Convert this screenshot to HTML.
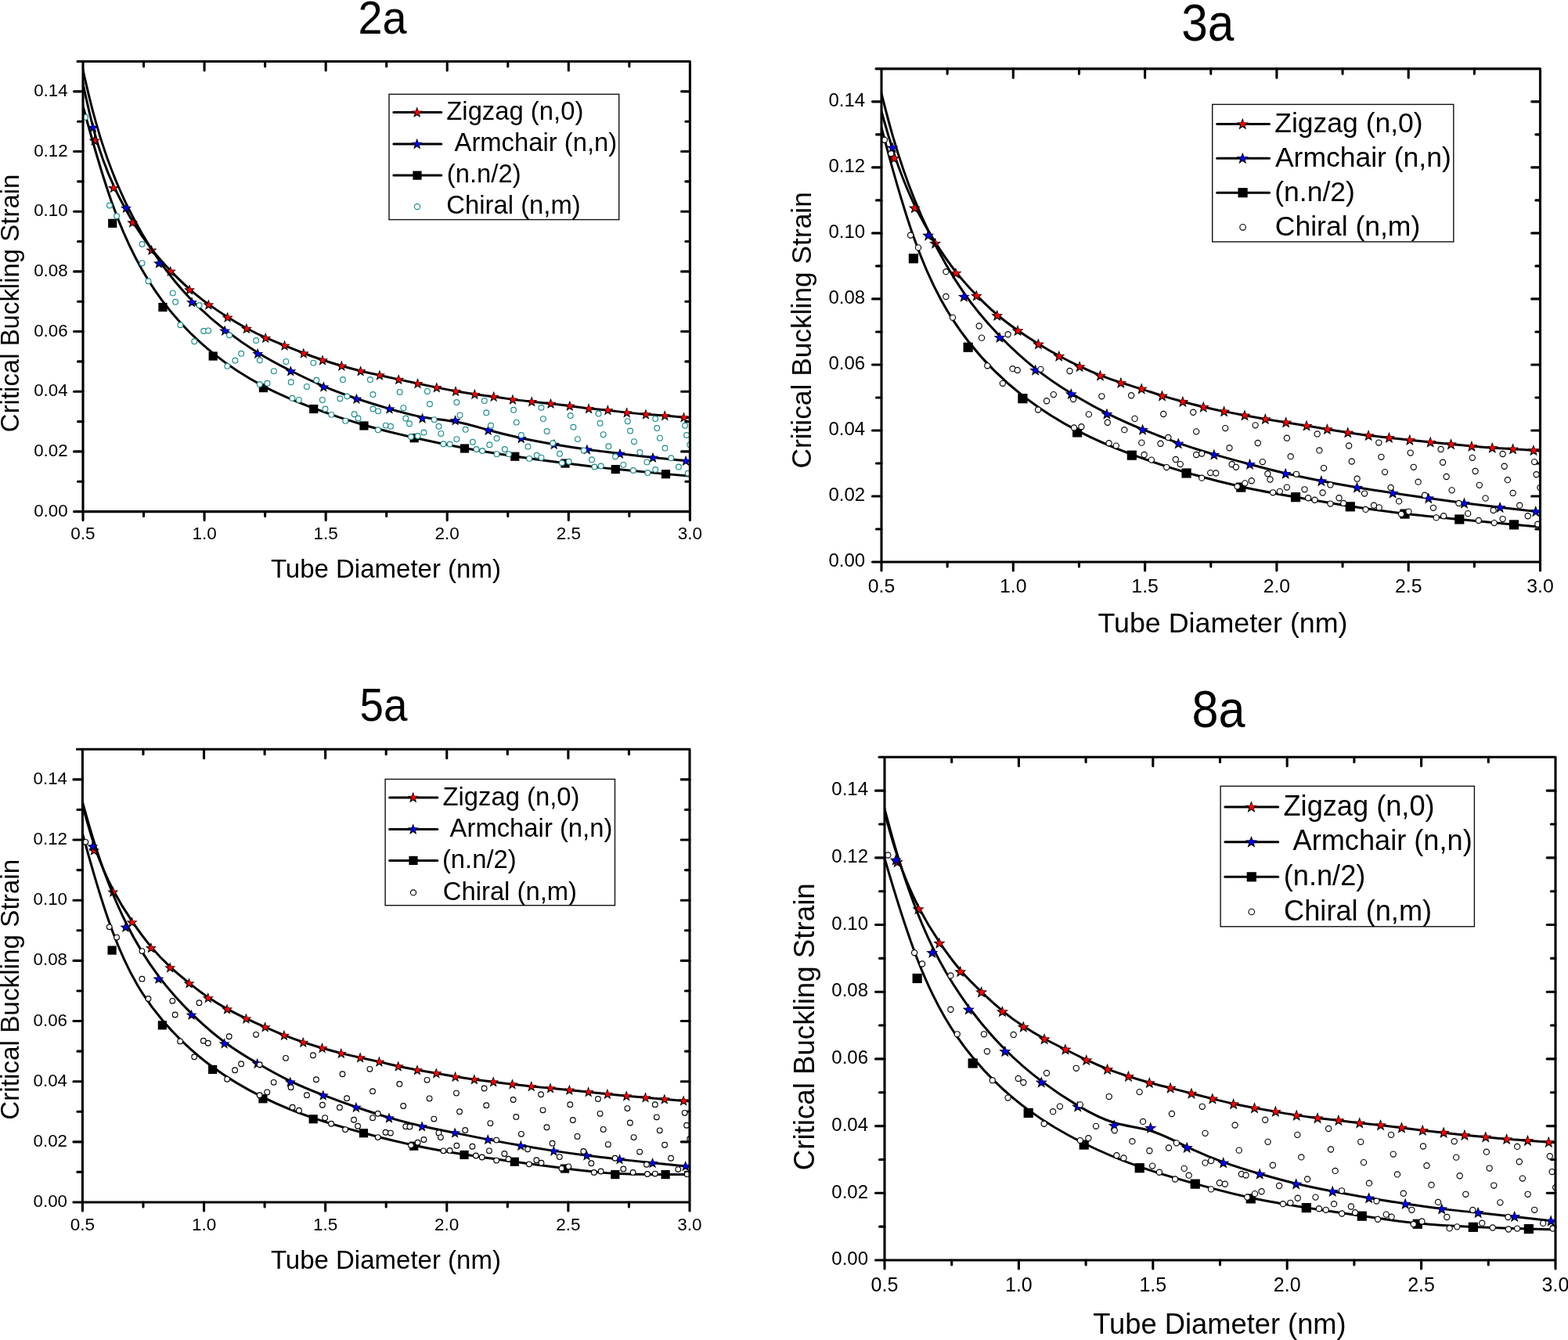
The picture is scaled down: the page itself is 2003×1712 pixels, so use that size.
<!DOCTYPE html>
<html><head><meta charset="utf-8"><title>Critical Buckling Strain</title>
<style>html,body{margin:0;padding:0;background:#fff;}svg{display:block;}</style>
</head><body>
<svg width="2003" height="1712" viewBox="0 0 2003 1712">
<rect width="2003" height="1712" fill="#fff"/>
<g id="p2a">
<clipPath id="clip2a"><rect x="106" y="78.5" width="775.4" height="575.1"/></clipPath>
<path d="M183.54,653.6V659.6 M183.54,78.5V85 M261.08,653.6V664.6 M261.08,78.5V90 M338.62,653.6V659.6 M338.62,78.5V85 M416.16,653.6V664.6 M416.16,78.5V90 M493.7,653.6V659.6 M493.7,78.5V85 M571.24,653.6V664.6 M571.24,78.5V90 M648.78,653.6V659.6 M648.78,78.5V85 M726.32,653.6V664.6 M726.32,78.5V90 M803.86,653.6V659.6 M803.86,78.5V85 M99.5,615.26H106 M875.8,615.26H881.4 M94.5,576.92H106 M870.6,576.92H881.4 M99.5,538.58H106 M875.8,538.58H881.4 M94.5,500.24H106 M870.6,500.24H881.4 M99.5,461.9H106 M875.8,461.9H881.4 M94.5,423.56H106 M870.6,423.56H881.4 M99.5,385.22H106 M875.8,385.22H881.4 M94.5,346.88H106 M870.6,346.88H881.4 M99.5,308.54H106 M875.8,308.54H881.4 M94.5,270.2H106 M870.6,270.2H881.4 M99.5,231.86H106 M875.8,231.86H881.4 M94.5,193.52H106 M870.6,193.52H881.4 M99.5,155.18H106 M875.8,155.18H881.4 M94.5,116.84H106 M870.6,116.84H881.4" fill="none" stroke="#000" stroke-width="3.1" stroke-linecap="round"/>
<g clip-path="url(#clip2a)">
<path d="M96.64,62.47 C96.64,62.47 96.64,62.47 100.69,81.99 C104.74,101.52 112.83,140.58 120.93,170.18 C129.02,199.78 137.12,219.93 145.21,237.39 C153.31,254.86 161.41,269.64 169.5,282.91 C177.6,296.18 185.69,307.95 193.79,318.32 C201.88,328.7 209.98,337.67 218.08,346.12 C226.17,354.56 234.27,362.46 242.36,369.58 C250.46,376.7 258.55,383.04 266.65,388.91 C274.74,394.78 282.84,400.18 290.94,405.26 C299.03,410.34 307.13,415.11 315.22,419.49 C323.32,423.87 331.41,427.87 339.51,431.48 C347.61,435.09 355.7,438.31 363.8,441.57 C371.89,444.83 379.99,448.12 388.08,451.24 C396.18,454.36 404.27,457.31 412.37,460.01 C420.47,462.71 428.56,465.16 436.66,467.47 C444.75,469.79 452.85,471.96 460.94,473.93 C469.04,475.89 477.13,477.65 485.23,479.45 C493.33,481.26 501.42,483.11 509.52,484.88 C517.61,486.66 525.71,488.37 533.8,490.07 C541.9,491.78 550,493.48 558.09,495.12 C566.19,496.76 574.28,498.33 582.38,499.76 C590.47,501.19 598.57,502.49 606.66,503.65 C614.76,504.81 622.86,505.83 630.95,506.96 C639.05,508.09 647.14,509.31 655.24,510.37 C663.33,511.43 671.43,512.32 679.53,513.17 C687.62,514.02 695.72,514.84 703.81,515.76 C711.91,516.68 720,517.71 728.1,518.76 C736.19,519.82 744.29,520.91 752.39,521.8 C760.48,522.69 768.58,523.37 776.67,524.26 C784.77,525.15 792.86,526.24 800.96,527.12 C809.06,528.01 817.15,528.69 825.25,529.31 C833.34,529.92 841.44,530.47 849.53,531.12 C857.63,531.76 865.72,532.51 873.82,533.23 C881.92,533.94 890.01,534.62 898.11,535.25 C906.2,535.89 914.3,536.49 918.35,536.79 C922.39,537.09 922.39,537.09 922.39,537.09" fill="none" stroke="#000" stroke-width="3" stroke-linejoin="round"/>
<path d="M120.63,172.63 L122.45,177.52 L127.67,177.74 L123.58,180.99 L124.98,186.02 L120.63,183.14 L116.28,186.02 L117.67,180.99 L113.59,177.74 L118.8,177.52Z" fill="#000"/><path d="M121.03,174.97 L122.29,177.89 L125.46,178.19 L123.07,180.29 L123.77,183.4 L121.03,181.77 L118.29,183.4 L118.99,180.29 L116.59,178.19 L119.77,177.89Z" fill="#ff0000"/>
<path d="M144.91,233.08 L146.74,237.97 L151.95,238.19 L147.87,241.44 L149.26,246.47 L144.91,243.59 L140.57,246.47 L141.96,241.44 L137.88,238.19 L143.09,237.97Z" fill="#000"/><path d="M145.31,235.42 L146.58,238.35 L149.75,238.64 L147.35,240.74 L148.05,243.85 L145.31,242.23 L142.57,243.85 L143.28,240.74 L140.88,238.64 L144.05,238.35Z" fill="#ff0000"/>
<path d="M169.2,277.41 L171.03,282.3 L176.24,282.53 L172.16,285.77 L173.55,290.8 L169.2,287.92 L164.85,290.8 L166.25,285.77 L162.16,282.53 L167.37,282.3Z" fill="#000"/><path d="M169.6,279.75 L170.86,282.68 L174.04,282.97 L171.64,285.08 L172.34,288.18 L169.6,286.56 L166.86,288.18 L167.56,285.08 L165.17,282.97 L168.34,282.68Z" fill="#ff0000"/>
<path d="M193.49,312.72 L195.32,317.6 L200.53,317.83 L196.44,321.08 L197.84,326.11 L193.49,323.23 L189.14,326.11 L190.53,321.08 L186.45,317.83 L191.66,317.6Z" fill="#000"/><path d="M193.89,315.06 L195.15,317.98 L198.32,318.28 L195.93,320.38 L196.63,323.49 L193.89,321.86 L191.15,323.49 L191.85,320.38 L189.45,318.28 L192.63,317.98Z" fill="#ff0000"/>
<path d="M217.78,339.65 L219.6,344.54 L224.81,344.77 L220.73,348.01 L222.12,353.04 L217.78,350.16 L213.43,353.04 L214.82,348.01 L210.74,344.77 L215.95,344.54Z" fill="#000"/><path d="M218.18,341.99 L219.44,344.92 L222.61,345.21 L220.21,347.32 L220.92,350.42 L218.18,348.8 L215.43,350.42 L216.14,347.32 L213.74,345.21 L216.91,344.92Z" fill="#ff0000"/>
<path d="M242.06,363.36 L243.89,368.25 L249.1,368.48 L245.02,371.72 L246.41,376.75 L242.06,373.87 L237.71,376.75 L239.11,371.72 L235.02,368.48 L240.24,368.25Z" fill="#000"/><path d="M242.46,365.7 L243.72,368.63 L246.9,368.92 L244.5,371.03 L245.2,374.13 L242.46,372.51 L239.72,374.13 L240.42,371.03 L238.03,368.92 L241.2,368.63Z" fill="#ff0000"/>
<path d="M266.35,382.38 L268.18,387.27 L273.39,387.49 L269.3,390.74 L270.7,395.77 L266.35,392.89 L262,395.77 L263.39,390.74 L259.31,387.49 L264.52,387.27Z" fill="#000"/><path d="M266.75,384.72 L268.01,387.64 L271.18,387.94 L268.79,390.04 L269.49,393.15 L266.75,391.52 L264.01,393.15 L264.71,390.04 L262.32,387.94 L265.49,387.64Z" fill="#ff0000"/>
<path d="M290.64,398.57 L292.46,403.46 L297.67,403.69 L293.59,406.93 L294.99,411.96 L290.64,409.08 L286.29,411.96 L287.68,406.93 L283.6,403.69 L288.81,403.46Z" fill="#000"/><path d="M291.04,400.91 L292.3,403.84 L295.47,404.13 L293.08,406.24 L293.78,409.34 L291.04,407.72 L288.3,409.34 L289,406.24 L286.6,404.13 L289.78,403.84Z" fill="#ff0000"/>
<path d="M314.92,412.87 L316.75,417.76 L321.96,417.99 L317.88,421.23 L319.27,426.26 L314.92,423.38 L310.57,426.26 L311.97,421.23 L307.88,417.99 L313.1,417.76Z" fill="#000"/><path d="M315.32,415.21 L316.58,418.14 L319.76,418.43 L317.36,420.54 L318.06,423.65 L315.32,422.02 L312.58,423.65 L313.28,420.54 L310.89,418.43 L314.06,418.14Z" fill="#ff0000"/>
<path d="M339.21,424.86 L341.04,429.75 L346.25,429.97 L342.17,433.22 L343.56,438.25 L339.21,435.37 L334.86,438.25 L336.25,433.22 L332.17,429.97 L337.38,429.75Z" fill="#000"/><path d="M339.61,427.2 L340.87,430.13 L344.04,430.42 L341.65,432.52 L342.35,435.63 L339.61,434.01 L336.87,435.63 L337.57,432.52 L335.18,430.42 L338.35,430.13Z" fill="#ff0000"/>
<path d="M363.5,434.54 L365.32,439.42 L370.53,439.65 L366.45,442.9 L367.85,447.92 L363.5,445.04 L359.15,447.92 L360.54,442.9 L356.46,439.65 L361.67,439.42Z" fill="#000"/><path d="M363.9,436.87 L365.16,439.8 L368.33,440.09 L365.94,442.2 L366.64,445.31 L363.9,443.68 L361.16,445.31 L361.86,442.2 L359.46,440.09 L362.64,439.8Z" fill="#ff0000"/>
<path d="M387.78,444.42 L389.61,449.31 L394.82,449.53 L390.74,452.78 L392.13,457.81 L387.78,454.93 L383.43,457.81 L384.83,452.78 L380.75,449.53 L385.96,449.31Z" fill="#000"/><path d="M388.18,446.76 L389.44,449.68 L392.62,449.98 L390.22,452.08 L390.92,455.19 L388.18,453.56 L385.44,455.19 L386.14,452.08 L383.75,449.98 L386.92,449.68Z" fill="#ff0000"/>
<path d="M412.07,453.25 L413.9,458.14 L419.11,458.37 L415.03,461.61 L416.42,466.64 L412.07,463.76 L407.72,466.64 L409.11,461.61 L405.03,458.37 L410.24,458.14Z" fill="#000"/><path d="M412.47,455.59 L413.73,458.52 L416.9,458.81 L414.51,460.92 L415.21,464.02 L412.47,462.4 L409.73,464.02 L410.43,460.92 L408.04,458.81 L411.21,458.52Z" fill="#ff0000"/>
<path d="M436.36,460.61 L438.18,465.5 L443.39,465.73 L439.31,468.97 L440.71,474 L436.36,471.12 L432.01,474 L433.4,468.97 L429.32,465.73 L434.53,465.5Z" fill="#000"/><path d="M436.76,462.95 L438.02,465.88 L441.19,466.17 L438.8,468.28 L439.5,471.38 L436.76,469.76 L434.02,471.38 L434.72,468.28 L432.32,466.17 L435.5,465.88Z" fill="#ff0000"/>
<path d="M460.64,467.13 L462.47,472.02 L467.68,472.25 L463.6,475.49 L464.99,480.52 L460.64,477.64 L456.29,480.52 L457.69,475.49 L453.61,472.25 L458.82,472.02Z" fill="#000"/><path d="M461.04,469.47 L462.3,472.4 L465.48,472.69 L463.08,474.8 L463.78,477.9 L461.04,476.28 L458.3,477.9 L459,474.8 L456.61,472.69 L459.78,472.4Z" fill="#ff0000"/>
<path d="M484.93,472.41 L486.76,477.29 L491.97,477.52 L487.89,480.77 L489.28,485.8 L484.93,482.92 L480.58,485.8 L481.97,480.77 L477.89,477.52 L483.1,477.29Z" fill="#000"/><path d="M485.33,474.75 L486.59,477.67 L489.76,477.97 L487.37,480.07 L488.07,483.18 L485.33,481.55 L482.59,483.18 L483.29,480.07 L480.9,477.97 L484.07,477.67Z" fill="#ff0000"/>
<path d="M509.22,477.95 L511.04,482.84 L516.26,483.07 L512.17,486.31 L513.57,491.34 L509.22,488.46 L504.87,491.34 L506.26,486.31 L502.18,483.07 L507.39,482.84Z" fill="#000"/><path d="M509.62,480.29 L510.88,483.22 L514.05,483.51 L511.66,485.62 L512.36,488.73 L509.62,487.1 L506.88,488.73 L507.58,485.62 L505.18,483.51 L508.36,483.22Z" fill="#ff0000"/>
<path d="M533.5,483.07 L535.33,487.96 L540.54,488.18 L536.46,491.43 L537.85,496.46 L533.5,493.58 L529.15,496.46 L530.55,491.43 L526.47,488.18 L531.68,487.96Z" fill="#000"/><path d="M533.9,485.41 L535.16,488.34 L538.34,488.63 L535.94,490.73 L536.64,493.84 L533.9,492.22 L531.16,493.84 L531.86,490.73 L529.47,488.63 L532.64,488.34Z" fill="#ff0000"/>
<path d="M557.79,488.19 L559.62,493.07 L564.83,493.3 L560.75,496.55 L562.14,501.58 L557.79,498.7 L553.44,501.58 L554.84,496.55 L550.75,493.3 L555.96,493.07Z" fill="#000"/><path d="M558.19,490.53 L559.45,493.45 L562.62,493.75 L560.23,495.85 L560.93,498.96 L558.19,497.33 L555.45,498.96 L556.15,495.85 L553.76,493.75 L556.93,493.45Z" fill="#ff0000"/>
<path d="M582.08,492.9 L583.9,497.78 L589.12,498.01 L585.03,501.26 L586.43,506.28 L582.08,503.41 L577.73,506.28 L579.12,501.26 L575.04,498.01 L580.25,497.78Z" fill="#000"/><path d="M582.48,495.24 L583.74,498.16 L586.91,498.46 L584.52,500.56 L585.22,503.67 L582.48,502.04 L579.74,503.67 L580.44,500.56 L578.04,498.46 L581.22,498.16Z" fill="#ff0000"/>
<path d="M606.36,496.79 L608.19,501.67 L613.4,501.9 L609.32,505.15 L610.71,510.17 L606.36,507.3 L602.02,510.17 L603.41,505.15 L599.33,501.9 L604.54,501.67Z" fill="#000"/><path d="M606.76,499.13 L608.03,502.05 L611.2,502.35 L608.8,504.45 L609.5,507.56 L606.76,505.93 L604.02,507.56 L604.73,504.45 L602.33,502.35 L605.5,502.05Z" fill="#ff0000"/>
<path d="M630.65,499.86 L632.48,504.74 L637.69,504.97 L633.61,508.22 L635,513.24 L630.65,510.37 L626.3,513.24 L627.7,508.22 L623.61,504.97 L628.82,504.74Z" fill="#000"/><path d="M631.05,502.2 L632.31,505.12 L635.49,505.42 L633.09,507.52 L633.79,510.63 L631.05,509 L628.31,510.63 L629.01,507.52 L626.62,505.42 L629.79,505.12Z" fill="#ff0000"/>
<path d="M654.94,503.54 L656.77,508.43 L661.98,508.66 L657.89,511.9 L659.29,516.93 L654.94,514.05 L650.59,516.93 L651.98,511.9 L647.9,508.66 L653.11,508.43Z" fill="#000"/><path d="M655.34,505.88 L656.6,508.81 L659.77,509.1 L657.38,511.21 L658.08,514.31 L655.34,512.69 L652.6,514.31 L653.3,511.21 L650.9,509.1 L654.08,508.81Z" fill="#ff0000"/>
<path d="M679.23,506.2 L681.05,511.09 L686.26,511.32 L682.18,514.56 L683.57,519.59 L679.23,516.71 L674.88,519.59 L676.27,514.56 L672.19,511.32 L677.4,511.09Z" fill="#000"/><path d="M679.63,508.54 L680.89,511.47 L684.06,511.76 L681.66,513.87 L682.37,516.98 L679.63,515.35 L676.88,516.98 L677.59,513.87 L675.19,511.76 L678.36,511.47Z" fill="#ff0000"/>
<path d="M703.51,508.66 L705.34,513.55 L710.55,513.77 L706.47,517.02 L707.86,522.05 L703.51,519.17 L699.16,522.05 L700.56,517.02 L696.47,513.77 L701.69,513.55Z" fill="#000"/><path d="M703.91,511 L705.17,513.93 L708.35,514.22 L705.95,516.32 L706.65,519.43 L703.91,517.8 L701.17,519.43 L701.87,516.32 L699.48,514.22 L702.65,513.93Z" fill="#ff0000"/>
<path d="M727.8,511.73 L729.63,516.62 L734.84,516.84 L730.75,520.09 L732.15,525.12 L727.8,522.24 L723.45,525.12 L724.84,520.09 L720.76,516.84 L725.97,516.62Z" fill="#000"/><path d="M728.2,514.07 L729.46,517 L732.63,517.29 L730.24,519.39 L730.94,522.5 L728.2,520.88 L725.46,522.5 L726.16,519.39 L723.77,517.29 L726.94,517Z" fill="#ff0000"/>
<path d="M752.09,515.01 L753.91,519.89 L759.12,520.12 L755.04,523.37 L756.44,528.39 L752.09,525.51 L747.74,528.39 L749.13,523.37 L745.05,520.12 L750.26,519.89Z" fill="#000"/><path d="M752.49,517.34 L753.75,520.27 L756.92,520.57 L754.53,522.67 L755.23,525.78 L752.49,524.15 L749.75,525.78 L750.45,522.67 L748.05,520.57 L751.23,520.27Z" fill="#ff0000"/>
<path d="M776.37,517.05 L778.2,521.94 L783.41,522.17 L779.33,525.41 L780.72,530.44 L776.37,527.56 L772.02,530.44 L773.42,525.41 L769.33,522.17 L774.55,521.94Z" fill="#000"/><path d="M776.77,519.39 L778.03,522.32 L781.21,522.61 L778.81,524.72 L779.51,527.82 L776.77,526.2 L774.03,527.82 L774.73,524.72 L772.34,522.61 L775.51,522.32Z" fill="#ff0000"/>
<path d="M800.66,520.33 L802.49,525.21 L807.7,525.44 L803.62,528.69 L805.01,533.72 L800.66,530.84 L796.31,533.72 L797.7,528.69 L793.62,525.44 L798.83,525.21Z" fill="#000"/><path d="M801.06,522.67 L802.32,525.59 L805.49,525.89 L803.1,527.99 L803.8,531.1 L801.06,529.47 L798.32,531.1 L799.02,527.99 L796.63,525.89 L799.8,525.59Z" fill="#ff0000"/>
<path d="M824.95,522.38 L826.77,527.26 L831.98,527.49 L827.9,530.74 L829.3,535.76 L824.95,532.88 L820.6,535.76 L821.99,530.74 L817.91,527.49 L823.12,527.26Z" fill="#000"/><path d="M825.35,524.71 L826.61,527.64 L829.78,527.94 L827.39,530.04 L828.09,533.15 L825.35,531.52 L822.61,533.15 L823.31,530.04 L820.91,527.94 L824.09,527.64Z" fill="#ff0000"/>
<path d="M849.23,524.01 L851.06,528.9 L856.27,529.13 L852.19,532.37 L853.58,537.4 L849.23,534.52 L844.88,537.4 L846.28,532.37 L842.2,529.13 L847.41,528.9Z" fill="#000"/><path d="M849.63,526.35 L850.89,529.28 L854.07,529.57 L851.67,531.68 L852.37,534.78 L849.63,533.16 L846.89,534.78 L847.59,531.68 L845.2,529.57 L848.37,529.28Z" fill="#ff0000"/>
<path d="M873.52,526.27 L875.35,531.15 L880.56,531.38 L876.48,534.63 L877.87,539.65 L873.52,536.77 L869.17,539.65 L870.56,534.63 L866.48,531.38 L871.69,531.15Z" fill="#000"/><path d="M873.92,528.6 L875.18,531.53 L878.35,531.82 L875.96,533.93 L876.66,537.04 L873.92,535.41 L871.18,537.04 L871.88,533.93 L869.49,531.82 L872.66,531.53Z" fill="#ff0000"/>
<path d="M77.12,-51.17 C77.12,-51.17 77.12,-51.17 84.13,-15.48 C91.14,20.22 105.16,91.6 119.18,144.43 C133.21,197.27 147.23,231.55 161.25,260.47 C175.27,289.38 189.29,312.92 203.32,332.98 C217.34,353.04 231.36,369.63 245.38,383.99 C259.4,398.35 273.43,410.48 287.45,421.42 C301.47,432.35 315.49,442.1 329.51,450.68 C343.54,459.27 357.56,466.7 371.58,473.78 C385.6,480.86 399.62,487.59 413.65,493.52 C427.67,499.44 441.69,504.56 455.71,509.25 C469.73,513.94 483.76,518.2 497.78,522.33 C511.8,526.47 525.82,530.48 539.84,532.93 C553.87,535.38 567.89,536.27 581.91,538.83 C595.93,541.39 609.95,545.62 623.98,549.44 C638,553.26 652.02,556.67 666.04,559.67 C680.06,562.67 694.09,565.27 708.11,567.66 C722.13,570.04 736.15,572.23 750.17,574.21 C764.2,576.19 778.22,577.96 792.24,579.67 C806.26,581.37 820.28,583.01 834.31,584.51 C848.33,586.01 862.35,587.38 876.37,588.67 C890.39,589.97 904.42,591.2 918.44,592.36 C932.46,593.52 946.48,594.61 953.49,595.16 C960.51,595.7 960.51,595.7 960.51,595.7" fill="none" stroke="#000" stroke-width="3" stroke-linejoin="round"/>
<path d="M118.88,155.98 L120.71,160.87 L125.92,161.1 L121.84,164.34 L123.23,169.37 L118.88,166.49 L114.53,169.37 L115.93,164.34 L111.85,161.1 L117.06,160.87Z" fill="#000"/><path d="M119.28,158.32 L120.54,161.25 L123.72,161.54 L121.32,163.65 L122.02,166.75 L119.28,165.13 L116.54,166.75 L117.24,163.65 L114.85,161.54 L118.02,161.25Z" fill="#0000ff"/>
<path d="M160.95,258.84 L162.78,263.73 L167.99,263.95 L163.91,267.2 L165.3,272.23 L160.95,269.35 L156.6,272.23 L157.99,267.2 L153.91,263.95 L159.12,263.73Z" fill="#000"/><path d="M161.35,261.18 L162.61,264.1 L165.78,264.4 L163.39,266.5 L164.09,269.61 L161.35,267.98 L158.61,269.61 L159.31,266.5 L156.92,264.4 L160.09,264.1Z" fill="#0000ff"/>
<path d="M203.02,329.45 L204.84,334.34 L210.05,334.57 L205.97,337.81 L207.37,342.84 L203.02,339.96 L198.67,342.84 L200.06,337.81 L195.98,334.57 L201.19,334.34Z" fill="#000"/><path d="M203.42,331.79 L204.68,334.72 L207.85,335.01 L205.46,337.12 L206.16,340.23 L203.42,338.6 L200.68,340.23 L201.38,337.12 L198.98,335.01 L202.16,334.72Z" fill="#0000ff"/>
<path d="M245.08,379.23 L246.91,384.11 L252.12,384.34 L248.04,387.59 L249.43,392.61 L245.08,389.73 L240.73,392.61 L242.13,387.59 L238.04,384.34 L243.26,384.11Z" fill="#000"/><path d="M245.48,381.56 L246.74,384.49 L249.92,384.78 L247.52,386.89 L248.22,390 L245.48,388.37 L242.74,390 L243.44,386.89 L241.05,384.78 L244.22,384.49Z" fill="#0000ff"/>
<path d="M287.15,415.61 L288.98,420.49 L294.19,420.72 L290.1,423.97 L291.5,428.99 L287.15,426.12 L282.8,428.99 L284.19,423.97 L280.11,420.72 L285.32,420.49Z" fill="#000"/><path d="M287.55,417.95 L288.81,420.87 L291.98,421.17 L289.59,423.27 L290.29,426.38 L287.55,424.75 L284.81,426.38 L285.51,423.27 L283.11,421.17 L286.29,420.87Z" fill="#0000ff"/>
<path d="M329.21,444.84 L331.04,449.73 L336.25,449.95 L332.17,453.2 L333.56,458.23 L329.21,455.35 L324.86,458.23 L326.26,453.2 L322.18,449.95 L327.39,449.73Z" fill="#000"/><path d="M329.61,447.18 L330.87,450.11 L334.05,450.4 L331.65,452.5 L332.35,455.61 L329.61,453.98 L326.87,455.61 L327.57,452.5 L325.18,450.4 L328.35,450.11Z" fill="#0000ff"/>
<path d="M371.28,467.13 L373.11,472.02 L378.32,472.25 L374.24,475.49 L375.63,480.52 L371.28,477.64 L366.93,480.52 L368.32,475.49 L364.24,472.25 L369.45,472.02Z" fill="#000"/><path d="M371.68,469.47 L372.94,472.4 L376.11,472.69 L373.72,474.8 L374.42,477.9 L371.68,476.28 L368.94,477.9 L369.64,474.8 L367.25,472.69 L370.42,472.4Z" fill="#0000ff"/>
<path d="M413.35,487.32 L415.17,492.21 L420.38,492.44 L416.3,495.68 L417.7,500.71 L413.35,497.83 L409,500.71 L410.39,495.68 L406.31,492.44 L411.52,492.21Z" fill="#000"/><path d="M413.75,489.66 L415.01,492.59 L418.18,492.88 L415.79,494.98 L416.49,498.09 L413.75,496.47 L411.01,498.09 L411.71,494.98 L409.31,492.88 L412.49,492.59Z" fill="#0000ff"/>
<path d="M455.41,502.67 L457.24,507.56 L462.45,507.79 L458.37,511.03 L459.76,516.06 L455.41,513.18 L451.06,516.06 L452.46,511.03 L448.37,507.79 L453.59,507.56Z" fill="#000"/><path d="M455.81,505.01 L457.07,507.94 L460.25,508.23 L457.85,510.34 L458.55,513.45 L455.81,511.82 L453.07,513.45 L453.77,510.34 L451.38,508.23 L454.55,507.94Z" fill="#0000ff"/>
<path d="M497.48,515.46 L499.31,520.34 L504.52,520.57 L500.43,523.82 L501.83,528.85 L497.48,525.97 L493.13,528.85 L494.52,523.82 L490.44,520.57 L495.65,520.34Z" fill="#000"/><path d="M497.88,517.8 L499.14,520.72 L502.31,521.02 L499.92,523.12 L500.62,526.23 L497.88,524.6 L495.14,526.23 L495.84,523.12 L493.44,521.02 L496.62,520.72Z" fill="#0000ff"/>
<path d="M539.54,527.49 L541.37,532.38 L546.58,532.61 L542.5,535.85 L543.89,540.88 L539.54,538 L535.19,540.88 L536.59,535.85 L532.51,532.61 L537.72,532.38Z" fill="#000"/><path d="M539.94,529.83 L541.21,532.76 L544.38,533.05 L541.98,535.16 L542.68,538.26 L539.94,536.64 L537.2,538.26 L537.91,535.16 L535.51,533.05 L538.68,532.76Z" fill="#0000ff"/>
<path d="M581.61,530.15 L583.44,535.04 L588.65,535.27 L584.57,538.51 L585.96,543.54 L581.61,540.66 L577.26,543.54 L578.65,538.51 L574.57,535.27 L579.78,535.04Z" fill="#000"/><path d="M582.01,532.49 L583.27,535.42 L586.44,535.71 L584.05,537.82 L584.75,540.93 L582.01,539.3 L579.27,540.93 L579.97,537.82 L577.58,535.71 L580.75,535.42Z" fill="#0000ff"/>
<path d="M623.68,542.85 L625.5,547.73 L630.71,547.96 L626.63,551.21 L628.03,556.23 L623.68,553.35 L619.33,556.23 L620.72,551.21 L616.64,547.96 L621.85,547.73Z" fill="#000"/><path d="M624.08,545.18 L625.34,548.11 L628.51,548.41 L626.12,550.51 L626.82,553.62 L624.08,551.99 L621.34,553.62 L622.04,550.51 L619.64,548.41 L622.82,548.11Z" fill="#0000ff"/>
<path d="M665.74,553.08 L667.57,557.97 L672.78,558.2 L668.7,561.44 L670.09,566.47 L665.74,563.59 L661.39,566.47 L662.79,561.44 L658.7,558.2 L663.92,557.97Z" fill="#000"/><path d="M666.14,555.42 L667.4,558.35 L670.58,558.64 L668.18,560.74 L668.88,563.85 L666.14,562.23 L663.4,563.85 L664.1,560.74 L661.71,558.64 L664.88,558.35Z" fill="#0000ff"/>
<path d="M707.81,560.86 L709.64,565.75 L714.85,565.97 L710.76,569.22 L712.16,574.25 L707.81,571.37 L703.46,574.25 L704.85,569.22 L700.77,565.97 L705.98,565.75Z" fill="#000"/><path d="M708.21,563.2 L709.47,566.13 L712.64,566.42 L710.25,568.52 L710.95,571.63 L708.21,570.01 L705.47,571.63 L706.17,568.52 L703.77,566.42 L706.95,566.13Z" fill="#0000ff"/>
<path d="M749.87,567.41 L751.7,572.3 L756.91,572.52 L752.83,575.77 L754.22,580.8 L749.87,577.92 L745.53,580.8 L746.92,575.77 L742.84,572.52 L748.05,572.3Z" fill="#000"/><path d="M750.27,569.75 L751.54,572.68 L754.71,572.97 L752.31,575.07 L753.02,578.18 L750.27,576.56 L747.53,578.18 L748.24,575.07 L745.84,572.97 L749.01,572.68Z" fill="#0000ff"/>
<path d="M791.94,572.73 L793.77,577.62 L798.98,577.85 L794.9,581.09 L796.29,586.12 L791.94,583.24 L787.59,586.12 L788.98,581.09 L784.9,577.85 L790.11,577.62Z" fill="#000"/><path d="M792.34,575.07 L793.6,578 L796.77,578.29 L794.38,580.4 L795.08,583.51 L792.34,581.88 L789.6,583.51 L790.3,580.4 L787.91,578.29 L791.08,578Z" fill="#0000ff"/>
<path d="M834.01,577.65 L835.83,582.53 L841.04,582.76 L836.96,586.01 L838.36,591.03 L834.01,588.15 L829.66,591.03 L831.05,586.01 L826.97,582.76 L832.18,582.53Z" fill="#000"/><path d="M834.41,579.98 L835.67,582.91 L838.84,583.21 L836.45,585.31 L837.15,588.42 L834.41,586.79 L831.67,588.42 L832.37,585.31 L829.97,583.21 L833.15,582.91Z" fill="#0000ff"/>
<path d="M876.07,581.74 L877.9,586.63 L883.11,586.85 L879.03,590.1 L880.42,595.13 L876.07,592.25 L871.72,595.13 L873.12,590.1 L869.04,586.85 L874.25,586.63Z" fill="#000"/><path d="M876.47,584.08 L877.73,587.01 L880.91,587.3 L878.51,589.4 L879.21,592.51 L876.47,590.89 L873.73,592.51 L874.43,589.4 L872.04,587.3 L875.21,587.01Z" fill="#0000ff"/>
<path d="M79.43,32.92 C79.43,32.92 79.43,32.92 90.14,74.98 C100.85,117.04 122.27,201.17 143.69,261.1 C165.11,321.04 186.53,356.79 207.95,385.07 C229.37,413.35 250.79,434.17 272.2,451.35 C293.62,468.52 315.04,482.05 336.46,493.31 C357.88,504.56 379.3,513.53 400.72,521.59 C422.14,529.65 443.56,536.8 464.98,543 C486.39,549.19 507.81,554.43 529.23,559.27 C550.65,564.11 572.07,568.54 593.49,572.47 C614.91,576.39 636.33,579.8 657.75,582.98 C679.17,586.15 700.58,589.08 722,591.81 C743.42,594.54 764.84,597.07 786.26,599.35 C807.68,601.64 829.1,603.68 850.52,605.63 C871.94,607.57 893.36,609.42 914.77,611.16 C936.19,612.9 957.61,614.53 968.32,615.35 C979.03,616.17 979.03,616.17 979.03,616.17" fill="none" stroke="#000" stroke-width="3" stroke-linejoin="round"/>
<rect x="138.09" y="279.69" width="11.2" height="11.2" fill="#000"/>
<rect x="202.35" y="386.93" width="11.2" height="11.2" fill="#000"/>
<rect x="266.6" y="449.39" width="11.2" height="11.2" fill="#000"/>
<rect x="330.86" y="489.98" width="11.2" height="11.2" fill="#000"/>
<rect x="395.12" y="516.9" width="11.2" height="11.2" fill="#000"/>
<rect x="459.38" y="538.35" width="11.2" height="11.2" fill="#000"/>
<rect x="523.63" y="554.07" width="11.2" height="11.2" fill="#000"/>
<rect x="587.89" y="567.38" width="11.2" height="11.2" fill="#000"/>
<rect x="652.15" y="577.61" width="11.2" height="11.2" fill="#000"/>
<rect x="716.4" y="586.42" width="11.2" height="11.2" fill="#000"/>
<rect x="780.66" y="593.99" width="11.2" height="11.2" fill="#000"/>
<rect x="844.92" y="600.13" width="11.2" height="11.2" fill="#000"/>
<circle cx="109.11" cy="149.84" r="3.4" fill="#fff" stroke="#1a8c8c" stroke-width="1.15"/>
<circle cx="139.95" cy="262.51" r="3.4" fill="#fff" stroke="#1a8c8c" stroke-width="1.15"/>
<circle cx="149.06" cy="276" r="3.4" fill="#fff" stroke="#1a8c8c" stroke-width="1.15"/>
<circle cx="181.54" cy="311.96" r="3.4" fill="#fff" stroke="#1a8c8c" stroke-width="1.15"/>
<circle cx="181.54" cy="336.14" r="3.4" fill="#fff" stroke="#1a8c8c" stroke-width="1.15"/>
<circle cx="189.55" cy="359.27" r="3.4" fill="#fff" stroke="#1a8c8c" stroke-width="1.15"/>
<circle cx="220.7" cy="374.39" r="3.4" fill="#fff" stroke="#1a8c8c" stroke-width="1.15"/>
<circle cx="224.08" cy="385.8" r="3.4" fill="#fff" stroke="#1a8c8c" stroke-width="1.15"/>
<circle cx="230.39" cy="415.25" r="3.4" fill="#fff" stroke="#1a8c8c" stroke-width="1.15"/>
<circle cx="248.26" cy="436.28" r="3.4" fill="#fff" stroke="#1a8c8c" stroke-width="1.15"/>
<circle cx="254.57" cy="390.01" r="3.4" fill="#fff" stroke="#1a8c8c" stroke-width="1.15"/>
<circle cx="260.25" cy="423.03" r="3.4" fill="#fff" stroke="#1a8c8c" stroke-width="1.15"/>
<circle cx="266.14" cy="422.4" r="3.4" fill="#fff" stroke="#1a8c8c" stroke-width="1.15"/>
<circle cx="290.33" cy="467.82" r="3.4" fill="#fff" stroke="#1a8c8c" stroke-width="1.15"/>
<circle cx="293.06" cy="428.29" r="3.4" fill="#fff" stroke="#1a8c8c" stroke-width="1.15"/>
<circle cx="300.42" cy="460.46" r="3.4" fill="#fff" stroke="#1a8c8c" stroke-width="1.15"/>
<circle cx="308.2" cy="451.84" r="3.4" fill="#fff" stroke="#1a8c8c" stroke-width="1.15"/>
<circle cx="327.13" cy="435.02" r="3.4" fill="#fff" stroke="#1a8c8c" stroke-width="1.15"/>
<circle cx="331.76" cy="460.25" r="3.4" fill="#fff" stroke="#1a8c8c" stroke-width="1.15"/>
<circle cx="331.76" cy="490.96" r="3.4" fill="#fff" stroke="#1a8c8c" stroke-width="1.15"/>
<circle cx="341.43" cy="489.7" r="3.4" fill="#fff" stroke="#1a8c8c" stroke-width="1.15"/>
<circle cx="349.84" cy="474.13" r="3.4" fill="#fff" stroke="#1a8c8c" stroke-width="1.15"/>
<circle cx="365.4" cy="461.93" r="3.4" fill="#fff" stroke="#1a8c8c" stroke-width="1.15"/>
<circle cx="371.71" cy="488.22" r="3.4" fill="#fff" stroke="#1a8c8c" stroke-width="1.15"/>
<circle cx="373.4" cy="508.83" r="3.4" fill="#fff" stroke="#1a8c8c" stroke-width="1.15"/>
<circle cx="381.81" cy="510.94" r="3.4" fill="#fff" stroke="#1a8c8c" stroke-width="1.15"/>
<circle cx="391.9" cy="493.9" r="3.4" fill="#fff" stroke="#1a8c8c" stroke-width="1.15"/>
<circle cx="400.32" cy="463.62" r="3.4" fill="#fff" stroke="#1a8c8c" stroke-width="1.15"/>
<circle cx="404.31" cy="485.7" r="3.4" fill="#fff" stroke="#1a8c8c" stroke-width="1.15"/>
<circle cx="411.88" cy="510.94" r="3.4" fill="#fff" stroke="#1a8c8c" stroke-width="1.15"/>
<circle cx="415.46" cy="522.5" r="3.4" fill="#fff" stroke="#1a8c8c" stroke-width="1.15"/>
<circle cx="423.24" cy="529.86" r="3.4" fill="#fff" stroke="#1a8c8c" stroke-width="1.15"/>
<circle cx="434.38" cy="509.25" r="3.4" fill="#fff" stroke="#1a8c8c" stroke-width="1.15"/>
<circle cx="437.96" cy="485.07" r="3.4" fill="#fff" stroke="#1a8c8c" stroke-width="1.15"/>
<circle cx="441.32" cy="537.64" r="3.4" fill="#fff" stroke="#1a8c8c" stroke-width="1.15"/>
<circle cx="443.43" cy="506.52" r="3.4" fill="#fff" stroke="#1a8c8c" stroke-width="1.15"/>
<circle cx="452.68" cy="529.23" r="3.4" fill="#fff" stroke="#1a8c8c" stroke-width="1.15"/>
<circle cx="457.52" cy="534.49" r="3.4" fill="#fff" stroke="#1a8c8c" stroke-width="1.15"/>
<circle cx="472.87" cy="485.07" r="3.4" fill="#fff" stroke="#1a8c8c" stroke-width="1.15"/>
<circle cx="476.45" cy="504" r="3.4" fill="#fff" stroke="#1a8c8c" stroke-width="1.15"/>
<circle cx="476.45" cy="522.5" r="3.4" fill="#fff" stroke="#1a8c8c" stroke-width="1.15"/>
<circle cx="483.12" cy="525.36" r="3.4" fill="#fff" stroke="#1a8c8c" stroke-width="1.15"/>
<circle cx="482.91" cy="549.32" r="3.4" fill="#fff" stroke="#1a8c8c" stroke-width="1.15"/>
<circle cx="492.77" cy="543.62" r="3.4" fill="#fff" stroke="#1a8c8c" stroke-width="1.15"/>
<circle cx="498.99" cy="544.76" r="3.4" fill="#fff" stroke="#1a8c8c" stroke-width="1.15"/>
<circle cx="510.71" cy="500.92" r="3.4" fill="#fff" stroke="#1a8c8c" stroke-width="1.15"/>
<circle cx="515.41" cy="521.19" r="3.4" fill="#fff" stroke="#1a8c8c" stroke-width="1.15"/>
<circle cx="518.28" cy="534.49" r="3.4" fill="#fff" stroke="#1a8c8c" stroke-width="1.15"/>
<circle cx="522.99" cy="541.25" r="3.4" fill="#fff" stroke="#1a8c8c" stroke-width="1.15"/>
<circle cx="533.63" cy="557.01" r="3.4" fill="#fff" stroke="#1a8c8c" stroke-width="1.15"/>
<circle cx="525.04" cy="558.03" r="3.4" fill="#fff" stroke="#1a8c8c" stroke-width="1.15"/>
<circle cx="541.41" cy="552.51" r="3.4" fill="#fff" stroke="#1a8c8c" stroke-width="1.15"/>
<circle cx="545.92" cy="499.9" r="3.4" fill="#fff" stroke="#1a8c8c" stroke-width="1.15"/>
<circle cx="548.99" cy="516.27" r="3.4" fill="#fff" stroke="#1a8c8c" stroke-width="1.15"/>
<circle cx="554.72" cy="536.13" r="3.4" fill="#fff" stroke="#1a8c8c" stroke-width="1.15"/>
<circle cx="560.45" cy="544.73" r="3.4" fill="#fff" stroke="#1a8c8c" stroke-width="1.15"/>
<circle cx="563.32" cy="553.94" r="3.4" fill="#fff" stroke="#1a8c8c" stroke-width="1.15"/>
<circle cx="566.39" cy="567.25" r="3.4" fill="#fff" stroke="#1a8c8c" stroke-width="1.15"/>
<circle cx="574.58" cy="567.45" r="3.4" fill="#fff" stroke="#1a8c8c" stroke-width="1.15"/>
<circle cx="583.38" cy="514.02" r="3.4" fill="#fff" stroke="#1a8c8c" stroke-width="1.15"/>
<circle cx="583.38" cy="561.11" r="3.4" fill="#fff" stroke="#1a8c8c" stroke-width="1.15"/>
<circle cx="587.47" cy="530.4" r="3.4" fill="#fff" stroke="#1a8c8c" stroke-width="1.15"/>
<circle cx="594.64" cy="548.82" r="3.4" fill="#fff" stroke="#1a8c8c" stroke-width="1.15"/>
<circle cx="603.85" cy="564.79" r="3.4" fill="#fff" stroke="#1a8c8c" stroke-width="1.15"/>
<circle cx="608.56" cy="574" r="3.4" fill="#fff" stroke="#1a8c8c" stroke-width="1.15"/>
<circle cx="616.13" cy="576.05" r="3.4" fill="#fff" stroke="#1a8c8c" stroke-width="1.15"/>
<circle cx="618.79" cy="511.98" r="3.4" fill="#fff" stroke="#1a8c8c" stroke-width="1.15"/>
<circle cx="621.25" cy="527.33" r="3.4" fill="#fff" stroke="#1a8c8c" stroke-width="1.15"/>
<circle cx="625.34" cy="568.27" r="3.4" fill="#fff" stroke="#1a8c8c" stroke-width="1.15"/>
<circle cx="626.98" cy="543.71" r="3.4" fill="#fff" stroke="#1a8c8c" stroke-width="1.15"/>
<circle cx="634.55" cy="560.08" r="3.4" fill="#fff" stroke="#1a8c8c" stroke-width="1.15"/>
<circle cx="634.55" cy="580.14" r="3.4" fill="#fff" stroke="#1a8c8c" stroke-width="1.15"/>
<circle cx="644.79" cy="574" r="3.4" fill="#fff" stroke="#1a8c8c" stroke-width="1.15"/>
<circle cx="649.91" cy="580.14" r="3.4" fill="#fff" stroke="#1a8c8c" stroke-width="1.15"/>
<circle cx="656.05" cy="523.85" r="3.4" fill="#fff" stroke="#1a8c8c" stroke-width="1.15"/>
<circle cx="659.73" cy="539.61" r="3.4" fill="#fff" stroke="#1a8c8c" stroke-width="1.15"/>
<circle cx="665.88" cy="555.99" r="3.4" fill="#fff" stroke="#1a8c8c" stroke-width="1.15"/>
<circle cx="674.47" cy="570.52" r="3.4" fill="#fff" stroke="#1a8c8c" stroke-width="1.15"/>
<circle cx="676.11" cy="585.88" r="3.4" fill="#fff" stroke="#1a8c8c" stroke-width="1.15"/>
<circle cx="685.73" cy="581.78" r="3.4" fill="#fff" stroke="#1a8c8c" stroke-width="1.15"/>
<circle cx="691.46" cy="584.65" r="3.4" fill="#fff" stroke="#1a8c8c" stroke-width="1.15"/>
<circle cx="691.46" cy="520.78" r="3.4" fill="#fff" stroke="#1a8c8c" stroke-width="1.15"/>
<circle cx="693.92" cy="535.11" r="3.4" fill="#fff" stroke="#1a8c8c" stroke-width="1.15"/>
<circle cx="698.63" cy="551.07" r="3.4" fill="#fff" stroke="#1a8c8c" stroke-width="1.15"/>
<circle cx="706.2" cy="566.22" r="3.4" fill="#fff" stroke="#1a8c8c" stroke-width="1.15"/>
<circle cx="715.01" cy="579.73" r="3.4" fill="#fff" stroke="#1a8c8c" stroke-width="1.15"/>
<circle cx="717.87" cy="591.4" r="3.4" fill="#fff" stroke="#1a8c8c" stroke-width="1.15"/>
<circle cx="726.67" cy="589.76" r="3.4" fill="#fff" stroke="#1a8c8c" stroke-width="1.15"/>
<circle cx="728.72" cy="531.01" r="3.4" fill="#fff" stroke="#1a8c8c" stroke-width="1.15"/>
<circle cx="732.41" cy="545.75" r="3.4" fill="#fff" stroke="#1a8c8c" stroke-width="1.15"/>
<circle cx="737.93" cy="561.11" r="3.4" fill="#fff" stroke="#1a8c8c" stroke-width="1.15"/>
<circle cx="745.71" cy="575.44" r="3.4" fill="#fff" stroke="#1a8c8c" stroke-width="1.15"/>
<circle cx="755.95" cy="587.31" r="3.4" fill="#fff" stroke="#1a8c8c" stroke-width="1.15"/>
<circle cx="759.43" cy="596.52" r="3.4" fill="#fff" stroke="#1a8c8c" stroke-width="1.15"/>
<circle cx="767.62" cy="595.5" r="3.4" fill="#fff" stroke="#1a8c8c" stroke-width="1.15"/>
<circle cx="764.54" cy="528.56" r="3.4" fill="#fff" stroke="#1a8c8c" stroke-width="1.15"/>
<circle cx="766.59" cy="540.84" r="3.4" fill="#fff" stroke="#1a8c8c" stroke-width="1.15"/>
<circle cx="770.69" cy="555.17" r="3.4" fill="#fff" stroke="#1a8c8c" stroke-width="1.15"/>
<circle cx="777.44" cy="570.32" r="3.4" fill="#fff" stroke="#1a8c8c" stroke-width="1.15"/>
<circle cx="786.04" cy="583.21" r="3.4" fill="#fff" stroke="#1a8c8c" stroke-width="1.15"/>
<circle cx="796.27" cy="593.86" r="3.4" fill="#fff" stroke="#1a8c8c" stroke-width="1.15"/>
<circle cx="801.8" cy="538.18" r="3.4" fill="#fff" stroke="#1a8c8c" stroke-width="1.15"/>
<circle cx="805.08" cy="550.46" r="3.4" fill="#fff" stroke="#1a8c8c" stroke-width="1.15"/>
<circle cx="809.99" cy="564.18" r="3.4" fill="#fff" stroke="#1a8c8c" stroke-width="1.15"/>
<circle cx="817.36" cy="578.1" r="3.4" fill="#fff" stroke="#1a8c8c" stroke-width="1.15"/>
<circle cx="808.97" cy="601.02" r="3.4" fill="#fff" stroke="#1a8c8c" stroke-width="1.15"/>
<circle cx="826.37" cy="590.38" r="3.4" fill="#fff" stroke="#1a8c8c" stroke-width="1.15"/>
<circle cx="827.39" cy="604.09" r="3.4" fill="#fff" stroke="#1a8c8c" stroke-width="1.15"/>
<circle cx="837.22" cy="600" r="3.4" fill="#fff" stroke="#1a8c8c" stroke-width="1.15"/>
<circle cx="837.22" cy="535.11" r="3.4" fill="#fff" stroke="#1a8c8c" stroke-width="1.15"/>
<circle cx="839.26" cy="546.98" r="3.4" fill="#fff" stroke="#1a8c8c" stroke-width="1.15"/>
<circle cx="842.95" cy="559.67" r="3.4" fill="#fff" stroke="#1a8c8c" stroke-width="1.15"/>
<circle cx="849.5" cy="572.57" r="3.4" fill="#fff" stroke="#1a8c8c" stroke-width="1.15"/>
<circle cx="857.28" cy="585.26" r="3.4" fill="#fff" stroke="#1a8c8c" stroke-width="1.15"/>
<circle cx="866.9" cy="596.52" r="3.4" fill="#fff" stroke="#1a8c8c" stroke-width="1.15"/>
<circle cx="875.09" cy="543.71" r="3.4" fill="#fff" stroke="#1a8c8c" stroke-width="1.15"/>
<circle cx="877.13" cy="555.99" r="3.4" fill="#fff" stroke="#1a8c8c" stroke-width="1.15"/>
<circle cx="881.23" cy="568.27" r="3.4" fill="#fff" stroke="#1a8c8c" stroke-width="1.15"/>
<circle cx="878.77" cy="604.71" r="3.4" fill="#fff" stroke="#1a8c8c" stroke-width="1.15"/>
</g>
<path d="M99,78.5H881.4 M94.5,653.6H881.4 M106,78.5V664.6 M881.4,78.5V664.6" fill="none" stroke="#000" stroke-width="3.1" stroke-linecap="round"/>
<g font-family="'Liberation Sans', Arial, Helvetica, sans-serif" fill="#000"><text x="86.6" y="659.6" text-anchor="end" font-size="22.3">0.00</text><text x="86.6" y="582.92" text-anchor="end" font-size="22.3">0.02</text><text x="86.6" y="506.24" text-anchor="end" font-size="22.3">0.04</text><text x="86.6" y="429.56" text-anchor="end" font-size="22.3">0.06</text><text x="86.6" y="352.88" text-anchor="end" font-size="22.3">0.08</text><text x="86.6" y="276.2" text-anchor="end" font-size="22.3">0.10</text><text x="86.6" y="199.52" text-anchor="end" font-size="22.3">0.12</text><text x="86.6" y="122.84" text-anchor="end" font-size="22.3">0.14</text><text x="106" y="689" text-anchor="middle" font-size="22.5">0.5</text><text x="261.08" y="689" text-anchor="middle" font-size="22.5">1.0</text><text x="416.16" y="689" text-anchor="middle" font-size="22.5">1.5</text><text x="571.24" y="689" text-anchor="middle" font-size="22.5">2.0</text><text x="726.32" y="689" text-anchor="middle" font-size="22.5">2.5</text><text x="881.4" y="689" text-anchor="middle" font-size="22.5">3.0</text></g>
<text font-family="'Liberation Sans', Arial, Helvetica, sans-serif" x="492.9" y="737.8" text-anchor="middle" font-size="33">Tube Diameter (nm)</text>
<text font-family="'Liberation Sans', Arial, Helvetica, sans-serif" transform="translate(24.3,387.4) rotate(-90)" text-anchor="middle" font-size="32.95">Critical Buckling Strain</text>
<text font-family="'Liberation Sans', Arial, Helvetica, sans-serif" x="457.48" y="42.8" font-size="59.5" textLength="62.18" lengthAdjust="spacingAndGlyphs">2a</text>
<rect x="497" y="120.4" width="293.7" height="160.2" fill="#fff" stroke="#111" stroke-width="1.4"/>
<path d="M502.9,143.6H563.8" stroke="#000" stroke-width="3" stroke-linecap="round"/>
<path d="M502.9,184H563.8" stroke="#000" stroke-width="3" stroke-linecap="round"/>
<path d="M502.9,224.1H563.8" stroke="#000" stroke-width="3" stroke-linecap="round"/>
<path d="M532.7,136.45 L534.56,141.44 L539.88,141.67 L535.72,144.98 L537.14,150.11 L532.7,147.17 L528.26,150.11 L529.68,144.98 L525.52,141.67 L530.84,141.44Z" fill="#000"/><path d="M533.1,138.84 L534.39,141.83 L537.62,142.13 L535.18,144.28 L535.9,147.45 L533.1,145.79 L530.3,147.45 L531.02,144.28 L528.58,142.13 L531.81,141.83Z" fill="#ff0000"/>
<path d="M532.7,176.85 L534.56,181.84 L539.88,182.07 L535.72,185.38 L537.14,190.51 L532.7,187.57 L528.26,190.51 L529.68,185.38 L525.52,182.07 L530.84,181.84Z" fill="#000"/><path d="M533.1,179.24 L534.39,182.23 L537.62,182.53 L535.18,184.68 L535.9,187.85 L533.1,186.19 L530.3,187.85 L531.02,184.68 L528.58,182.53 L531.81,182.23Z" fill="#0000ff"/>
<rect x="527.4" y="218.5" width="11.2" height="11.2" fill="#000"/>
<circle cx="533" cy="264" r="3.6" fill="#fff" stroke="#1a8c8c" stroke-width="1.15"/>
<text font-family="'Liberation Sans', Arial, Helvetica, sans-serif" x="570.32" y="153" font-size="32.8">Zigzag (n,0)</text>
<text font-family="'Liberation Sans', Arial, Helvetica, sans-serif" x="580.5" y="193.3" font-size="32.8">Armchair (n,n)</text>
<text font-family="'Liberation Sans', Arial, Helvetica, sans-serif" x="570.83" y="233" font-size="32.8">(n.n/2)</text>
<text font-family="'Liberation Sans', Arial, Helvetica, sans-serif" x="570.36" y="272.8" font-size="32.8">Chiral (n,m)</text>
</g>
<g id="p3a">
<clipPath id="clip3a"><rect x="1126" y="87.85" width="841.5" height="630.15"/></clipPath>
<path d="M1210.15,718V724 M1210.15,87.85V94.35 M1294.3,718V729 M1294.3,87.85V99.35 M1378.45,718V724 M1378.45,87.85V94.35 M1462.6,718V729 M1462.6,87.85V99.35 M1546.75,718V724 M1546.75,87.85V94.35 M1630.9,718V729 M1630.9,87.85V99.35 M1715.05,718V724 M1715.05,87.85V94.35 M1799.2,718V729 M1799.2,87.85V99.35 M1883.35,718V724 M1883.35,87.85V94.35 M1119.5,675.99H1126 M1961.9,675.99H1967.5 M1114.5,633.98H1126 M1956.7,633.98H1967.5 M1119.5,591.97H1126 M1961.9,591.97H1967.5 M1114.5,549.96H1126 M1956.7,549.96H1967.5 M1119.5,507.95H1126 M1961.9,507.95H1967.5 M1114.5,465.94H1126 M1956.7,465.94H1967.5 M1119.5,423.93H1126 M1961.9,423.93H1967.5 M1114.5,381.92H1126 M1956.7,381.92H1967.5 M1119.5,339.91H1126 M1961.9,339.91H1967.5 M1114.5,297.9H1126 M1956.7,297.9H1967.5 M1119.5,255.89H1126 M1961.9,255.89H1967.5 M1114.5,213.88H1126 M1956.7,213.88H1967.5 M1119.5,171.87H1126 M1961.9,171.87H1967.5 M1114.5,129.86H1126 M1956.7,129.86H1967.5" fill="none" stroke="#000" stroke-width="3.1" stroke-linecap="round"/>
<g clip-path="url(#clip3a)">
<path d="M1115.84,105.37 C1115.84,105.37 1115.84,105.37 1120.24,121.5 C1124.63,137.64 1133.41,169.91 1142.2,196.64 C1150.99,223.36 1159.77,244.55 1168.56,262.69 C1177.34,280.83 1186.13,295.92 1194.91,309.83 C1203.7,323.73 1212.49,336.44 1221.27,347.6 C1230.06,358.75 1238.84,368.35 1247.63,377.36 C1256.41,386.37 1265.2,394.8 1273.99,402.23 C1282.77,409.67 1291.56,416.12 1300.34,422.21 C1309.13,428.3 1317.92,434.03 1326.7,439.45 C1335.49,444.88 1344.27,450.01 1353.06,454.8 C1361.84,459.6 1370.63,464.07 1379.42,468.2 C1388.2,472.34 1396.99,476.15 1405.77,479.59 C1414.56,483.03 1423.34,486.11 1432.13,488.93 C1440.92,491.75 1449.7,494.31 1458.49,497.09 C1467.27,499.87 1476.06,502.88 1484.84,505.62 C1493.63,508.37 1502.42,510.86 1511.2,513.24 C1519.99,515.62 1528.77,517.89 1537.56,519.95 C1546.34,522.01 1555.13,523.86 1563.92,525.63 C1572.7,527.39 1581.49,529.07 1590.27,530.71 C1599.06,532.35 1607.84,533.96 1616.63,535.46 C1625.42,536.97 1634.2,538.36 1642.99,539.76 C1651.77,541.16 1660.56,542.56 1669.34,544.02 C1678.13,545.49 1686.92,547.03 1695.7,548.5 C1704.49,549.97 1713.27,551.36 1722.06,552.69 C1730.84,554.02 1739.63,555.28 1748.42,556.36 C1757.2,557.44 1765.99,558.35 1774.77,559.3 C1783.56,560.24 1792.34,561.22 1801.13,562.16 C1809.92,563.11 1818.7,564.01 1827.49,564.92 C1836.27,565.83 1845.06,566.74 1853.84,567.61 C1862.63,568.49 1871.42,569.33 1880.2,570.1 C1888.99,570.86 1897.77,571.56 1906.56,572.16 C1915.35,572.75 1924.13,573.24 1932.92,573.77 C1941.7,574.29 1950.49,574.85 1959.27,575.38 C1968.06,575.91 1976.85,576.41 1985.63,576.89 C1994.42,577.36 2003.2,577.81 2007.6,578.04 C2011.99,578.26 2011.99,578.26 2011.99,578.26" fill="none" stroke="#000" stroke-width="3" stroke-linejoin="round"/>
<path d="M1141.9,194.68 L1143.85,199.9 L1149.41,200.14 L1145.06,203.61 L1146.54,208.97 L1141.9,205.9 L1137.26,208.97 L1138.74,203.61 L1134.39,200.14 L1139.95,199.9Z" fill="#000"/><path d="M1142.3,197.2 L1143.65,200.33 L1147.03,200.64 L1144.48,202.89 L1145.23,206.21 L1142.3,204.47 L1139.38,206.21 L1140.12,202.89 L1137.57,200.64 L1140.95,200.33Z" fill="#ff0000"/>
<path d="M1168.26,258.23 L1170.21,263.45 L1175.77,263.69 L1171.41,267.16 L1172.9,272.53 L1168.26,269.45 L1163.61,272.53 L1165.1,267.16 L1160.74,263.69 L1166.31,263.45Z" fill="#000"/><path d="M1168.66,260.76 L1170,263.88 L1173.39,264.2 L1170.84,266.44 L1171.58,269.76 L1168.66,268.02 L1165.73,269.76 L1166.48,266.44 L1163.92,264.2 L1167.31,263.88Z" fill="#ff0000"/>
<path d="M1194.61,303.52 L1196.57,308.73 L1202.13,308.98 L1197.77,312.44 L1199.26,317.81 L1194.61,314.74 L1189.97,317.81 L1191.46,312.44 L1187.1,308.98 L1192.66,308.73Z" fill="#000"/><path d="M1195.01,306.04 L1196.36,309.17 L1199.75,309.48 L1197.19,311.73 L1197.94,315.04 L1195.01,313.31 L1192.09,315.04 L1192.84,311.73 L1190.28,309.48 L1193.67,309.17Z" fill="#ff0000"/>
<path d="M1220.97,341.65 L1222.92,346.87 L1228.49,347.11 L1224.13,350.58 L1225.62,355.94 L1220.97,352.87 L1216.33,355.94 L1217.82,350.58 L1213.46,347.11 L1219.02,346.87Z" fill="#000"/><path d="M1221.37,344.17 L1222.72,347.3 L1226.11,347.61 L1223.55,349.86 L1224.3,353.18 L1221.37,351.44 L1218.45,353.18 L1219.19,349.86 L1216.64,347.61 L1220.03,347.3Z" fill="#ff0000"/>
<path d="M1247.33,370.45 L1249.28,375.67 L1254.84,375.91 L1250.48,379.37 L1251.97,384.74 L1247.33,381.67 L1242.69,384.74 L1244.17,379.37 L1239.82,375.91 L1245.38,375.67Z" fill="#000"/><path d="M1247.73,372.97 L1249.07,376.1 L1252.46,376.41 L1249.91,378.66 L1250.65,381.98 L1247.73,380.24 L1244.8,381.98 L1245.55,378.66 L1243,376.41 L1246.38,376.1Z" fill="#ff0000"/>
<path d="M1273.69,395.72 L1275.64,400.93 L1281.2,401.18 L1276.84,404.64 L1278.33,410.01 L1273.69,406.94 L1269.04,410.01 L1270.53,404.64 L1266.17,401.18 L1271.74,400.93Z" fill="#000"/><path d="M1274.09,398.24 L1275.43,401.37 L1278.82,401.68 L1276.26,403.93 L1277.01,407.25 L1274.09,405.51 L1271.16,407.25 L1271.91,403.93 L1269.35,401.68 L1272.74,401.37Z" fill="#ff0000"/>
<path d="M1300.04,415.07 L1301.99,420.29 L1307.56,420.53 L1303.2,424 L1304.69,429.36 L1300.04,426.29 L1295.4,429.36 L1296.89,424 L1292.53,420.53 L1298.09,420.29Z" fill="#000"/><path d="M1300.44,417.59 L1301.79,420.72 L1305.18,421.03 L1302.62,423.28 L1303.37,426.6 L1300.44,424.86 L1297.52,426.6 L1298.27,423.28 L1295.71,421.03 L1299.1,420.72Z" fill="#ff0000"/>
<path d="M1326.4,432.25 L1328.35,437.47 L1333.91,437.71 L1329.56,441.18 L1331.04,446.55 L1326.4,443.47 L1321.76,446.55 L1323.25,441.18 L1318.89,437.71 L1324.45,437.47Z" fill="#000"/><path d="M1326.8,434.78 L1328.15,437.9 L1331.53,438.22 L1328.98,440.46 L1329.73,443.78 L1326.8,442.04 L1323.88,443.78 L1324.62,440.46 L1322.07,438.22 L1325.46,437.9Z" fill="#ff0000"/>
<path d="M1352.76,447.63 L1354.71,452.85 L1360.27,453.09 L1355.91,456.56 L1357.4,461.92 L1352.76,458.85 L1348.11,461.92 L1349.6,456.56 L1345.24,453.09 L1350.81,452.85Z" fill="#000"/><path d="M1353.16,450.15 L1354.5,453.28 L1357.89,453.59 L1355.34,455.84 L1356.08,459.16 L1353.16,457.42 L1350.23,459.16 L1350.98,455.84 L1348.42,453.59 L1351.81,453.28Z" fill="#ff0000"/>
<path d="M1379.12,461.03 L1381.07,466.25 L1386.63,466.49 L1382.27,469.96 L1383.76,475.32 L1379.12,472.25 L1374.47,475.32 L1375.96,469.96 L1371.6,466.49 L1377.17,466.25Z" fill="#000"/><path d="M1379.52,463.56 L1380.86,466.68 L1384.25,466.99 L1381.69,469.24 L1382.44,472.56 L1379.52,470.82 L1376.59,472.56 L1377.34,469.24 L1374.78,466.99 L1378.17,466.68Z" fill="#ff0000"/>
<path d="M1405.47,472.46 L1407.42,477.67 L1412.99,477.91 L1408.63,481.38 L1410.12,486.75 L1405.47,483.67 L1400.83,486.75 L1402.32,481.38 L1397.96,477.91 L1403.52,477.67Z" fill="#000"/><path d="M1405.87,474.98 L1407.22,478.1 L1410.61,478.42 L1408.05,480.66 L1408.8,483.98 L1405.87,482.25 L1402.95,483.98 L1403.7,480.66 L1401.14,478.42 L1404.53,478.1Z" fill="#ff0000"/>
<path d="M1431.83,481.68 L1433.78,486.9 L1439.34,487.14 L1434.99,490.61 L1436.47,495.97 L1431.83,492.9 L1427.19,495.97 L1428.67,490.61 L1424.32,487.14 L1429.88,486.9Z" fill="#000"/><path d="M1432.23,484.21 L1433.58,487.33 L1436.96,487.64 L1434.41,489.89 L1435.16,493.21 L1432.23,491.47 L1429.3,493.21 L1430.05,489.89 L1427.5,487.64 L1430.88,487.33Z" fill="#ff0000"/>
<path d="M1458.19,489.37 L1460.14,494.59 L1465.7,494.83 L1461.34,498.3 L1462.83,503.66 L1458.19,500.59 L1453.54,503.66 L1455.03,498.3 L1450.67,494.83 L1456.24,494.59Z" fill="#000"/><path d="M1458.59,491.89 L1459.93,495.02 L1463.32,495.33 L1460.76,497.58 L1461.51,500.9 L1458.59,499.16 L1455.66,500.9 L1456.41,497.58 L1453.85,495.33 L1457.24,495.02Z" fill="#ff0000"/>
<path d="M1484.54,498.38 L1486.49,503.59 L1492.06,503.84 L1487.7,507.3 L1489.19,512.67 L1484.54,509.6 L1479.9,512.67 L1481.39,507.3 L1477.03,503.84 L1482.59,503.59Z" fill="#000"/><path d="M1484.94,500.9 L1486.29,504.03 L1489.68,504.34 L1487.12,506.59 L1487.87,509.91 L1484.94,508.17 L1482.02,509.91 L1482.77,506.59 L1480.21,504.34 L1483.6,504.03Z" fill="#ff0000"/>
<path d="M1510.9,505.85 L1512.85,511.06 L1518.41,511.31 L1514.06,514.77 L1515.54,520.14 L1510.9,517.07 L1506.26,520.14 L1507.75,514.77 L1503.39,511.31 L1508.95,511.06Z" fill="#000"/><path d="M1511.3,508.37 L1512.65,511.5 L1516.03,511.81 L1513.48,514.06 L1514.23,517.37 L1511.3,515.64 L1508.38,517.37 L1509.12,514.06 L1506.57,511.81 L1509.96,511.5Z" fill="#ff0000"/>
<path d="M1537.26,512.66 L1539.21,517.87 L1544.77,518.12 L1540.41,521.58 L1541.9,526.95 L1537.26,523.88 L1532.61,526.95 L1534.1,521.58 L1529.75,518.12 L1535.31,517.87Z" fill="#000"/><path d="M1537.66,515.18 L1539,518.31 L1542.39,518.62 L1539.84,520.87 L1540.58,524.18 L1537.66,522.45 L1534.73,524.18 L1535.48,520.87 L1532.93,518.62 L1536.31,518.31Z" fill="#ff0000"/>
<path d="M1563.62,518.21 L1565.57,523.43 L1571.13,523.67 L1566.77,527.14 L1568.26,532.5 L1563.62,529.43 L1558.97,532.5 L1560.46,527.14 L1556.1,523.67 L1561.67,523.43Z" fill="#000"/><path d="M1564.02,520.73 L1565.36,523.86 L1568.75,524.17 L1566.19,526.42 L1566.94,529.74 L1564.02,528 L1561.09,529.74 L1561.84,526.42 L1559.28,524.17 L1562.67,523.86Z" fill="#ff0000"/>
<path d="M1589.97,523.24 L1591.92,528.46 L1597.49,528.7 L1593.13,532.17 L1594.62,537.54 L1589.97,534.46 L1585.33,537.54 L1586.82,532.17 L1582.46,528.7 L1588.02,528.46Z" fill="#000"/><path d="M1590.37,525.77 L1591.72,528.89 L1595.11,529.21 L1592.55,531.45 L1593.3,534.77 L1590.37,533.03 L1587.45,534.77 L1588.2,531.45 L1585.64,529.21 L1589.03,528.89Z" fill="#ff0000"/>
<path d="M1616.33,528.07 L1618.28,533.28 L1623.84,533.53 L1619.49,536.99 L1620.97,542.36 L1616.33,539.29 L1611.69,542.36 L1613.17,536.99 L1608.82,533.53 L1614.38,533.28Z" fill="#000"/><path d="M1616.73,530.59 L1618.08,533.72 L1621.46,534.03 L1618.91,536.27 L1619.66,539.59 L1616.73,537.86 L1613.8,539.59 L1614.55,536.27 L1612,534.03 L1615.38,533.72Z" fill="#ff0000"/>
<path d="M1642.69,532.26 L1644.64,537.48 L1650.2,537.72 L1645.84,541.19 L1647.33,546.55 L1642.69,543.48 L1638.04,546.55 L1639.53,541.19 L1635.17,537.72 L1640.74,537.48Z" fill="#000"/><path d="M1643.09,534.78 L1644.43,537.91 L1647.82,538.22 L1645.26,540.47 L1646.01,543.79 L1643.09,542.05 L1640.16,543.79 L1640.91,540.47 L1638.35,538.22 L1641.74,537.91Z" fill="#ff0000"/>
<path d="M1669.04,536.45 L1670.99,541.67 L1676.56,541.91 L1672.2,545.38 L1673.69,550.75 L1669.04,547.67 L1664.4,550.75 L1665.89,545.38 L1661.53,541.91 L1667.09,541.67Z" fill="#000"/><path d="M1669.44,538.98 L1670.79,542.1 L1674.18,542.42 L1671.62,544.66 L1672.37,547.98 L1669.44,546.24 L1666.52,547.98 L1667.27,544.66 L1664.71,542.42 L1668.1,542.1Z" fill="#ff0000"/>
<path d="M1695.4,541.07 L1697.35,546.28 L1702.92,546.53 L1698.56,549.99 L1700.05,555.36 L1695.4,552.29 L1690.76,555.36 L1692.25,549.99 L1687.89,546.53 L1693.45,546.28Z" fill="#000"/><path d="M1695.8,543.59 L1697.15,546.72 L1700.54,547.03 L1697.98,549.28 L1698.73,552.59 L1695.8,550.86 L1692.88,552.59 L1693.62,549.28 L1691.07,547.03 L1694.46,546.72Z" fill="#ff0000"/>
<path d="M1721.76,545.26 L1723.71,550.48 L1729.27,550.72 L1724.91,554.19 L1726.4,559.55 L1721.76,556.48 L1717.12,559.55 L1718.6,554.19 L1714.25,550.72 L1719.81,550.48Z" fill="#000"/><path d="M1722.16,547.78 L1723.5,550.91 L1726.89,551.22 L1724.34,553.47 L1725.08,556.79 L1722.16,555.05 L1719.23,556.79 L1719.98,553.47 L1717.43,551.22 L1720.81,550.91Z" fill="#ff0000"/>
<path d="M1748.12,549.04 L1750.07,554.25 L1755.63,554.49 L1751.27,557.96 L1752.76,563.33 L1748.12,560.25 L1743.47,563.33 L1744.96,557.96 L1740.6,554.49 L1746.17,554.25Z" fill="#000"/><path d="M1748.52,551.56 L1749.86,554.68 L1753.25,555 L1750.69,557.24 L1751.44,560.56 L1748.52,558.83 L1745.59,560.56 L1746.34,557.24 L1743.78,555 L1747.17,554.68Z" fill="#ff0000"/>
<path d="M1774.47,551.76 L1776.42,556.98 L1781.99,557.22 L1777.63,560.69 L1779.12,566.05 L1774.47,562.98 L1769.83,566.05 L1771.32,560.69 L1766.96,557.22 L1772.52,556.98Z" fill="#000"/><path d="M1774.87,554.28 L1776.22,557.41 L1779.61,557.72 L1777.05,559.97 L1777.8,563.29 L1774.87,561.55 L1771.95,563.29 L1772.7,559.97 L1770.14,557.72 L1773.53,557.41Z" fill="#ff0000"/>
<path d="M1800.83,554.7 L1802.78,559.91 L1808.34,560.16 L1803.99,563.62 L1805.47,568.99 L1800.83,565.92 L1796.19,568.99 L1797.67,563.62 L1793.32,560.16 L1798.88,559.91Z" fill="#000"/><path d="M1801.23,557.22 L1802.58,560.35 L1805.96,560.66 L1803.41,562.9 L1804.16,566.22 L1801.23,564.49 L1798.31,566.22 L1799.05,562.9 L1796.5,560.66 L1799.88,560.35Z" fill="#ff0000"/>
<path d="M1827.19,557.42 L1829.14,562.64 L1834.7,562.88 L1830.34,566.35 L1831.83,571.71 L1827.19,568.64 L1822.54,571.71 L1824.03,566.35 L1819.67,562.88 L1825.24,562.64Z" fill="#000"/><path d="M1827.59,559.95 L1828.93,563.07 L1832.32,563.39 L1829.77,565.63 L1830.51,568.95 L1827.59,567.21 L1824.66,568.95 L1825.41,565.63 L1822.85,563.39 L1826.24,563.07Z" fill="#ff0000"/>
<path d="M1853.54,560.15 L1855.5,565.37 L1861.06,565.61 L1856.7,569.07 L1858.19,574.44 L1853.54,571.37 L1848.9,574.44 L1850.39,569.07 L1846.03,565.61 L1851.59,565.37Z" fill="#000"/><path d="M1853.94,562.67 L1855.29,565.8 L1858.68,566.11 L1856.12,568.36 L1856.87,571.68 L1853.94,569.94 L1851.02,571.68 L1851.77,568.36 L1849.21,566.11 L1852.6,565.8Z" fill="#ff0000"/>
<path d="M1879.9,562.67 L1881.85,567.88 L1887.42,568.12 L1883.06,571.59 L1884.55,576.96 L1879.9,573.88 L1875.26,576.96 L1876.75,571.59 L1872.39,568.12 L1877.95,567.88Z" fill="#000"/><path d="M1880.3,565.19 L1881.65,568.31 L1885.04,568.63 L1882.48,570.87 L1883.23,574.19 L1880.3,572.46 L1877.38,574.19 L1878.12,570.87 L1875.57,568.63 L1878.96,568.31Z" fill="#ff0000"/>
<path d="M1906.26,564.76 L1908.21,569.98 L1913.77,570.22 L1909.41,573.69 L1910.9,579.05 L1906.26,575.98 L1901.62,579.05 L1903.1,573.69 L1898.75,570.22 L1904.31,569.98Z" fill="#000"/><path d="M1906.66,567.29 L1908.01,570.41 L1911.39,570.72 L1908.84,572.97 L1909.58,576.29 L1906.66,574.55 L1903.73,576.29 L1904.48,572.97 L1901.93,570.72 L1905.31,570.41Z" fill="#ff0000"/>
<path d="M1932.62,566.23 L1934.57,571.45 L1940.13,571.69 L1935.77,575.16 L1937.26,580.52 L1932.62,577.45 L1927.97,580.52 L1929.46,575.16 L1925.1,571.69 L1930.67,571.45Z" fill="#000"/><path d="M1933.02,568.75 L1934.36,571.88 L1937.75,572.19 L1935.19,574.44 L1935.94,577.76 L1933.02,576.02 L1930.09,577.76 L1930.84,574.44 L1928.28,572.19 L1931.67,571.88Z" fill="#ff0000"/>
<path d="M1958.97,567.91 L1960.92,573.12 L1966.49,573.37 L1962.13,576.83 L1963.62,582.2 L1958.97,579.13 L1954.33,582.2 L1955.82,576.83 L1951.46,573.37 L1957.02,573.12Z" fill="#000"/><path d="M1959.37,570.43 L1960.72,573.56 L1964.11,573.87 L1961.55,576.12 L1962.3,579.43 L1959.37,577.7 L1956.45,579.43 L1957.2,576.12 L1954.64,573.87 L1958.03,573.56Z" fill="#ff0000"/>
<path d="M1094.66,-15.67 C1094.66,-15.67 1094.66,-15.67 1102.26,18.39 C1109.87,52.45 1125.09,120.56 1140.31,173.32 C1155.53,226.08 1170.74,263.48 1185.96,295.2 C1201.18,326.91 1216.39,352.92 1231.61,374.64 C1246.83,396.36 1262.05,413.77 1277.26,429.44 C1292.48,445.1 1307.7,459.01 1322.92,471.06 C1338.13,483.1 1353.35,493.28 1368.57,502.62 C1383.79,511.96 1399,520.45 1414.22,528.07 C1429.44,535.68 1444.65,542.42 1459.87,548.72 C1475.09,555.01 1490.31,560.87 1505.52,566.18 C1520.74,571.49 1535.96,576.25 1551.18,580.67 C1566.39,585.08 1581.61,589.16 1596.83,593.19 C1612.05,597.22 1627.26,601.2 1642.48,604.76 C1657.7,608.33 1672.91,611.47 1688.13,614.44 C1703.35,617.42 1718.57,620.21 1733.78,622.76 C1749,625.31 1764.22,627.62 1779.44,629.89 C1794.65,632.16 1809.87,634.4 1825.09,636.57 C1840.31,638.73 1855.52,640.83 1870.74,642.79 C1885.96,644.74 1901.18,646.56 1916.39,648.34 C1931.61,650.13 1946.83,651.87 1962.04,653.53 C1977.26,655.19 1992.48,656.77 2007.7,658.25 C2022.91,659.74 2038.13,661.14 2045.74,661.83 C2053.35,662.53 2053.35,662.53 2053.35,662.53" fill="none" stroke="#000" stroke-width="3" stroke-linejoin="round"/>
<path d="M1140.01,181.17 L1141.96,186.39 L1147.52,186.63 L1143.16,190.1 L1144.65,195.47 L1140.01,192.39 L1135.36,195.47 L1136.85,190.1 L1132.49,186.63 L1138.06,186.39Z" fill="#000"/><path d="M1140.41,183.7 L1141.75,186.82 L1145.14,187.14 L1142.59,189.38 L1143.33,192.7 L1140.41,190.96 L1137.48,192.7 L1138.23,189.38 L1135.67,187.14 L1139.06,186.82Z" fill="#0000ff"/>
<path d="M1185.66,293.39 L1187.61,298.6 L1193.17,298.85 L1188.82,302.31 L1190.3,307.68 L1185.66,304.61 L1181.02,307.68 L1182.5,302.31 L1178.15,298.85 L1183.71,298.6Z" fill="#000"/><path d="M1186.06,295.91 L1187.41,299.04 L1190.79,299.35 L1188.24,301.6 L1188.99,304.92 L1186.06,303.18 L1183.13,304.92 L1183.88,301.6 L1181.33,299.35 L1184.71,299.04Z" fill="#0000ff"/>
<path d="M1231.31,371.44 L1233.26,376.66 L1238.83,376.9 L1234.47,380.37 L1235.96,385.73 L1231.31,382.66 L1226.67,385.73 L1228.16,380.37 L1223.8,376.9 L1229.36,376.66Z" fill="#000"/><path d="M1231.71,373.97 L1233.06,377.09 L1236.45,377.4 L1233.89,379.65 L1234.64,382.97 L1231.71,381.23 L1228.79,382.97 L1229.53,379.65 L1226.98,377.4 L1230.37,377.09Z" fill="#0000ff"/>
<path d="M1276.96,423.69 L1278.91,428.9 L1284.48,429.15 L1280.12,432.61 L1281.61,437.98 L1276.96,434.9 L1272.32,437.98 L1273.81,432.61 L1269.45,429.15 L1275.01,428.9Z" fill="#000"/><path d="M1277.36,426.21 L1278.71,429.33 L1282.1,429.65 L1279.54,431.89 L1280.29,435.21 L1277.36,433.48 L1274.44,435.21 L1275.19,431.89 L1272.63,429.65 L1276.02,429.33Z" fill="#0000ff"/>
<path d="M1322.62,465.43 L1324.57,470.64 L1330.13,470.88 L1325.77,474.35 L1327.26,479.72 L1322.62,476.64 L1317.97,479.72 L1319.46,474.35 L1315.1,470.88 L1320.67,470.64Z" fill="#000"/><path d="M1323.02,467.95 L1324.36,471.07 L1327.75,471.39 L1325.19,473.63 L1325.94,476.95 L1323.02,475.22 L1320.09,476.95 L1320.84,473.63 L1318.28,471.39 L1321.67,471.07Z" fill="#0000ff"/>
<path d="M1368.27,495.96 L1370.22,501.18 L1375.78,501.42 L1371.42,504.89 L1372.91,510.25 L1368.27,507.18 L1363.62,510.25 L1365.11,504.89 L1360.75,501.42 L1366.32,501.18Z" fill="#000"/><path d="M1368.67,498.49 L1370.01,501.61 L1373.4,501.92 L1370.85,504.17 L1371.59,507.49 L1368.67,505.75 L1365.74,507.49 L1366.49,504.17 L1363.93,501.92 L1367.32,501.61Z" fill="#0000ff"/>
<path d="M1413.92,521.45 L1415.87,526.66 L1421.43,526.9 L1417.08,530.37 L1418.56,535.74 L1413.92,532.66 L1409.28,535.74 L1410.76,530.37 L1406.41,526.9 L1411.97,526.66Z" fill="#000"/><path d="M1414.32,523.97 L1415.67,527.09 L1419.05,527.41 L1416.5,529.65 L1417.25,532.97 L1414.32,531.23 L1411.39,532.97 L1412.14,529.65 L1409.59,527.41 L1412.97,527.09Z" fill="#0000ff"/>
<path d="M1459.57,541.66 L1461.52,546.87 L1467.09,547.12 L1462.73,550.58 L1464.22,555.95 L1459.57,552.87 L1454.93,555.95 L1456.42,550.58 L1452.06,547.12 L1457.62,546.87Z" fill="#000"/><path d="M1459.97,544.18 L1461.32,547.3 L1464.71,547.62 L1462.15,549.86 L1462.9,553.18 L1459.97,551.45 L1457.05,553.18 L1457.79,549.86 L1455.24,547.62 L1458.63,547.3Z" fill="#0000ff"/>
<path d="M1505.22,559.23 L1507.17,564.45 L1512.74,564.69 L1508.38,568.16 L1509.87,573.52 L1505.22,570.45 L1500.58,573.52 L1502.07,568.16 L1497.71,564.69 L1503.27,564.45Z" fill="#000"/><path d="M1505.62,561.75 L1506.97,564.88 L1510.36,565.19 L1507.8,567.44 L1508.55,570.76 L1505.62,569.02 L1502.7,570.76 L1503.45,567.44 L1500.89,565.19 L1504.28,564.88Z" fill="#0000ff"/>
<path d="M1550.88,573.51 L1552.83,578.73 L1558.39,578.97 L1554.03,582.44 L1555.52,587.8 L1550.88,584.73 L1546.23,587.8 L1547.72,582.44 L1543.36,578.97 L1548.93,578.73Z" fill="#000"/><path d="M1551.28,576.03 L1552.62,579.16 L1556.01,579.47 L1553.45,581.72 L1554.2,585.04 L1551.28,583.3 L1548.35,585.04 L1549.1,581.72 L1546.54,579.47 L1549.93,579.16Z" fill="#0000ff"/>
<path d="M1596.53,585.73 L1598.48,590.95 L1604.04,591.19 L1599.68,594.66 L1601.17,600.02 L1596.53,596.95 L1591.88,600.02 L1593.37,594.66 L1589.01,591.19 L1594.58,590.95Z" fill="#000"/><path d="M1596.93,588.25 L1598.27,591.38 L1601.66,591.69 L1599.11,593.94 L1599.85,597.26 L1596.93,595.52 L1594,597.26 L1594.75,593.94 L1592.19,591.69 L1595.58,591.38Z" fill="#0000ff"/>
<path d="M1642.18,597.68 L1644.13,602.9 L1649.69,603.14 L1645.34,606.61 L1646.82,611.97 L1642.18,608.9 L1637.54,611.97 L1639.02,606.61 L1634.67,603.14 L1640.23,602.9Z" fill="#000"/><path d="M1642.58,600.21 L1643.93,603.33 L1647.31,603.65 L1644.76,605.89 L1645.51,609.21 L1642.58,607.47 L1639.65,609.21 L1640.4,605.89 L1637.85,603.65 L1641.23,603.33Z" fill="#0000ff"/>
<path d="M1687.83,607.12 L1689.78,612.34 L1695.35,612.58 L1690.99,616.04 L1692.48,621.41 L1687.83,618.34 L1683.19,621.41 L1684.68,616.04 L1680.32,612.58 L1685.88,612.34Z" fill="#000"/><path d="M1688.23,609.64 L1689.58,612.77 L1692.97,613.08 L1690.41,615.33 L1691.16,618.65 L1688.23,616.91 L1685.31,618.65 L1686.05,615.33 L1683.5,613.08 L1686.89,612.77Z" fill="#0000ff"/>
<path d="M1733.48,615.51 L1735.43,620.72 L1741,620.97 L1736.64,624.43 L1738.13,629.8 L1733.48,626.72 L1728.84,629.8 L1730.33,624.43 L1725.97,620.97 L1731.53,620.72Z" fill="#000"/><path d="M1733.88,618.03 L1735.23,621.15 L1738.62,621.47 L1736.06,623.71 L1736.81,627.03 L1733.88,625.3 L1730.96,627.03 L1731.71,623.71 L1729.15,621.47 L1732.54,621.15Z" fill="#0000ff"/>
<path d="M1779.14,622.43 L1781.09,627.64 L1786.65,627.89 L1782.29,631.35 L1783.78,636.72 L1779.14,633.64 L1774.49,636.72 L1775.98,631.35 L1771.62,627.89 L1777.19,627.64Z" fill="#000"/><path d="M1779.54,624.95 L1780.88,628.07 L1784.27,628.39 L1781.71,630.63 L1782.46,633.95 L1779.54,632.22 L1776.61,633.95 L1777.36,630.63 L1774.8,628.39 L1778.19,628.07Z" fill="#0000ff"/>
<path d="M1824.79,629.14 L1826.74,634.35 L1832.3,634.6 L1827.94,638.06 L1829.43,643.43 L1824.79,640.35 L1820.14,643.43 L1821.63,638.06 L1817.27,634.6 L1822.84,634.35Z" fill="#000"/><path d="M1825.19,631.66 L1826.53,634.78 L1829.92,635.1 L1827.37,637.34 L1828.11,640.66 L1825.19,638.93 L1822.26,640.66 L1823.01,637.34 L1820.45,635.1 L1823.84,634.78Z" fill="#0000ff"/>
<path d="M1870.44,635.43 L1872.39,640.64 L1877.95,640.89 L1873.6,644.35 L1875.08,649.72 L1870.44,646.65 L1865.8,649.72 L1867.28,644.35 L1862.93,640.89 L1868.49,640.64Z" fill="#000"/><path d="M1870.84,637.95 L1872.19,641.08 L1875.57,641.39 L1873.02,643.63 L1873.77,646.95 L1870.84,645.22 L1867.91,646.95 L1868.66,643.63 L1866.11,641.39 L1869.49,641.08Z" fill="#0000ff"/>
<path d="M1916.09,640.88 L1918.04,646.09 L1923.61,646.34 L1919.25,649.8 L1920.74,655.17 L1916.09,652.1 L1911.45,655.17 L1912.94,649.8 L1908.58,646.34 L1914.14,646.09Z" fill="#000"/><path d="M1916.49,643.4 L1917.84,646.53 L1921.23,646.84 L1918.67,649.09 L1919.42,652.41 L1916.49,650.67 L1913.57,652.41 L1914.31,649.09 L1911.76,646.84 L1915.15,646.53Z" fill="#0000ff"/>
<path d="M1961.74,646.12 L1963.69,651.34 L1969.26,651.58 L1964.9,655.05 L1966.39,660.41 L1961.74,657.34 L1957.1,660.41 L1958.59,655.05 L1954.23,651.58 L1959.79,651.34Z" fill="#000"/><path d="M1962.14,648.64 L1963.49,651.77 L1966.88,652.08 L1964.32,654.33 L1965.07,657.65 L1962.14,655.91 L1959.22,657.65 L1959.97,654.33 L1957.41,652.08 L1960.8,651.77Z" fill="#0000ff"/>
<path d="M1097.17,48.36 C1097.17,48.36 1097.17,48.36 1108.79,95.35 C1120.41,142.33 1143.66,236.31 1166.9,302.2 C1190.15,368.09 1213.39,405.9 1236.64,435.72 C1259.88,465.53 1283.13,487.35 1306.37,505.48 C1329.62,523.6 1352.86,538.03 1376.11,550.11 C1399.35,562.19 1422.6,571.93 1445.84,580.61 C1469.09,589.29 1492.33,596.9 1515.58,603.72 C1538.82,610.54 1562.07,616.56 1585.31,621.67 C1608.56,626.78 1631.8,630.98 1655.05,635.1 C1678.29,639.22 1701.54,643.28 1724.78,646.84 C1748.03,650.41 1771.27,653.48 1794.52,656.17 C1817.76,658.86 1841.01,661.17 1864.25,663.48 C1887.49,665.78 1910.74,668.09 1933.98,670.28 C1957.23,672.47 1980.47,674.55 2003.72,676.51 C2026.96,678.47 2050.21,680.31 2061.83,681.24 C2073.45,682.16 2073.45,682.16 2073.45,682.16" fill="none" stroke="#000" stroke-width="3" stroke-linejoin="round"/>
<rect x="1160.8" y="324.18" width="12.2" height="12.2" fill="#000"/>
<rect x="1230.54" y="437.61" width="12.2" height="12.2" fill="#000"/>
<rect x="1300.27" y="503.07" width="12.2" height="12.2" fill="#000"/>
<rect x="1370.01" y="546.35" width="12.2" height="12.2" fill="#000"/>
<rect x="1439.74" y="575.57" width="12.2" height="12.2" fill="#000"/>
<rect x="1509.48" y="598.42" width="12.2" height="12.2" fill="#000"/>
<rect x="1579.21" y="616.49" width="12.2" height="12.2" fill="#000"/>
<rect x="1648.95" y="629.07" width="12.2" height="12.2" fill="#000"/>
<rect x="1718.68" y="641.23" width="12.2" height="12.2" fill="#000"/>
<rect x="1788.42" y="650.46" width="12.2" height="12.2" fill="#000"/>
<rect x="1858.15" y="657.38" width="12.2" height="12.2" fill="#000"/>
<rect x="1927.88" y="664.3" width="12.2" height="12.2" fill="#000"/>
<circle cx="1129.93" cy="178.74" r="3.6" fill="#fff" stroke="#000000" stroke-width="1.15"/>
<circle cx="1138.27" cy="196.22" r="3.6" fill="#fff" stroke="#000000" stroke-width="1.15"/>
<circle cx="1163.1" cy="300.49" r="3.6" fill="#fff" stroke="#000000" stroke-width="1.15"/>
<circle cx="1173.03" cy="316.38" r="3.6" fill="#fff" stroke="#000000" stroke-width="1.15"/>
<circle cx="1208.38" cy="347.16" r="3.6" fill="#fff" stroke="#000000" stroke-width="1.15"/>
<circle cx="1208.38" cy="378.94" r="3.6" fill="#fff" stroke="#000000" stroke-width="1.15"/>
<circle cx="1217.01" cy="405.84" r="3.6" fill="#fff" stroke="#000000" stroke-width="1.15"/>
<circle cx="1250.7" cy="416.46" r="3.6" fill="#fff" stroke="#000000" stroke-width="1.15"/>
<circle cx="1254.01" cy="431.63" r="3.6" fill="#fff" stroke="#000000" stroke-width="1.15"/>
<circle cx="1261.26" cy="467.21" r="3.6" fill="#fff" stroke="#000000" stroke-width="1.15"/>
<circle cx="1280.81" cy="489.84" r="3.6" fill="#fff" stroke="#000000" stroke-width="1.15"/>
<circle cx="1287.62" cy="427.23" r="3.6" fill="#fff" stroke="#000000" stroke-width="1.15"/>
<circle cx="1293.55" cy="471.17" r="3.6" fill="#fff" stroke="#000000" stroke-width="1.15"/>
<circle cx="1299.7" cy="472.93" r="3.6" fill="#fff" stroke="#000000" stroke-width="1.15"/>
<circle cx="1326.06" cy="523.45" r="3.6" fill="#fff" stroke="#000000" stroke-width="1.15"/>
<circle cx="1329.36" cy="471.83" r="3.6" fill="#fff" stroke="#000000" stroke-width="1.15"/>
<circle cx="1337.05" cy="512.25" r="3.6" fill="#fff" stroke="#000000" stroke-width="1.15"/>
<circle cx="1345.83" cy="504.12" r="3.6" fill="#fff" stroke="#000000" stroke-width="1.15"/>
<circle cx="1366.49" cy="474.02" r="3.6" fill="#fff" stroke="#000000" stroke-width="1.15"/>
<circle cx="1371.1" cy="510.05" r="3.6" fill="#fff" stroke="#000000" stroke-width="1.15"/>
<circle cx="1371.98" cy="546.52" r="3.6" fill="#fff" stroke="#000000" stroke-width="1.15"/>
<circle cx="1381.42" cy="545.2" r="3.6" fill="#fff" stroke="#000000" stroke-width="1.15"/>
<circle cx="1390.87" cy="529.38" r="3.6" fill="#fff" stroke="#000000" stroke-width="1.15"/>
<circle cx="1407.35" cy="506.32" r="3.6" fill="#fff" stroke="#000000" stroke-width="1.15"/>
<circle cx="1414.82" cy="539.71" r="3.6" fill="#fff" stroke="#000000" stroke-width="1.15"/>
<circle cx="1416.57" cy="566.29" r="3.6" fill="#fff" stroke="#000000" stroke-width="1.15"/>
<circle cx="1425.8" cy="569.59" r="3.6" fill="#fff" stroke="#000000" stroke-width="1.15"/>
<circle cx="1436.34" cy="549.16" r="3.6" fill="#fff" stroke="#000000" stroke-width="1.15"/>
<circle cx="1445.13" cy="505.22" r="3.6" fill="#fff" stroke="#000000" stroke-width="1.15"/>
<circle cx="1449.53" cy="534.88" r="3.6" fill="#fff" stroke="#000000" stroke-width="1.15"/>
<circle cx="1458.31" cy="565.63" r="3.6" fill="#fff" stroke="#000000" stroke-width="1.15"/>
<circle cx="1461.61" cy="581.01" r="3.6" fill="#fff" stroke="#000000" stroke-width="1.15"/>
<circle cx="1470.83" cy="587.6" r="3.6" fill="#fff" stroke="#000000" stroke-width="1.15"/>
<circle cx="1482.48" cy="566.73" r="3.6" fill="#fff" stroke="#000000" stroke-width="1.15"/>
<circle cx="1486.21" cy="528.95" r="3.6" fill="#fff" stroke="#000000" stroke-width="1.15"/>
<circle cx="1490.17" cy="597.05" r="3.6" fill="#fff" stroke="#000000" stroke-width="1.15"/>
<circle cx="1492.36" cy="559.04" r="3.6" fill="#fff" stroke="#000000" stroke-width="1.15"/>
<circle cx="1501.81" cy="586.94" r="3.6" fill="#fff" stroke="#000000" stroke-width="1.15"/>
<circle cx="1507.74" cy="593.09" r="3.6" fill="#fff" stroke="#000000" stroke-width="1.15"/>
<circle cx="1524.22" cy="526.75" r="3.6" fill="#fff" stroke="#000000" stroke-width="1.15"/>
<circle cx="1528.17" cy="551.35" r="3.6" fill="#fff" stroke="#000000" stroke-width="1.15"/>
<circle cx="1528.17" cy="581.01" r="3.6" fill="#fff" stroke="#000000" stroke-width="1.15"/>
<circle cx="1535.2" cy="579.47" r="3.6" fill="#fff" stroke="#000000" stroke-width="1.15"/>
<circle cx="1535.2" cy="610.67" r="3.6" fill="#fff" stroke="#000000" stroke-width="1.15"/>
<circle cx="1546.19" cy="604.08" r="3.6" fill="#fff" stroke="#000000" stroke-width="1.15"/>
<circle cx="1553.22" cy="604.52" r="3.6" fill="#fff" stroke="#000000" stroke-width="1.15"/>
<circle cx="1565.24" cy="547.1" r="3.6" fill="#fff" stroke="#000000" stroke-width="1.15"/>
<circle cx="1570.48" cy="572.26" r="3.6" fill="#fff" stroke="#000000" stroke-width="1.15"/>
<circle cx="1573.63" cy="593.23" r="3.6" fill="#fff" stroke="#000000" stroke-width="1.15"/>
<circle cx="1578.87" cy="596.8" r="3.6" fill="#fff" stroke="#000000" stroke-width="1.15"/>
<circle cx="1590.4" cy="617.35" r="3.6" fill="#fff" stroke="#000000" stroke-width="1.15"/>
<circle cx="1598.79" cy="614.2" r="3.6" fill="#fff" stroke="#000000" stroke-width="1.15"/>
<circle cx="1580.55" cy="621.54" r="3.6" fill="#fff" stroke="#000000" stroke-width="1.15"/>
<circle cx="1603.62" cy="543.33" r="3.6" fill="#fff" stroke="#000000" stroke-width="1.15"/>
<circle cx="1606.76" cy="565.97" r="3.6" fill="#fff" stroke="#000000" stroke-width="1.15"/>
<circle cx="1612.84" cy="590.09" r="3.6" fill="#fff" stroke="#000000" stroke-width="1.15"/>
<circle cx="1619.34" cy="605.18" r="3.6" fill="#fff" stroke="#000000" stroke-width="1.15"/>
<circle cx="1622.49" cy="612.52" r="3.6" fill="#fff" stroke="#000000" stroke-width="1.15"/>
<circle cx="1626.05" cy="629.3" r="3.6" fill="#fff" stroke="#000000" stroke-width="1.15"/>
<circle cx="1634.86" cy="627.83" r="3.6" fill="#fff" stroke="#000000" stroke-width="1.15"/>
<circle cx="1643.88" cy="559.68" r="3.6" fill="#fff" stroke="#000000" stroke-width="1.15"/>
<circle cx="1643.88" cy="622.59" r="3.6" fill="#fff" stroke="#000000" stroke-width="1.15"/>
<circle cx="1648.7" cy="583.17" r="3.6" fill="#fff" stroke="#000000" stroke-width="1.15"/>
<circle cx="1656.04" cy="605.81" r="3.6" fill="#fff" stroke="#000000" stroke-width="1.15"/>
<circle cx="1666.52" cy="625.31" r="3.6" fill="#fff" stroke="#000000" stroke-width="1.15"/>
<circle cx="1671.13" cy="636.22" r="3.6" fill="#fff" stroke="#000000" stroke-width="1.15"/>
<circle cx="1679.52" cy="638.73" r="3.6" fill="#fff" stroke="#000000" stroke-width="1.15"/>
<circle cx="1682.67" cy="554.44" r="3.6" fill="#fff" stroke="#000000" stroke-width="1.15"/>
<circle cx="1685.39" cy="575.41" r="3.6" fill="#fff" stroke="#000000" stroke-width="1.15"/>
<circle cx="1689.59" cy="629.51" r="3.6" fill="#fff" stroke="#000000" stroke-width="1.15"/>
<circle cx="1691.05" cy="598.05" r="3.6" fill="#fff" stroke="#000000" stroke-width="1.15"/>
<circle cx="1699.44" cy="619.44" r="3.6" fill="#fff" stroke="#000000" stroke-width="1.15"/>
<circle cx="1699.44" cy="643.56" r="3.6" fill="#fff" stroke="#000000" stroke-width="1.15"/>
<circle cx="1710.56" cy="636.22" r="3.6" fill="#fff" stroke="#000000" stroke-width="1.15"/>
<circle cx="1716.22" cy="642.93" r="3.6" fill="#fff" stroke="#000000" stroke-width="1.15"/>
<circle cx="1723.14" cy="569.54" r="3.6" fill="#fff" stroke="#000000" stroke-width="1.15"/>
<circle cx="1726.7" cy="589.46" r="3.6" fill="#fff" stroke="#000000" stroke-width="1.15"/>
<circle cx="1733.62" cy="611.68" r="3.6" fill="#fff" stroke="#000000" stroke-width="1.15"/>
<circle cx="1743.06" cy="630.56" r="3.6" fill="#fff" stroke="#000000" stroke-width="1.15"/>
<circle cx="1744.53" cy="650.9" r="3.6" fill="#fff" stroke="#000000" stroke-width="1.15"/>
<circle cx="1755.01" cy="645.65" r="3.6" fill="#fff" stroke="#000000" stroke-width="1.15"/>
<circle cx="1761.72" cy="648.38" r="3.6" fill="#fff" stroke="#000000" stroke-width="1.15"/>
<circle cx="1761.3" cy="565.55" r="3.6" fill="#fff" stroke="#000000" stroke-width="1.15"/>
<circle cx="1764.45" cy="583.8" r="3.6" fill="#fff" stroke="#000000" stroke-width="1.15"/>
<circle cx="1769.06" cy="603.09" r="3.6" fill="#fff" stroke="#000000" stroke-width="1.15"/>
<circle cx="1776.61" cy="623.01" r="3.6" fill="#fff" stroke="#000000" stroke-width="1.15"/>
<circle cx="1787.09" cy="640.41" r="3.6" fill="#fff" stroke="#000000" stroke-width="1.15"/>
<circle cx="1790.03" cy="656.77" r="3.6" fill="#fff" stroke="#000000" stroke-width="1.15"/>
<circle cx="1799.46" cy="653.62" r="3.6" fill="#fff" stroke="#000000" stroke-width="1.15"/>
<circle cx="1801.77" cy="578.55" r="3.6" fill="#fff" stroke="#000000" stroke-width="1.15"/>
<circle cx="1805.75" cy="596.8" r="3.6" fill="#fff" stroke="#000000" stroke-width="1.15"/>
<circle cx="1811.63" cy="615.67" r="3.6" fill="#fff" stroke="#000000" stroke-width="1.15"/>
<circle cx="1820.01" cy="632.65" r="3.6" fill="#fff" stroke="#000000" stroke-width="1.15"/>
<circle cx="1830.92" cy="648.8" r="3.6" fill="#fff" stroke="#000000" stroke-width="1.15"/>
<circle cx="1834.69" cy="661.38" r="3.6" fill="#fff" stroke="#000000" stroke-width="1.15"/>
<circle cx="1844.13" cy="659.28" r="3.6" fill="#fff" stroke="#000000" stroke-width="1.15"/>
<circle cx="1840.56" cy="573.94" r="3.6" fill="#fff" stroke="#000000" stroke-width="1.15"/>
<circle cx="1843.08" cy="590.72" r="3.6" fill="#fff" stroke="#000000" stroke-width="1.15"/>
<circle cx="1847.69" cy="608.96" r="3.6" fill="#fff" stroke="#000000" stroke-width="1.15"/>
<circle cx="1854.61" cy="626.36" r="3.6" fill="#fff" stroke="#000000" stroke-width="1.15"/>
<circle cx="1863.42" cy="642.93" r="3.6" fill="#fff" stroke="#000000" stroke-width="1.15"/>
<circle cx="1875.16" cy="656.14" r="3.6" fill="#fff" stroke="#000000" stroke-width="1.15"/>
<circle cx="1888.79" cy="664.94" r="3.6" fill="#fff" stroke="#000000" stroke-width="1.15"/>
<circle cx="1880.82" cy="584.84" r="3.6" fill="#fff" stroke="#000000" stroke-width="1.15"/>
<circle cx="1884.6" cy="602.04" r="3.6" fill="#fff" stroke="#000000" stroke-width="1.15"/>
<circle cx="1889.84" cy="619.86" r="3.6" fill="#fff" stroke="#000000" stroke-width="1.15"/>
<circle cx="1897.6" cy="636.64" r="3.6" fill="#fff" stroke="#000000" stroke-width="1.15"/>
<circle cx="1907.66" cy="651.94" r="3.6" fill="#fff" stroke="#000000" stroke-width="1.15"/>
<circle cx="1908.71" cy="668.09" r="3.6" fill="#fff" stroke="#000000" stroke-width="1.15"/>
<circle cx="1919.61" cy="663.06" r="3.6" fill="#fff" stroke="#000000" stroke-width="1.15"/>
<circle cx="1919.61" cy="580.02" r="3.6" fill="#fff" stroke="#000000" stroke-width="1.15"/>
<circle cx="1921.71" cy="595.75" r="3.6" fill="#fff" stroke="#000000" stroke-width="1.15"/>
<circle cx="1925.9" cy="613.15" r="3.6" fill="#fff" stroke="#000000" stroke-width="1.15"/>
<circle cx="1932.61" cy="629.93" r="3.6" fill="#fff" stroke="#000000" stroke-width="1.15"/>
<circle cx="1941.21" cy="645.65" r="3.6" fill="#fff" stroke="#000000" stroke-width="1.15"/>
<circle cx="1951.7" cy="659.28" r="3.6" fill="#fff" stroke="#000000" stroke-width="1.15"/>
<circle cx="1964.28" cy="669.77" r="3.6" fill="#fff" stroke="#000000" stroke-width="1.15"/>
<circle cx="1960.08" cy="590.09" r="3.6" fill="#fff" stroke="#000000" stroke-width="1.15"/>
<circle cx="1962.6" cy="606.23" r="3.6" fill="#fff" stroke="#000000" stroke-width="1.15"/>
<circle cx="1967.42" cy="623.01" r="3.6" fill="#fff" stroke="#000000" stroke-width="1.15"/>
</g>
<path d="M1119,87.85H1967.5 M1114.5,718H1967.5 M1126,87.85V729 M1967.5,87.85V729" fill="none" stroke="#000" stroke-width="3.1" stroke-linecap="round"/>
<g font-family="'Liberation Sans', Arial, Helvetica, sans-serif" fill="#000"><text x="1105.1" y="724.2" text-anchor="end" font-size="24">0.00</text><text x="1105.1" y="640.18" text-anchor="end" font-size="24">0.02</text><text x="1105.1" y="556.16" text-anchor="end" font-size="24">0.04</text><text x="1105.1" y="472.14" text-anchor="end" font-size="24">0.06</text><text x="1105.1" y="388.12" text-anchor="end" font-size="24">0.08</text><text x="1105.1" y="304.1" text-anchor="end" font-size="24">0.10</text><text x="1105.1" y="220.08" text-anchor="end" font-size="24">0.12</text><text x="1105.1" y="136.06" text-anchor="end" font-size="24">0.14</text><text x="1126" y="757" text-anchor="middle" font-size="24.8">0.5</text><text x="1294.3" y="757" text-anchor="middle" font-size="24.8">1.0</text><text x="1462.6" y="757" text-anchor="middle" font-size="24.8">1.5</text><text x="1630.9" y="757" text-anchor="middle" font-size="24.8">2.0</text><text x="1799.2" y="757" text-anchor="middle" font-size="24.8">2.5</text><text x="1967.5" y="757" text-anchor="middle" font-size="24.8">3.0</text></g>
<text font-family="'Liberation Sans', Arial, Helvetica, sans-serif" x="1562" y="808.3" text-anchor="middle" font-size="35.8">Tube Diameter (nm)</text>
<text font-family="'Liberation Sans', Arial, Helvetica, sans-serif" transform="translate(1036.4,421.9) rotate(-90)" text-anchor="middle" font-size="35.35">Critical Buckling Strain</text>
<text font-family="'Liberation Sans', Arial, Helvetica, sans-serif" x="1509.28" y="51.9" font-size="66.5" textLength="67.15" lengthAdjust="spacingAndGlyphs">3a</text>
<rect x="1548.7" y="133.4" width="308.1" height="175.5" fill="#fff" stroke="#111" stroke-width="1.4"/>
<path d="M1554.7,158.5H1621.5" stroke="#000" stroke-width="3" stroke-linecap="round"/>
<path d="M1554.7,202.3H1621.5" stroke="#000" stroke-width="3" stroke-linecap="round"/>
<path d="M1554.7,246.2H1621.5" stroke="#000" stroke-width="3" stroke-linecap="round"/>
<path d="M1587.3,150.84 L1589.29,156.16 L1594.96,156.41 L1590.52,159.95 L1592.04,165.42 L1587.3,162.28 L1582.56,165.42 L1584.08,159.95 L1579.64,156.41 L1585.31,156.16Z" fill="#000"/><path d="M1587.7,153.42 L1589.07,156.61 L1592.53,156.93 L1589.92,159.22 L1590.68,162.61 L1587.7,160.84 L1584.72,162.61 L1585.48,159.22 L1582.87,156.93 L1586.33,156.61Z" fill="#ff0000"/>
<path d="M1587.3,194.64 L1589.29,199.96 L1594.96,200.21 L1590.52,203.75 L1592.04,209.22 L1587.3,206.08 L1582.56,209.22 L1584.08,203.75 L1579.64,200.21 L1585.31,199.96Z" fill="#000"/><path d="M1587.7,197.22 L1589.07,200.41 L1592.53,200.73 L1589.92,203.02 L1590.68,206.41 L1587.7,204.64 L1584.72,206.41 L1585.48,203.02 L1582.87,200.73 L1586.33,200.41Z" fill="#0000ff"/>
<rect x="1581.5" y="240.1" width="12.2" height="12.2" fill="#000"/>
<circle cx="1587.6" cy="290.3" r="3.8" fill="#fff" stroke="#000000" stroke-width="1.15"/>
<text font-family="'Liberation Sans', Arial, Helvetica, sans-serif" x="1628.23" y="168.9" font-size="35.5">Zigzag (n,0)</text>
<text font-family="'Liberation Sans', Arial, Helvetica, sans-serif" x="1628.9" y="212.7" font-size="35.5">Armchair (n,n)</text>
<text font-family="'Liberation Sans', Arial, Helvetica, sans-serif" x="1628.27" y="256.6" font-size="35.5">(n.n/2)</text>
<text font-family="'Liberation Sans', Arial, Helvetica, sans-serif" x="1628.82" y="300.7" font-size="35.5">Chiral (n,m)</text>
</g>
<g id="p5a">
<clipPath id="clip5a"><rect x="105.4" y="957.3" width="775.6" height="578.7"/></clipPath>
<path d="M182.96,1536V1542 M182.96,957.3V963.8 M260.52,1536V1547 M260.52,957.3V968.8 M338.08,1536V1542 M338.08,957.3V963.8 M415.64,1536V1547 M415.64,957.3V968.8 M493.2,1536V1542 M493.2,957.3V963.8 M570.76,1536V1547 M570.76,957.3V968.8 M648.32,1536V1542 M648.32,957.3V963.8 M725.88,1536V1547 M725.88,957.3V968.8 M803.44,1536V1542 M803.44,957.3V963.8 M98.9,1497.42H105.4 M875.4,1497.42H881 M93.9,1458.84H105.4 M870.2,1458.84H881 M98.9,1420.26H105.4 M875.4,1420.26H881 M93.9,1381.68H105.4 M870.2,1381.68H881 M98.9,1343.1H105.4 M875.4,1343.1H881 M93.9,1304.52H105.4 M870.2,1304.52H881 M98.9,1265.94H105.4 M875.4,1265.94H881 M93.9,1227.36H105.4 M870.2,1227.36H881 M98.9,1188.78H105.4 M875.4,1188.78H881 M93.9,1150.2H105.4 M870.2,1150.2H881 M98.9,1111.62H105.4 M875.4,1111.62H881 M93.9,1073.04H105.4 M870.2,1073.04H881 M98.9,1034.46H105.4 M875.4,1034.46H881 M93.9,995.88H105.4 M870.2,995.88H881" fill="none" stroke="#000" stroke-width="3.1" stroke-linecap="round"/>
<g clip-path="url(#clip5a)">
<path d="M96.04,992.9 C96.04,992.9 96.04,992.9 100.09,1008.48 C104.14,1024.07 112.23,1055.23 120.33,1079.68 C128.43,1104.14 136.53,1121.88 144.62,1137.21 C152.72,1152.53 160.82,1165.44 168.92,1177.36 C177.02,1189.28 185.11,1200.2 193.21,1209.86 C201.31,1219.53 209.41,1227.94 217.5,1235.47 C225.6,1243 233.7,1249.65 241.8,1256.09 C249.89,1262.54 257.99,1268.78 266.09,1274.31 C274.19,1279.83 282.29,1284.64 290.38,1289.06 C298.48,1293.47 306.58,1297.49 314.68,1301.31 C322.77,1305.12 330.87,1308.74 338.97,1312.29 C347.07,1315.85 355.17,1319.33 363.26,1322.57 C371.36,1325.8 379.46,1328.79 387.56,1331.5 C395.65,1334.2 403.75,1336.62 411.85,1338.97 C419.95,1341.32 428.04,1343.59 436.14,1345.62 C444.24,1347.65 452.34,1349.45 460.44,1351.24 C468.53,1353.02 476.63,1354.79 484.73,1356.66 C492.83,1358.52 500.92,1360.48 509.02,1362.24 C517.12,1364.01 525.22,1365.57 533.31,1367.04 C541.41,1368.51 549.51,1369.87 557.61,1371.31 C565.71,1372.74 573.8,1374.24 581.9,1375.57 C590,1376.9 598.1,1378.06 606.19,1379.15 C614.29,1380.25 622.39,1381.27 630.49,1382.29 C638.58,1383.32 646.68,1384.34 654.78,1385.3 C662.88,1386.25 670.98,1387.14 679.07,1387.96 C687.17,1388.78 695.27,1389.53 703.37,1390.31 C711.46,1391.1 719.56,1391.91 727.66,1392.73 C735.76,1393.55 743.85,1394.37 751.95,1395.22 C760.05,1396.08 768.15,1396.96 776.25,1397.82 C784.34,1398.67 792.44,1399.49 800.54,1400.24 C808.64,1400.99 816.73,1401.67 824.83,1402.35 C832.93,1403.04 841.03,1403.72 849.12,1404.4 C857.22,1405.08 865.32,1405.77 873.42,1406.41 C881.52,1407.06 889.61,1407.68 897.71,1408.26 C905.81,1408.84 913.91,1409.38 917.96,1409.66 C922,1409.93 922,1409.93 922,1409.93" fill="none" stroke="#000" stroke-width="3" stroke-linejoin="round"/>
<path d="M120.03,1079.4 L121.86,1084.28 L127.07,1084.51 L122.99,1087.76 L124.38,1092.78 L120.03,1089.9 L115.68,1092.78 L117.08,1087.76 L112.99,1084.51 L118.2,1084.28Z" fill="#000"/><path d="M120.43,1081.73 L121.69,1084.66 L124.87,1084.95 L122.47,1087.06 L123.17,1090.17 L120.43,1088.54 L117.69,1090.17 L118.39,1087.06 L116,1084.95 L119.17,1084.66Z" fill="#ff0000"/>
<path d="M144.32,1132.62 L146.15,1137.51 L151.36,1137.74 L147.28,1140.98 L148.67,1146.01 L144.32,1143.13 L139.98,1146.01 L141.37,1140.98 L137.29,1137.74 L142.5,1137.51Z" fill="#000"/><path d="M144.72,1134.96 L145.99,1137.89 L149.16,1138.18 L146.76,1140.29 L147.47,1143.39 L144.72,1141.77 L141.98,1143.39 L142.69,1140.29 L140.29,1138.18 L143.46,1137.89Z" fill="#ff0000"/>
<path d="M168.62,1171.35 L170.44,1176.24 L175.66,1176.46 L171.57,1179.71 L172.97,1184.74 L168.62,1181.86 L164.27,1184.74 L165.66,1179.71 L161.58,1176.46 L166.79,1176.24Z" fill="#000"/><path d="M169.02,1173.69 L170.28,1176.62 L173.45,1176.91 L171.06,1179.01 L171.76,1182.12 L169.02,1180.5 L166.28,1182.12 L166.98,1179.01 L164.58,1176.91 L167.76,1176.62Z" fill="#ff0000"/>
<path d="M192.91,1204.12 L194.74,1209.01 L199.95,1209.24 L195.87,1212.48 L197.26,1217.51 L192.91,1214.63 L188.56,1217.51 L189.96,1212.48 L185.87,1209.24 L191.08,1209.01Z" fill="#000"/><path d="M193.31,1206.46 L194.57,1209.39 L197.74,1209.68 L195.35,1211.78 L196.05,1214.89 L193.31,1213.27 L190.57,1214.89 L191.27,1211.78 L188.88,1209.68 L192.05,1209.39Z" fill="#ff0000"/>
<path d="M217.2,1229.35 L219.03,1234.23 L224.24,1234.46 L220.16,1237.71 L221.55,1242.73 L217.2,1239.85 L212.85,1242.73 L214.25,1237.71 L210.17,1234.46 L215.38,1234.23Z" fill="#000"/><path d="M217.6,1231.68 L218.86,1234.61 L222.04,1234.9 L219.64,1237.01 L220.34,1240.12 L217.6,1238.49 L214.86,1240.12 L215.56,1237.01 L213.17,1234.9 L216.34,1234.61Z" fill="#ff0000"/>
<path d="M241.5,1249.3 L243.32,1254.18 L248.54,1254.41 L244.45,1257.66 L245.85,1262.69 L241.5,1259.81 L237.15,1262.69 L238.54,1257.66 L234.46,1254.41 L239.67,1254.18Z" fill="#000"/><path d="M241.9,1251.64 L243.16,1254.56 L246.33,1254.86 L243.94,1256.96 L244.64,1260.07 L241.9,1258.44 L239.16,1260.07 L239.86,1256.96 L237.46,1254.86 L240.64,1254.56Z" fill="#ff0000"/>
<path d="M265.79,1268.02 L267.62,1272.9 L272.83,1273.13 L268.75,1276.38 L270.14,1281.41 L265.79,1278.53 L261.44,1281.41 L262.83,1276.38 L258.75,1273.13 L263.96,1272.9Z" fill="#000"/><path d="M266.19,1270.36 L267.45,1273.28 L270.62,1273.58 L268.23,1275.68 L268.93,1278.79 L266.19,1277.16 L263.45,1278.79 L264.15,1275.68 L261.76,1273.58 L264.93,1273.28Z" fill="#ff0000"/>
<path d="M290.08,1282.46 L291.91,1287.34 L297.12,1287.57 L293.04,1290.82 L294.43,1295.84 L290.08,1292.97 L285.73,1295.84 L287.13,1290.82 L283.05,1287.57 L288.26,1287.34Z" fill="#000"/><path d="M290.48,1284.8 L291.74,1287.72 L294.92,1288.02 L292.52,1290.12 L293.22,1293.23 L290.48,1291.6 L287.74,1293.23 L288.44,1290.12 L286.05,1288.02 L289.22,1287.72Z" fill="#ff0000"/>
<path d="M314.38,1294.51 L316.2,1299.39 L321.41,1299.62 L317.33,1302.87 L318.73,1307.89 L314.38,1305.01 L310.03,1307.89 L311.42,1302.87 L307.34,1299.62 L312.55,1299.39Z" fill="#000"/><path d="M314.78,1296.84 L316.04,1299.77 L319.21,1300.07 L316.82,1302.17 L317.52,1305.28 L314.78,1303.65 L312.04,1305.28 L312.74,1302.17 L310.34,1300.07 L313.52,1299.77Z" fill="#ff0000"/>
<path d="M338.67,1305.36 L340.5,1310.25 L345.71,1310.47 L341.63,1313.72 L343.02,1318.75 L338.67,1315.87 L334.32,1318.75 L335.71,1313.72 L331.63,1310.47 L336.84,1310.25Z" fill="#000"/><path d="M339.07,1307.7 L340.33,1310.63 L343.5,1310.92 L341.11,1313.02 L341.81,1316.13 L339.07,1314.5 L336.33,1316.13 L337.03,1313.02 L334.64,1310.92 L337.81,1310.63Z" fill="#ff0000"/>
<path d="M362.96,1315.82 L364.79,1320.7 L370,1320.93 L365.92,1324.18 L367.31,1329.2 L362.96,1326.32 L358.61,1329.2 L360.01,1324.18 L355.92,1320.93 L361.14,1320.7Z" fill="#000"/><path d="M363.36,1318.15 L364.62,1321.08 L367.8,1321.38 L365.4,1323.48 L366.1,1326.59 L363.36,1324.96 L360.62,1326.59 L361.32,1323.48 L358.93,1321.38 L362.1,1321.08Z" fill="#ff0000"/>
<path d="M387.26,1324.78 L389.08,1329.66 L394.29,1329.89 L390.21,1333.14 L391.61,1338.16 L387.26,1335.29 L382.91,1338.16 L384.3,1333.14 L380.22,1329.89 L385.43,1329.66Z" fill="#000"/><path d="M387.66,1327.12 L388.92,1330.04 L392.09,1330.34 L389.7,1332.44 L390.4,1335.55 L387.66,1333.92 L384.92,1335.55 L385.62,1332.44 L383.22,1330.34 L386.4,1330.04Z" fill="#ff0000"/>
<path d="M411.55,1332.05 L413.38,1336.93 L418.59,1337.16 L414.5,1340.41 L415.9,1345.43 L411.55,1342.56 L407.2,1345.43 L408.59,1340.41 L404.51,1337.16 L409.72,1336.93Z" fill="#000"/><path d="M411.95,1334.39 L413.21,1337.31 L416.38,1337.61 L413.99,1339.71 L414.69,1342.82 L411.95,1341.19 L409.21,1342.82 L409.91,1339.71 L407.52,1337.61 L410.69,1337.31Z" fill="#ff0000"/>
<path d="M435.84,1338.86 L437.67,1343.74 L442.88,1343.97 L438.8,1347.22 L440.19,1352.24 L435.84,1349.36 L431.49,1352.24 L432.89,1347.22 L428.8,1343.97 L434.02,1343.74Z" fill="#000"/><path d="M436.24,1341.19 L437.5,1344.12 L440.68,1344.42 L438.28,1346.52 L438.98,1349.63 L436.24,1348 L433.5,1349.63 L434.2,1346.52 L431.81,1344.42 L434.98,1344.12Z" fill="#ff0000"/>
<path d="M460.14,1344.25 L461.96,1349.13 L467.17,1349.36 L463.09,1352.61 L464.48,1357.63 L460.14,1354.76 L455.79,1357.63 L457.18,1352.61 L453.1,1349.36 L458.31,1349.13Z" fill="#000"/><path d="M460.54,1346.59 L461.8,1349.51 L464.97,1349.81 L462.57,1351.91 L463.28,1355.02 L460.54,1353.39 L457.79,1355.02 L458.5,1351.91 L456.1,1349.81 L459.27,1349.51Z" fill="#ff0000"/>
<path d="M484.43,1349.57 L486.26,1354.45 L491.47,1354.68 L487.38,1357.93 L488.78,1362.95 L484.43,1360.08 L480.08,1362.95 L481.47,1357.93 L477.39,1354.68 L482.6,1354.45Z" fill="#000"/><path d="M484.83,1351.91 L486.09,1354.83 L489.26,1355.13 L486.87,1357.23 L487.57,1360.34 L484.83,1358.71 L482.09,1360.34 L482.79,1357.23 L480.39,1355.13 L483.57,1354.83Z" fill="#ff0000"/>
<path d="M508.72,1355.44 L510.55,1360.32 L515.76,1360.55 L511.68,1363.8 L513.07,1368.82 L508.72,1365.94 L504.37,1368.82 L505.77,1363.8 L501.68,1360.55 L506.89,1360.32Z" fill="#000"/><path d="M509.12,1357.77 L510.38,1360.7 L513.56,1361 L511.16,1363.1 L511.86,1366.21 L509.12,1364.58 L506.38,1366.21 L507.08,1363.1 L504.69,1361 L507.86,1360.7Z" fill="#ff0000"/>
<path d="M533.01,1360.14 L534.84,1365.03 L540.05,1365.26 L535.97,1368.5 L537.36,1373.53 L533.01,1370.65 L528.66,1373.53 L530.06,1368.5 L525.98,1365.26 L531.19,1365.03Z" fill="#000"/><path d="M533.41,1362.48 L534.68,1365.41 L537.85,1365.7 L535.45,1367.81 L536.15,1370.92 L533.41,1369.29 L530.67,1370.92 L531.37,1367.81 L528.98,1365.7 L532.15,1365.41Z" fill="#ff0000"/>
<path d="M557.31,1364.24 L559.13,1369.12 L564.35,1369.35 L560.26,1372.6 L561.66,1377.63 L557.31,1374.75 L552.96,1377.63 L554.35,1372.6 L550.27,1369.35 L555.48,1369.12Z" fill="#000"/><path d="M557.71,1366.58 L558.97,1369.5 L562.14,1369.8 L559.75,1371.9 L560.45,1375.01 L557.71,1373.38 L554.97,1375.01 L555.67,1371.9 L553.27,1369.8 L556.45,1369.5Z" fill="#ff0000"/>
<path d="M581.6,1368.74 L583.43,1373.63 L588.64,1373.86 L584.56,1377.1 L585.95,1382.13 L581.6,1379.25 L577.25,1382.13 L578.64,1377.1 L574.56,1373.86 L579.77,1373.63Z" fill="#000"/><path d="M582,1371.08 L583.26,1374.01 L586.43,1374.3 L584.04,1376.4 L584.74,1379.51 L582,1377.89 L579.26,1379.51 L579.96,1376.4 L577.57,1374.3 L580.74,1374.01Z" fill="#ff0000"/>
<path d="M605.89,1372.22 L607.72,1377.11 L612.93,1377.34 L608.85,1380.58 L610.24,1385.61 L605.89,1382.73 L601.54,1385.61 L602.94,1380.58 L598.86,1377.34 L604.07,1377.11Z" fill="#000"/><path d="M606.29,1374.56 L607.55,1377.49 L610.73,1377.78 L608.33,1379.88 L609.03,1382.99 L606.29,1381.37 L603.55,1382.99 L604.25,1379.88 L601.86,1377.78 L605.03,1377.49Z" fill="#ff0000"/>
<path d="M630.19,1375.29 L632.01,1380.18 L637.22,1380.41 L633.14,1383.65 L634.54,1388.68 L630.19,1385.8 L625.84,1388.68 L627.23,1383.65 L623.15,1380.41 L628.36,1380.18Z" fill="#000"/><path d="M630.59,1377.63 L631.85,1380.56 L635.02,1380.85 L632.63,1382.96 L633.33,1386.06 L630.59,1384.44 L627.85,1386.06 L628.55,1382.96 L626.15,1380.85 L629.33,1380.56Z" fill="#ff0000"/>
<path d="M654.48,1378.36 L656.31,1383.25 L661.52,1383.48 L657.44,1386.72 L658.83,1391.75 L654.48,1388.87 L650.13,1391.75 L651.52,1386.72 L647.44,1383.48 L652.65,1383.25Z" fill="#000"/><path d="M654.88,1380.7 L656.14,1383.63 L659.31,1383.92 L656.92,1386.03 L657.62,1389.13 L654.88,1387.51 L652.14,1389.13 L652.84,1386.03 L650.45,1383.92 L653.62,1383.63Z" fill="#ff0000"/>
<path d="M678.77,1381.02 L680.6,1385.91 L685.81,1386.14 L681.73,1389.38 L683.12,1394.41 L678.77,1391.53 L674.42,1394.41 L675.82,1389.38 L671.74,1386.14 L676.95,1385.91Z" fill="#000"/><path d="M679.17,1383.36 L680.43,1386.29 L683.61,1386.58 L681.21,1388.69 L681.91,1391.8 L679.17,1390.17 L676.43,1391.8 L677.13,1388.69 L674.74,1386.58 L677.91,1386.29Z" fill="#ff0000"/>
<path d="M703.07,1383.28 L704.89,1388.16 L710.1,1388.39 L706.02,1391.64 L707.42,1396.66 L703.07,1393.78 L698.72,1396.66 L700.11,1391.64 L696.03,1388.39 L701.24,1388.16Z" fill="#000"/><path d="M703.47,1385.61 L704.73,1388.54 L707.9,1388.84 L705.51,1390.94 L706.21,1394.05 L703.47,1392.42 L700.73,1394.05 L701.43,1390.94 L699.03,1388.84 L702.21,1388.54Z" fill="#ff0000"/>
<path d="M727.36,1385.73 L729.19,1390.62 L734.4,1390.85 L730.32,1394.09 L731.71,1399.12 L727.36,1396.24 L723.01,1399.12 L724.4,1394.09 L720.32,1390.85 L725.53,1390.62Z" fill="#000"/><path d="M727.76,1388.07 L729.02,1391 L732.19,1391.29 L729.8,1393.4 L730.5,1396.5 L727.76,1394.88 L725.02,1396.5 L725.72,1393.4 L723.33,1391.29 L726.5,1391Z" fill="#ff0000"/>
<path d="M751.65,1388.19 L753.48,1393.07 L758.69,1393.3 L754.61,1396.55 L756,1401.58 L751.65,1398.7 L747.3,1401.58 L748.7,1396.55 L744.61,1393.3 L749.83,1393.07Z" fill="#000"/><path d="M752.05,1390.53 L753.31,1393.45 L756.49,1393.75 L754.09,1395.85 L754.79,1398.96 L752.05,1397.33 L749.31,1398.96 L750.01,1395.85 L747.62,1393.75 L750.79,1393.45Z" fill="#ff0000"/>
<path d="M775.95,1390.85 L777.77,1395.74 L782.98,1395.96 L778.9,1399.21 L780.3,1404.24 L775.95,1401.36 L771.6,1404.24 L772.99,1399.21 L768.91,1395.96 L774.12,1395.74Z" fill="#000"/><path d="M776.35,1393.19 L777.61,1396.12 L780.78,1396.41 L778.39,1398.51 L779.09,1401.62 L776.35,1400 L773.61,1401.62 L774.31,1398.51 L771.91,1396.41 L775.09,1396.12Z" fill="#ff0000"/>
<path d="M800.24,1393.31 L802.07,1398.19 L807.28,1398.42 L803.19,1401.67 L804.59,1406.69 L800.24,1403.82 L795.89,1406.69 L797.28,1401.67 L793.2,1398.42 L798.41,1398.19Z" fill="#000"/><path d="M800.64,1395.65 L801.9,1398.57 L805.07,1398.87 L802.68,1400.97 L803.38,1404.08 L800.64,1402.45 L797.9,1404.08 L798.6,1400.97 L796.2,1398.87 L799.38,1398.57Z" fill="#ff0000"/>
<path d="M824.53,1395.35 L826.36,1400.24 L831.57,1400.47 L827.49,1403.71 L828.88,1408.74 L824.53,1405.86 L820.18,1408.74 L821.58,1403.71 L817.49,1400.47 L822.7,1400.24Z" fill="#000"/><path d="M824.93,1397.69 L826.19,1400.62 L829.37,1400.91 L826.97,1403.02 L827.67,1406.13 L824.93,1404.5 L822.19,1406.13 L822.89,1403.02 L820.5,1400.91 L823.67,1400.62Z" fill="#ff0000"/>
<path d="M848.82,1397.4 L850.65,1402.29 L855.86,1402.51 L851.78,1405.76 L853.17,1410.79 L848.82,1407.91 L844.48,1410.79 L845.87,1405.76 L841.79,1402.51 L847,1402.29Z" fill="#000"/><path d="M849.22,1399.74 L850.49,1402.67 L853.66,1402.96 L851.26,1405.06 L851.97,1408.17 L849.22,1406.55 L846.48,1408.17 L847.19,1405.06 L844.79,1402.96 L847.96,1402.67Z" fill="#ff0000"/>
<path d="M873.12,1399.45 L874.94,1404.33 L880.16,1404.56 L876.07,1407.81 L877.47,1412.84 L873.12,1409.96 L868.77,1412.84 L870.16,1407.81 L866.08,1404.56 L871.29,1404.33Z" fill="#000"/><path d="M873.52,1401.79 L874.78,1404.71 L877.95,1405.01 L875.56,1407.11 L876.26,1410.22 L873.52,1408.59 L870.78,1410.22 L871.48,1407.11 L869.08,1405.01 L872.26,1404.71Z" fill="#ff0000"/>
<path d="M76.51,911.92 C76.51,911.92 76.51,911.92 83.52,940.17 C90.54,968.43 104.56,1024.93 118.59,1070.39 C132.61,1115.86 146.64,1150.28 160.66,1178.48 C174.69,1206.69 188.72,1228.67 202.74,1247.34 C216.77,1266.01 230.79,1281.37 244.82,1295.14 C258.84,1308.91 272.87,1321.09 286.9,1331.44 C300.92,1341.79 314.95,1350.32 328.97,1358.5 C343,1366.69 357.02,1374.55 371.05,1381.3 C385.07,1388.06 399.1,1393.72 413.13,1399.11 C427.15,1404.5 441.18,1409.63 455.2,1414.47 C469.23,1419.32 483.25,1423.88 497.28,1427.96 C511.31,1432.03 525.33,1435.62 539.36,1438.77 C553.38,1441.93 567.41,1444.66 581.43,1447.46 C595.46,1450.26 609.48,1453.12 623.51,1455.85 C637.54,1458.58 651.56,1461.17 665.59,1463.6 C679.61,1466.02 693.64,1468.27 707.66,1470.39 C721.69,1472.5 735.72,1474.48 749.74,1476.25 C763.77,1478.03 777.79,1479.6 791.82,1481.17 C805.84,1482.74 819.87,1484.31 833.89,1485.77 C847.92,1487.24 861.95,1488.6 875.97,1489.9 C890,1491.2 904.02,1492.43 918.05,1493.59 C932.07,1494.75 946.1,1495.84 953.11,1496.38 C960.13,1496.93 960.13,1496.93 960.13,1496.93" fill="none" stroke="#000" stroke-width="3" stroke-linejoin="round"/>
<path d="M118.29,1074.43 L120.11,1079.32 L125.33,1079.54 L121.24,1082.79 L122.64,1087.82 L118.29,1084.94 L113.94,1087.82 L115.33,1082.79 L111.25,1079.54 L116.46,1079.32Z" fill="#000"/><path d="M118.69,1076.77 L119.95,1079.7 L123.12,1079.99 L120.73,1082.09 L121.43,1085.2 L118.69,1083.57 L115.95,1085.2 L116.65,1082.09 L114.25,1079.99 L117.43,1079.7Z" fill="#0000ff"/>
<path d="M160.36,1177.71 L162.19,1182.59 L167.4,1182.82 L163.32,1186.07 L164.71,1191.09 L160.36,1188.22 L156.01,1191.09 L157.41,1186.07 L153.33,1182.82 L158.54,1182.59Z" fill="#000"/><path d="M160.76,1180.05 L162.02,1182.97 L165.2,1183.27 L162.8,1185.37 L163.5,1188.48 L160.76,1186.85 L158.02,1188.48 L158.72,1185.37 L156.33,1183.27 L159.5,1182.97Z" fill="#0000ff"/>
<path d="M202.44,1243.65 L204.27,1248.53 L209.48,1248.76 L205.4,1252.01 L206.79,1257.03 L202.44,1254.15 L198.09,1257.03 L199.49,1252.01 L195.4,1248.76 L200.61,1248.53Z" fill="#000"/><path d="M202.84,1245.98 L204.1,1248.91 L207.28,1249.2 L204.88,1251.31 L205.58,1254.42 L202.84,1252.79 L200.1,1254.42 L200.8,1251.31 L198.41,1249.2 L201.58,1248.91Z" fill="#0000ff"/>
<path d="M244.52,1289.73 L246.35,1294.61 L251.56,1294.84 L247.47,1298.09 L248.87,1303.11 L244.52,1300.23 L240.17,1303.11 L241.56,1298.09 L237.48,1294.84 L242.69,1294.61Z" fill="#000"/><path d="M244.92,1292.06 L246.18,1294.99 L249.35,1295.29 L246.96,1297.39 L247.66,1300.5 L244.92,1298.87 L242.18,1300.5 L242.88,1297.39 L240.48,1295.29 L243.66,1294.99Z" fill="#0000ff"/>
<path d="M286.6,1326.27 L288.42,1331.16 L293.63,1331.38 L289.55,1334.63 L290.94,1339.66 L286.6,1336.78 L282.25,1339.66 L283.64,1334.63 L279.56,1331.38 L284.77,1331.16Z" fill="#000"/><path d="M287,1328.61 L288.26,1331.54 L291.43,1331.83 L289.03,1333.93 L289.74,1337.04 L287,1335.42 L284.25,1337.04 L284.96,1333.93 L282.56,1331.83 L285.73,1331.54Z" fill="#0000ff"/>
<path d="M328.67,1351.84 L330.5,1356.72 L335.71,1356.95 L331.63,1360.2 L333.02,1365.22 L328.67,1362.34 L324.32,1365.22 L325.72,1360.2 L321.63,1356.95 L326.85,1356.72Z" fill="#000"/><path d="M329.07,1354.17 L330.33,1357.1 L333.51,1357.4 L331.11,1359.5 L331.81,1362.61 L329.07,1360.98 L326.33,1362.61 L327.03,1359.5 L324.64,1357.4 L327.81,1357.1Z" fill="#0000ff"/>
<path d="M370.75,1375.4 L372.58,1380.29 L377.79,1380.51 L373.7,1383.76 L375.1,1388.79 L370.75,1385.91 L366.4,1388.79 L367.79,1383.76 L363.71,1380.51 L368.92,1380.29Z" fill="#000"/><path d="M371.15,1377.74 L372.41,1380.67 L375.58,1380.96 L373.19,1383.06 L373.89,1386.17 L371.15,1384.55 L368.41,1386.17 L369.11,1383.06 L366.72,1380.96 L369.89,1380.67Z" fill="#0000ff"/>
<path d="M412.83,1392.38 L414.65,1397.26 L419.86,1397.49 L415.78,1400.74 L417.18,1405.76 L412.83,1402.88 L408.48,1405.76 L409.87,1400.74 L405.79,1397.49 L411,1397.26Z" fill="#000"/><path d="M413.23,1394.71 L414.49,1397.64 L417.66,1397.94 L415.27,1400.04 L415.97,1403.15 L413.23,1401.52 L410.49,1403.15 L411.19,1400.04 L408.79,1397.94 L411.97,1397.64Z" fill="#0000ff"/>
<path d="M454.9,1407.75 L456.73,1412.64 L461.94,1412.87 L457.86,1416.11 L459.25,1421.14 L454.9,1418.26 L450.55,1421.14 L451.95,1416.11 L447.86,1412.87 L453.08,1412.64Z" fill="#000"/><path d="M455.3,1410.09 L456.56,1413.02 L459.74,1413.31 L457.34,1415.42 L458.04,1418.52 L455.3,1416.9 L452.56,1418.52 L453.26,1415.42 L450.87,1413.31 L454.04,1413.02Z" fill="#0000ff"/>
<path d="M496.98,1421.44 L498.81,1426.33 L504.02,1426.56 L499.94,1429.81 L501.33,1434.83 L496.98,1431.95 L492.63,1434.83 L494.02,1429.81 L489.94,1426.56 L495.15,1426.33Z" fill="#000"/><path d="M497.38,1423.78 L498.64,1426.71 L501.81,1427 L499.42,1429.11 L500.12,1432.22 L497.38,1430.59 L494.64,1432.22 L495.34,1429.11 L492.95,1427 L496.12,1426.71Z" fill="#0000ff"/>
<path d="M539.06,1432.2 L540.88,1437.09 L546.09,1437.31 L542.01,1440.56 L543.41,1445.59 L539.06,1442.71 L534.71,1445.59 L536.1,1440.56 L532.02,1437.31 L537.23,1437.09Z" fill="#000"/><path d="M539.46,1434.54 L540.72,1437.47 L543.89,1437.76 L541.5,1439.86 L542.2,1442.97 L539.46,1441.35 L536.72,1442.97 L537.42,1439.86 L535.02,1437.76 L538.2,1437.47Z" fill="#0000ff"/>
<path d="M581.13,1440.39 L582.96,1445.28 L588.17,1445.5 L584.09,1448.75 L585.48,1453.78 L581.13,1450.9 L576.78,1453.78 L578.18,1448.75 L574.1,1445.5 L579.31,1445.28Z" fill="#000"/><path d="M581.53,1442.73 L582.79,1445.66 L585.97,1445.95 L583.57,1448.05 L584.27,1451.16 L581.53,1449.53 L578.79,1451.16 L579.49,1448.05 L577.1,1445.95 L580.27,1445.66Z" fill="#0000ff"/>
<path d="M623.21,1448.99 L625.04,1453.87 L630.25,1454.1 L626.17,1457.35 L627.56,1462.37 L623.21,1459.5 L618.86,1462.37 L620.25,1457.35 L616.17,1454.1 L621.38,1453.87Z" fill="#000"/><path d="M623.61,1451.33 L624.87,1454.25 L628.04,1454.55 L625.65,1456.65 L626.35,1459.76 L623.61,1458.13 L620.87,1459.76 L621.57,1456.65 L619.18,1454.55 L622.35,1454.25Z" fill="#0000ff"/>
<path d="M665.29,1456.77 L667.11,1461.65 L672.32,1461.88 L668.24,1465.13 L669.64,1470.15 L665.29,1467.27 L660.94,1470.15 L662.33,1465.13 L658.25,1461.88 L663.46,1461.65Z" fill="#000"/><path d="M665.69,1459.1 L666.95,1462.03 L670.12,1462.33 L667.73,1464.43 L668.43,1467.54 L665.69,1465.91 L662.95,1467.54 L663.65,1464.43 L661.25,1462.33 L664.43,1462.03Z" fill="#0000ff"/>
<path d="M707.36,1463.52 L709.19,1468.41 L714.4,1468.64 L710.32,1471.88 L711.71,1476.91 L707.36,1474.03 L703.01,1476.91 L704.41,1471.88 L700.33,1468.64 L705.54,1468.41Z" fill="#000"/><path d="M707.76,1465.86 L709.02,1468.79 L712.2,1469.08 L709.8,1471.18 L710.5,1474.29 L707.76,1472.67 L705.02,1474.29 L705.72,1471.18 L703.33,1469.08 L706.5,1468.79Z" fill="#0000ff"/>
<path d="M749.44,1469.46 L751.27,1474.34 L756.48,1474.57 L752.4,1477.82 L753.79,1482.85 L749.44,1479.97 L745.09,1482.85 L746.49,1477.82 L742.4,1474.57 L747.61,1474.34Z" fill="#000"/><path d="M749.84,1471.8 L751.1,1474.72 L754.27,1475.02 L751.88,1477.12 L752.58,1480.23 L749.84,1478.6 L747.1,1480.23 L747.8,1477.12 L745.41,1475.02 L748.58,1474.72Z" fill="#0000ff"/>
<path d="M791.52,1474.17 L793.34,1479.05 L798.56,1479.28 L794.47,1482.53 L795.87,1487.55 L791.52,1484.67 L787.17,1487.55 L788.56,1482.53 L784.48,1479.28 L789.69,1479.05Z" fill="#000"/><path d="M791.92,1476.5 L793.18,1479.43 L796.35,1479.73 L793.96,1481.83 L794.66,1484.94 L791.92,1483.31 L789.18,1484.94 L789.88,1481.83 L787.48,1479.73 L790.66,1479.43Z" fill="#0000ff"/>
<path d="M833.59,1478.88 L835.42,1483.76 L840.63,1483.99 L836.55,1487.24 L837.94,1492.26 L833.59,1489.38 L829.25,1492.26 L830.64,1487.24 L826.56,1483.99 L831.77,1483.76Z" fill="#000"/><path d="M833.99,1481.21 L835.26,1484.14 L838.43,1484.43 L836.03,1486.54 L836.73,1489.65 L833.99,1488.02 L831.25,1489.65 L831.96,1486.54 L829.56,1484.43 L832.73,1484.14Z" fill="#0000ff"/>
<path d="M875.67,1482.97 L877.5,1487.85 L882.71,1488.08 L878.63,1491.33 L880.02,1496.36 L875.67,1493.48 L871.32,1496.36 L872.72,1491.33 L868.63,1488.08 L873.84,1487.85Z" fill="#000"/><path d="M876.07,1485.31 L877.33,1488.23 L880.51,1488.53 L878.11,1490.63 L878.81,1493.74 L876.07,1492.11 L873.33,1493.74 L874.03,1490.63 L871.64,1488.53 L874.81,1488.23Z" fill="#0000ff"/>
<path d="M78.83,962.74 C78.83,962.74 78.83,962.74 89.54,1004.63 C100.25,1046.53 121.68,1130.31 143.1,1188.17 C164.53,1246.02 185.95,1277.95 207.37,1303.33 C228.8,1328.72 250.22,1347.57 271.65,1363.22 C293.07,1378.87 314.5,1391.32 335.92,1401.87 C357.35,1412.42 378.77,1421.08 400.19,1428.4 C421.62,1435.72 443.04,1441.71 464.47,1447.45 C485.89,1453.19 507.32,1458.69 528.74,1463.31 C550.17,1467.93 571.59,1471.68 593.02,1475.03 C614.44,1478.37 635.86,1481.3 657.29,1484.24 C678.71,1487.17 700.14,1490.11 721.56,1492.84 C742.99,1495.56 764.41,1498.09 785.84,1499.35 C807.26,1500.61 828.68,1500.61 850.11,1500.61 C871.53,1500.61 892.96,1500.61 914.38,1500.61 C935.81,1500.61 957.23,1500.61 967.94,1500.61 C978.66,1500.61 978.66,1500.61 978.66,1500.61" fill="none" stroke="#000" stroke-width="3" stroke-linejoin="round"/>
<rect x="137.5" y="1208.5" width="11.2" height="11.2" fill="#000"/>
<rect x="201.77" y="1304.27" width="11.2" height="11.2" fill="#000"/>
<rect x="266.05" y="1360.83" width="11.2" height="11.2" fill="#000"/>
<rect x="330.32" y="1398.17" width="11.2" height="11.2" fill="#000"/>
<rect x="394.59" y="1424.13" width="11.2" height="11.2" fill="#000"/>
<rect x="458.87" y="1442.1" width="11.2" height="11.2" fill="#000"/>
<rect x="523.14" y="1458.58" width="11.2" height="11.2" fill="#000"/>
<rect x="587.42" y="1469.84" width="11.2" height="11.2" fill="#000"/>
<rect x="651.69" y="1478.64" width="11.2" height="11.2" fill="#000"/>
<rect x="715.96" y="1487.44" width="11.2" height="11.2" fill="#000"/>
<rect x="780.24" y="1495.01" width="11.2" height="11.2" fill="#000"/>
<rect x="844.51" y="1495.01" width="11.2" height="11.2" fill="#000"/>
<circle cx="109.33" cy="1075.87" r="3.35" fill="#fff" stroke="#000000" stroke-width="1.15"/>
<circle cx="139.72" cy="1184.31" r="3.35" fill="#fff" stroke="#000000" stroke-width="1.15"/>
<circle cx="149.06" cy="1197.62" r="3.35" fill="#fff" stroke="#000000" stroke-width="1.15"/>
<circle cx="181.43" cy="1215.09" r="3.35" fill="#fff" stroke="#000000" stroke-width="1.15"/>
<circle cx="181.43" cy="1250.65" r="3.35" fill="#fff" stroke="#000000" stroke-width="1.15"/>
<circle cx="189.42" cy="1276.01" r="3.35" fill="#fff" stroke="#000000" stroke-width="1.15"/>
<circle cx="220.29" cy="1278.8" r="3.35" fill="#fff" stroke="#000000" stroke-width="1.15"/>
<circle cx="223.67" cy="1296.53" r="3.35" fill="#fff" stroke="#000000" stroke-width="1.15"/>
<circle cx="230.15" cy="1330.38" r="3.35" fill="#fff" stroke="#000000" stroke-width="1.15"/>
<circle cx="254.44" cy="1281.29" r="3.35" fill="#fff" stroke="#000000" stroke-width="1.15"/>
<circle cx="259.82" cy="1329.79" r="3.35" fill="#fff" stroke="#000000" stroke-width="1.15"/>
<circle cx="265.8" cy="1332.77" r="3.35" fill="#fff" stroke="#000000" stroke-width="1.15"/>
<circle cx="292.68" cy="1324.21" r="3.35" fill="#fff" stroke="#000000" stroke-width="1.15"/>
<circle cx="327.04" cy="1321.82" r="3.35" fill="#fff" stroke="#000000" stroke-width="1.15"/>
<circle cx="248.18" cy="1350.25" r="3.35" fill="#fff" stroke="#000000" stroke-width="1.15"/>
<circle cx="290.11" cy="1378.81" r="3.35" fill="#fff" stroke="#000000" stroke-width="1.15"/>
<circle cx="300.1" cy="1367.22" r="3.35" fill="#fff" stroke="#000000" stroke-width="1.15"/>
<circle cx="308.09" cy="1359.24" r="3.35" fill="#fff" stroke="#000000" stroke-width="1.15"/>
<circle cx="331.65" cy="1360.23" r="3.35" fill="#fff" stroke="#000000" stroke-width="1.15"/>
<circle cx="331.65" cy="1399.18" r="3.35" fill="#fff" stroke="#000000" stroke-width="1.15"/>
<circle cx="341.24" cy="1395.38" r="3.35" fill="#fff" stroke="#000000" stroke-width="1.15"/>
<circle cx="349.63" cy="1382.8" r="3.35" fill="#fff" stroke="#000000" stroke-width="1.15"/>
<circle cx="365" cy="1351.85" r="3.35" fill="#fff" stroke="#000000" stroke-width="1.15"/>
<circle cx="371.59" cy="1389.19" r="3.35" fill="#fff" stroke="#000000" stroke-width="1.15"/>
<circle cx="373.59" cy="1414.75" r="3.35" fill="#fff" stroke="#000000" stroke-width="1.15"/>
<circle cx="381.98" cy="1418.75" r="3.35" fill="#fff" stroke="#000000" stroke-width="1.15"/>
<circle cx="391.96" cy="1399.18" r="3.35" fill="#fff" stroke="#000000" stroke-width="1.15"/>
<circle cx="399.95" cy="1348.25" r="3.35" fill="#fff" stroke="#000000" stroke-width="1.15"/>
<circle cx="403.94" cy="1379.21" r="3.35" fill="#fff" stroke="#000000" stroke-width="1.15"/>
<circle cx="411.93" cy="1411.76" r="3.35" fill="#fff" stroke="#000000" stroke-width="1.15"/>
<circle cx="415.13" cy="1428.13" r="3.35" fill="#fff" stroke="#000000" stroke-width="1.15"/>
<circle cx="423.12" cy="1435.72" r="3.35" fill="#fff" stroke="#000000" stroke-width="1.15"/>
<circle cx="433.9" cy="1414.95" r="3.35" fill="#fff" stroke="#000000" stroke-width="1.15"/>
<circle cx="437.49" cy="1372.22" r="3.35" fill="#fff" stroke="#000000" stroke-width="1.15"/>
<circle cx="441.09" cy="1443.11" r="3.35" fill="#fff" stroke="#000000" stroke-width="1.15"/>
<circle cx="443.09" cy="1403.17" r="3.35" fill="#fff" stroke="#000000" stroke-width="1.15"/>
<circle cx="452.07" cy="1430.73" r="3.35" fill="#fff" stroke="#000000" stroke-width="1.15"/>
<circle cx="457.06" cy="1438.72" r="3.35" fill="#fff" stroke="#000000" stroke-width="1.15"/>
<circle cx="472.44" cy="1365.83" r="3.35" fill="#fff" stroke="#000000" stroke-width="1.15"/>
<circle cx="476.04" cy="1394.18" r="3.35" fill="#fff" stroke="#000000" stroke-width="1.15"/>
<circle cx="476.04" cy="1428.13" r="3.35" fill="#fff" stroke="#000000" stroke-width="1.15"/>
<circle cx="482.75" cy="1422.78" r="3.35" fill="#fff" stroke="#000000" stroke-width="1.15"/>
<circle cx="482.75" cy="1453.11" r="3.35" fill="#fff" stroke="#000000" stroke-width="1.15"/>
<circle cx="492.55" cy="1446.74" r="3.35" fill="#fff" stroke="#000000" stroke-width="1.15"/>
<circle cx="498.92" cy="1447.55" r="3.35" fill="#fff" stroke="#000000" stroke-width="1.15"/>
<circle cx="510.3" cy="1384.95" r="3.35" fill="#fff" stroke="#000000" stroke-width="1.15"/>
<circle cx="515.21" cy="1413" r="3.35" fill="#fff" stroke="#000000" stroke-width="1.15"/>
<circle cx="518.28" cy="1439.2" r="3.35" fill="#fff" stroke="#000000" stroke-width="1.15"/>
<circle cx="523.4" cy="1439.61" r="3.35" fill="#fff" stroke="#000000" stroke-width="1.15"/>
<circle cx="525.04" cy="1463.15" r="3.35" fill="#fff" stroke="#000000" stroke-width="1.15"/>
<circle cx="533.63" cy="1459.67" r="3.35" fill="#fff" stroke="#000000" stroke-width="1.15"/>
<circle cx="541.41" cy="1455.99" r="3.35" fill="#fff" stroke="#000000" stroke-width="1.15"/>
<circle cx="545.51" cy="1379.84" r="3.35" fill="#fff" stroke="#000000" stroke-width="1.15"/>
<circle cx="548.58" cy="1403.38" r="3.35" fill="#fff" stroke="#000000" stroke-width="1.15"/>
<circle cx="554.31" cy="1429.58" r="3.35" fill="#fff" stroke="#000000" stroke-width="1.15"/>
<circle cx="560.45" cy="1447.39" r="3.35" fill="#fff" stroke="#000000" stroke-width="1.15"/>
<circle cx="562.91" cy="1453.12" r="3.35" fill="#fff" stroke="#000000" stroke-width="1.15"/>
<circle cx="566.39" cy="1470.32" r="3.35" fill="#fff" stroke="#000000" stroke-width="1.15"/>
<circle cx="574.58" cy="1469.91" r="3.35" fill="#fff" stroke="#000000" stroke-width="1.15"/>
<circle cx="582.97" cy="1396.62" r="3.35" fill="#fff" stroke="#000000" stroke-width="1.15"/>
<circle cx="583.38" cy="1463.77" r="3.35" fill="#fff" stroke="#000000" stroke-width="1.15"/>
<circle cx="587.06" cy="1420.16" r="3.35" fill="#fff" stroke="#000000" stroke-width="1.15"/>
<circle cx="594.23" cy="1443.91" r="3.35" fill="#fff" stroke="#000000" stroke-width="1.15"/>
<circle cx="603.44" cy="1464.79" r="3.35" fill="#fff" stroke="#000000" stroke-width="1.15"/>
<circle cx="607.94" cy="1476.46" r="3.35" fill="#fff" stroke="#000000" stroke-width="1.15"/>
<circle cx="615.72" cy="1478.51" r="3.35" fill="#fff" stroke="#000000" stroke-width="1.15"/>
<circle cx="618.59" cy="1390.48" r="3.35" fill="#fff" stroke="#000000" stroke-width="1.15"/>
<circle cx="621.25" cy="1412.18" r="3.35" fill="#fff" stroke="#000000" stroke-width="1.15"/>
<circle cx="624.93" cy="1470.32" r="3.35" fill="#fff" stroke="#000000" stroke-width="1.15"/>
<circle cx="626.37" cy="1435.11" r="3.35" fill="#fff" stroke="#000000" stroke-width="1.15"/>
<circle cx="634.15" cy="1456.6" r="3.35" fill="#fff" stroke="#000000" stroke-width="1.15"/>
<circle cx="634.15" cy="1482.6" r="3.35" fill="#fff" stroke="#000000" stroke-width="1.15"/>
<circle cx="644.38" cy="1474" r="3.35" fill="#fff" stroke="#000000" stroke-width="1.15"/>
<circle cx="649.5" cy="1480.76" r="3.35" fill="#fff" stroke="#000000" stroke-width="1.15"/>
<circle cx="655.64" cy="1405.02" r="3.35" fill="#fff" stroke="#000000" stroke-width="1.15"/>
<circle cx="659.32" cy="1426.92" r="3.35" fill="#fff" stroke="#000000" stroke-width="1.15"/>
<circle cx="665.88" cy="1448.82" r="3.35" fill="#fff" stroke="#000000" stroke-width="1.15"/>
<circle cx="674.06" cy="1468.27" r="3.35" fill="#fff" stroke="#000000" stroke-width="1.15"/>
<circle cx="675.91" cy="1487.31" r="3.35" fill="#fff" stroke="#000000" stroke-width="1.15"/>
<circle cx="685.32" cy="1482.19" r="3.35" fill="#fff" stroke="#000000" stroke-width="1.15"/>
<circle cx="691.46" cy="1485.67" r="3.35" fill="#fff" stroke="#000000" stroke-width="1.15"/>
<circle cx="691.05" cy="1398.26" r="3.35" fill="#fff" stroke="#000000" stroke-width="1.15"/>
<circle cx="693.51" cy="1418.32" r="3.35" fill="#fff" stroke="#000000" stroke-width="1.15"/>
<circle cx="698.42" cy="1440.23" r="3.35" fill="#fff" stroke="#000000" stroke-width="1.15"/>
<circle cx="705.59" cy="1460.7" r="3.35" fill="#fff" stroke="#000000" stroke-width="1.15"/>
<circle cx="714.8" cy="1478.1" r="3.35" fill="#fff" stroke="#000000" stroke-width="1.15"/>
<circle cx="717.46" cy="1492.84" r="3.35" fill="#fff" stroke="#000000" stroke-width="1.15"/>
<circle cx="726.26" cy="1490.38" r="3.35" fill="#fff" stroke="#000000" stroke-width="1.15"/>
<circle cx="728.31" cy="1411.16" r="3.35" fill="#fff" stroke="#000000" stroke-width="1.15"/>
<circle cx="731.79" cy="1431.01" r="3.35" fill="#fff" stroke="#000000" stroke-width="1.15"/>
<circle cx="737.52" cy="1451.89" r="3.35" fill="#fff" stroke="#000000" stroke-width="1.15"/>
<circle cx="745.3" cy="1470.93" r="3.35" fill="#fff" stroke="#000000" stroke-width="1.15"/>
<circle cx="755.33" cy="1486.28" r="3.35" fill="#fff" stroke="#000000" stroke-width="1.15"/>
<circle cx="758.81" cy="1497.95" r="3.35" fill="#fff" stroke="#000000" stroke-width="1.15"/>
<circle cx="767.62" cy="1496.52" r="3.35" fill="#fff" stroke="#000000" stroke-width="1.15"/>
<circle cx="763.93" cy="1403.99" r="3.35" fill="#fff" stroke="#000000" stroke-width="1.15"/>
<circle cx="766.59" cy="1422.82" r="3.35" fill="#fff" stroke="#000000" stroke-width="1.15"/>
<circle cx="770.69" cy="1442.89" r="3.35" fill="#fff" stroke="#000000" stroke-width="1.15"/>
<circle cx="776.83" cy="1462.13" r="3.35" fill="#fff" stroke="#000000" stroke-width="1.15"/>
<circle cx="785.63" cy="1479.73" r="3.35" fill="#fff" stroke="#000000" stroke-width="1.15"/>
<circle cx="796.27" cy="1493.45" r="3.35" fill="#fff" stroke="#000000" stroke-width="1.15"/>
<circle cx="808.56" cy="1497.95" r="3.35" fill="#fff" stroke="#000000" stroke-width="1.15"/>
<circle cx="801.39" cy="1416.07" r="3.35" fill="#fff" stroke="#000000" stroke-width="1.15"/>
<circle cx="804.87" cy="1434.49" r="3.35" fill="#fff" stroke="#000000" stroke-width="1.15"/>
<circle cx="809.58" cy="1453.12" r="3.35" fill="#fff" stroke="#000000" stroke-width="1.15"/>
<circle cx="817.15" cy="1471.55" r="3.35" fill="#fff" stroke="#000000" stroke-width="1.15"/>
<circle cx="825.96" cy="1487.72" r="3.35" fill="#fff" stroke="#000000" stroke-width="1.15"/>
<circle cx="826.98" cy="1500" r="3.35" fill="#fff" stroke="#000000" stroke-width="1.15"/>
<circle cx="836.81" cy="1499.59" r="3.35" fill="#fff" stroke="#000000" stroke-width="1.15"/>
<circle cx="836.81" cy="1411.16" r="3.35" fill="#fff" stroke="#000000" stroke-width="1.15"/>
<circle cx="838.85" cy="1427.33" r="3.35" fill="#fff" stroke="#000000" stroke-width="1.15"/>
<circle cx="842.74" cy="1444.32" r="3.35" fill="#fff" stroke="#000000" stroke-width="1.15"/>
<circle cx="849.09" cy="1462.74" r="3.35" fill="#fff" stroke="#000000" stroke-width="1.15"/>
<circle cx="857.07" cy="1479.73" r="3.35" fill="#fff" stroke="#000000" stroke-width="1.15"/>
<circle cx="866.28" cy="1494.06" r="3.35" fill="#fff" stroke="#000000" stroke-width="1.15"/>
<circle cx="877.75" cy="1500.2" r="3.35" fill="#fff" stroke="#000000" stroke-width="1.15"/>
<circle cx="874.68" cy="1421.8" r="3.35" fill="#fff" stroke="#000000" stroke-width="1.15"/>
<circle cx="877.13" cy="1437.77" r="3.35" fill="#fff" stroke="#000000" stroke-width="1.15"/>
<circle cx="881.23" cy="1454.96" r="3.35" fill="#fff" stroke="#000000" stroke-width="1.15"/>
</g>
<path d="M98.4,957.3H881 M93.9,1536H881 M105.4,957.3V1547 M881,957.3V1547" fill="none" stroke="#000" stroke-width="3.1" stroke-linecap="round"/>
<g font-family="'Liberation Sans', Arial, Helvetica, sans-serif" fill="#000"><text x="86" y="1542" text-anchor="end" font-size="22.3">0.00</text><text x="86" y="1464.84" text-anchor="end" font-size="22.3">0.02</text><text x="86" y="1387.68" text-anchor="end" font-size="22.3">0.04</text><text x="86" y="1310.52" text-anchor="end" font-size="22.3">0.06</text><text x="86" y="1233.36" text-anchor="end" font-size="22.3">0.08</text><text x="86" y="1156.2" text-anchor="end" font-size="22.3">0.10</text><text x="86" y="1079.04" text-anchor="end" font-size="22.3">0.12</text><text x="86" y="1001.88" text-anchor="end" font-size="22.3">0.14</text><text x="105.4" y="1571.7" text-anchor="middle" font-size="22.5">0.5</text><text x="260.52" y="1571.7" text-anchor="middle" font-size="22.5">1.0</text><text x="415.64" y="1571.7" text-anchor="middle" font-size="22.5">1.5</text><text x="570.76" y="1571.7" text-anchor="middle" font-size="22.5">2.0</text><text x="725.88" y="1571.7" text-anchor="middle" font-size="22.5">2.5</text><text x="881" y="1571.7" text-anchor="middle" font-size="22.5">3.0</text></g>
<text font-family="'Liberation Sans', Arial, Helvetica, sans-serif" x="492.9" y="1621.3" text-anchor="middle" font-size="33">Tube Diameter (nm)</text>
<text font-family="'Liberation Sans', Arial, Helvetica, sans-serif" transform="translate(23.8,1264.3) rotate(-90)" text-anchor="middle" font-size="33.3">Critical Buckling Strain</text>
<text font-family="'Liberation Sans', Arial, Helvetica, sans-serif" x="459.53" y="920.9" font-size="60" textLength="60.94" lengthAdjust="spacingAndGlyphs">5a</text>
<rect x="492.1" y="995.5" width="293.4" height="161.2" fill="#fff" stroke="#111" stroke-width="1.4"/>
<path d="M497.6,1018.9H558.8" stroke="#000" stroke-width="3" stroke-linecap="round"/>
<path d="M497.6,1059.4H558.8" stroke="#000" stroke-width="3" stroke-linecap="round"/>
<path d="M497.6,1099.4H558.8" stroke="#000" stroke-width="3" stroke-linecap="round"/>
<path d="M527.7,1011.75 L529.56,1016.74 L534.88,1016.97 L530.72,1020.28 L532.14,1025.41 L527.7,1022.47 L523.26,1025.41 L524.68,1020.28 L520.52,1016.97 L525.84,1016.74Z" fill="#000"/><path d="M528.1,1014.14 L529.39,1017.13 L532.62,1017.43 L530.18,1019.58 L530.9,1022.75 L528.1,1021.09 L525.3,1022.75 L526.02,1019.58 L523.58,1017.43 L526.81,1017.13Z" fill="#ff0000"/>
<path d="M527.7,1052.25 L529.56,1057.24 L534.88,1057.47 L530.72,1060.78 L532.14,1065.91 L527.7,1062.97 L523.26,1065.91 L524.68,1060.78 L520.52,1057.47 L525.84,1057.24Z" fill="#000"/><path d="M528.1,1054.64 L529.39,1057.63 L532.62,1057.93 L530.18,1060.08 L530.9,1063.25 L528.1,1061.59 L525.3,1063.25 L526.02,1060.08 L523.58,1057.93 L526.81,1057.63Z" fill="#0000ff"/>
<rect x="522.4" y="1093.8" width="11.2" height="11.2" fill="#000"/>
<circle cx="528" cy="1140.4" r="3.55" fill="#fff" stroke="#000000" stroke-width="1.15"/>
<text font-family="'Liberation Sans', Arial, Helvetica, sans-serif" x="565.52" y="1029.2" font-size="32.8">Zigzag (n,0)</text>
<text font-family="'Liberation Sans', Arial, Helvetica, sans-serif" x="574.6" y="1069.2" font-size="32.8">Armchair (n,n)</text>
<text font-family="'Liberation Sans', Arial, Helvetica, sans-serif" x="564.93" y="1108.8" font-size="32.8">(n.n/2)</text>
<text font-family="'Liberation Sans', Arial, Helvetica, sans-serif" x="565.76" y="1149.8" font-size="32.8">Chiral (n,m)</text>
</g>
<g id="p8a">
<clipPath id="clip8a"><rect x="1130" y="967.3" width="857" height="642.7"/></clipPath>
<path d="M1215.7,1610V1616 M1215.7,967.3V973.8 M1301.4,1610V1621 M1301.4,967.3V978.8 M1387.1,1610V1616 M1387.1,967.3V973.8 M1472.8,1610V1621 M1472.8,967.3V978.8 M1558.5,1610V1616 M1558.5,967.3V973.8 M1644.2,1610V1621 M1644.2,967.3V978.8 M1729.9,1610V1616 M1729.9,967.3V973.8 M1815.6,1610V1621 M1815.6,967.3V978.8 M1901.3,1610V1616 M1901.3,967.3V973.8 M1123.5,1567.15H1130 M1981.4,1567.15H1987 M1118.5,1524.31H1130 M1976.2,1524.31H1987 M1123.5,1481.46H1130 M1981.4,1481.46H1987 M1118.5,1438.61H1130 M1976.2,1438.61H1987 M1123.5,1395.77H1130 M1981.4,1395.77H1987 M1118.5,1352.92H1130 M1976.2,1352.92H1987 M1123.5,1310.07H1130 M1981.4,1310.07H1987 M1118.5,1267.23H1130 M1976.2,1267.23H1987 M1123.5,1224.38H1130 M1981.4,1224.38H1987 M1118.5,1181.53H1130 M1976.2,1181.53H1987 M1123.5,1138.69H1130 M1981.4,1138.69H1987 M1118.5,1095.84H1130 M1976.2,1095.84H1987 M1123.5,1052.99H1130 M1981.4,1052.99H1987 M1118.5,1010.15H1130 M1976.2,1010.15H1987" fill="none" stroke="#000" stroke-width="3.1" stroke-linecap="round"/>
<g clip-path="url(#clip8a)">
<path d="M1119.66,998.67 C1119.66,998.67 1119.66,998.67 1124.13,1015.8 C1128.6,1032.92 1137.55,1067.18 1146.5,1094.33 C1155.45,1121.49 1164.39,1141.55 1173.34,1158.83 C1182.29,1176.11 1191.24,1190.61 1200.18,1203.91 C1209.13,1217.22 1218.08,1229.33 1227.03,1239.76 C1235.97,1250.19 1244.92,1258.93 1253.87,1267.43 C1262.82,1275.94 1271.76,1284.22 1280.71,1291.61 C1289.66,1299 1298.61,1305.51 1307.55,1311.37 C1316.5,1317.23 1325.45,1322.44 1334.4,1327.26 C1343.35,1332.07 1352.29,1336.5 1361.24,1340.97 C1370.19,1345.44 1379.14,1349.97 1388.08,1354.2 C1397.03,1358.44 1405.98,1362.39 1414.93,1365.87 C1423.87,1369.35 1432.82,1372.35 1441.77,1375.21 C1450.72,1378.06 1459.66,1380.77 1468.61,1383.22 C1477.56,1385.68 1486.51,1387.87 1495.45,1390.14 C1504.4,1392.41 1513.35,1394.76 1522.3,1397.06 C1531.24,1399.35 1540.19,1401.61 1549.14,1403.85 C1558.09,1406.09 1567.03,1408.32 1575.98,1410.3 C1584.93,1412.27 1593.88,1414 1602.82,1415.61 C1611.77,1417.22 1620.72,1418.71 1629.67,1420.29 C1638.61,1421.86 1647.56,1423.51 1656.51,1424.89 C1665.46,1426.28 1674.41,1427.4 1683.35,1428.45 C1692.3,1429.5 1701.25,1430.47 1710.2,1431.52 C1719.14,1432.57 1728.09,1433.69 1737.04,1434.7 C1745.99,1435.71 1754.93,1436.61 1763.88,1437.62 C1772.83,1438.63 1781.78,1439.76 1790.72,1440.88 C1799.67,1442 1808.62,1443.13 1817.57,1444.18 C1826.51,1445.22 1835.46,1446.2 1844.41,1447.21 C1853.36,1448.22 1862.3,1449.27 1871.25,1450.2 C1880.2,1451.14 1889.15,1451.96 1898.09,1452.83 C1907.04,1453.69 1915.99,1454.59 1924.94,1455.33 C1933.88,1456.08 1942.83,1456.68 1951.78,1457.32 C1960.73,1457.96 1969.67,1458.63 1978.62,1459.27 C1987.57,1459.91 1996.52,1460.52 2005.46,1461.09 C2014.41,1461.66 2023.36,1462.2 2027.83,1462.47 C2032.31,1462.74 2032.31,1462.74 2032.31,1462.74" fill="none" stroke="#000" stroke-width="3" stroke-linejoin="round"/>
<path d="M1146.2,1093.83 L1148.17,1099.11 L1153.81,1099.36 L1149.39,1102.87 L1150.9,1108.3 L1146.2,1105.19 L1141.5,1108.3 L1143,1102.87 L1138.59,1099.36 L1144.22,1099.11Z" fill="#000"/><path d="M1146.6,1096.39 L1147.96,1099.55 L1151.39,1099.87 L1148.8,1102.15 L1149.56,1105.51 L1146.6,1103.75 L1143.64,1105.51 L1144.39,1102.15 L1141.81,1099.87 L1145.24,1099.55Z" fill="#ff0000"/>
<path d="M1173.04,1154.01 L1175.02,1159.29 L1180.65,1159.54 L1176.24,1163.05 L1177.74,1168.48 L1173.04,1165.37 L1168.34,1168.48 L1169.85,1163.05 L1165.43,1159.54 L1171.07,1159.29Z" fill="#000"/><path d="M1173.44,1156.57 L1174.8,1159.73 L1178.23,1160.05 L1175.65,1162.33 L1176.4,1165.69 L1173.44,1163.93 L1170.48,1165.69 L1171.24,1162.33 L1168.65,1160.05 L1172.08,1159.73Z" fill="#ff0000"/>
<path d="M1199.88,1197.5 L1201.86,1202.79 L1207.49,1203.03 L1203.08,1206.54 L1204.59,1211.98 L1199.88,1208.86 L1195.18,1211.98 L1196.69,1206.54 L1192.28,1203.03 L1197.91,1202.79Z" fill="#000"/><path d="M1200.28,1200.06 L1201.65,1203.23 L1205.08,1203.55 L1202.49,1205.82 L1203.25,1209.18 L1200.28,1207.42 L1197.32,1209.18 L1198.08,1205.82 L1195.49,1203.55 L1198.92,1203.23Z" fill="#ff0000"/>
<path d="M1226.73,1233.85 L1228.7,1239.13 L1234.34,1239.38 L1229.92,1242.89 L1231.43,1248.32 L1226.73,1245.21 L1222.02,1248.32 L1223.53,1242.89 L1219.12,1239.38 L1224.75,1239.13Z" fill="#000"/><path d="M1227.13,1236.41 L1228.49,1239.57 L1231.92,1239.89 L1229.33,1242.17 L1230.09,1245.53 L1227.13,1243.77 L1224.16,1245.53 L1224.92,1242.17 L1222.33,1239.89 L1225.76,1239.57Z" fill="#ff0000"/>
<path d="M1253.57,1260.07 L1255.54,1265.35 L1261.18,1265.59 L1256.77,1269.1 L1258.27,1274.54 L1253.57,1271.43 L1248.87,1274.54 L1250.37,1269.1 L1245.96,1265.59 L1251.59,1265.35Z" fill="#000"/><path d="M1253.97,1262.63 L1255.33,1265.79 L1258.76,1266.11 L1256.17,1268.38 L1256.93,1271.74 L1253.97,1269.98 L1251.01,1271.74 L1251.76,1268.38 L1249.18,1266.11 L1252.61,1265.79Z" fill="#ff0000"/>
<path d="M1280.41,1284.89 L1282.39,1290.17 L1288.02,1290.42 L1283.61,1293.93 L1285.11,1299.36 L1280.41,1296.25 L1275.71,1299.36 L1277.22,1293.93 L1272.8,1290.42 L1278.44,1290.17Z" fill="#000"/><path d="M1280.81,1287.45 L1282.18,1290.62 L1285.61,1290.94 L1283.02,1293.21 L1283.77,1296.57 L1280.81,1294.81 L1277.85,1296.57 L1278.61,1293.21 L1276.02,1290.94 L1279.45,1290.62Z" fill="#ff0000"/>
<path d="M1307.25,1304.42 L1309.23,1309.7 L1314.86,1309.95 L1310.45,1313.46 L1311.96,1318.89 L1307.25,1315.78 L1302.55,1318.89 L1304.06,1313.46 L1299.65,1309.95 L1305.28,1309.7Z" fill="#000"/><path d="M1307.65,1306.98 L1309.02,1310.14 L1312.45,1310.46 L1309.86,1312.74 L1310.62,1316.1 L1307.65,1314.34 L1304.69,1316.1 L1305.45,1312.74 L1302.86,1310.46 L1306.29,1310.14Z" fill="#ff0000"/>
<path d="M1334.1,1320.05 L1336.07,1325.33 L1341.71,1325.58 L1337.29,1329.09 L1338.8,1334.52 L1334.1,1331.41 L1329.4,1334.52 L1330.9,1329.09 L1326.49,1325.58 L1332.12,1325.33Z" fill="#000"/><path d="M1334.5,1322.61 L1335.86,1325.78 L1339.29,1326.1 L1336.7,1328.37 L1337.46,1331.73 L1334.5,1329.97 L1331.54,1331.73 L1332.29,1328.37 L1329.7,1326.1 L1333.13,1325.78Z" fill="#ff0000"/>
<path d="M1360.94,1333.32 L1362.92,1338.6 L1368.55,1338.85 L1364.14,1342.36 L1365.64,1347.79 L1360.94,1344.68 L1356.24,1347.79 L1357.74,1342.36 L1353.33,1338.85 L1358.97,1338.6Z" fill="#000"/><path d="M1361.34,1335.88 L1362.7,1339.04 L1366.13,1339.36 L1363.55,1341.63 L1364.3,1345 L1361.34,1343.24 L1358.38,1345 L1359.14,1341.63 L1356.55,1339.36 L1359.98,1339.04Z" fill="#ff0000"/>
<path d="M1387.78,1346.89 L1389.76,1352.17 L1395.39,1352.42 L1390.98,1355.93 L1392.49,1361.36 L1387.78,1358.25 L1383.08,1361.36 L1384.59,1355.93 L1380.17,1352.42 L1385.81,1352.17Z" fill="#000"/><path d="M1388.18,1349.45 L1389.55,1352.62 L1392.98,1352.93 L1390.39,1355.21 L1391.15,1358.57 L1388.18,1356.81 L1385.22,1358.57 L1385.98,1355.21 L1383.39,1352.93 L1386.82,1352.62Z" fill="#ff0000"/>
<path d="M1414.63,1358.74 L1416.6,1364.03 L1422.23,1364.27 L1417.82,1367.78 L1419.33,1373.22 L1414.63,1370.1 L1409.92,1373.22 L1411.43,1367.78 L1407.02,1364.27 L1412.65,1364.03Z" fill="#000"/><path d="M1415.03,1361.3 L1416.39,1364.47 L1419.82,1364.79 L1417.23,1367.06 L1417.99,1370.42 L1415.03,1368.66 L1412.06,1370.42 L1412.82,1367.06 L1410.23,1364.79 L1413.66,1364.47Z" fill="#ff0000"/>
<path d="M1441.47,1367.75 L1443.44,1373.03 L1449.08,1373.28 L1444.66,1376.79 L1446.17,1382.22 L1441.47,1379.11 L1436.77,1382.22 L1438.27,1376.79 L1433.86,1373.28 L1439.49,1373.03Z" fill="#000"/><path d="M1441.87,1370.31 L1443.23,1373.48 L1446.66,1373.79 L1444.07,1376.07 L1444.83,1379.43 L1441.87,1377.67 L1438.91,1379.43 L1439.66,1376.07 L1437.08,1373.79 L1440.51,1373.48Z" fill="#ff0000"/>
<path d="M1468.31,1375.88 L1470.29,1381.16 L1475.92,1381.41 L1471.51,1384.92 L1473.01,1390.35 L1468.31,1387.24 L1463.61,1390.35 L1465.12,1384.92 L1460.7,1381.41 L1466.34,1381.16Z" fill="#000"/><path d="M1468.71,1378.44 L1470.07,1381.6 L1473.5,1381.92 L1470.92,1384.2 L1471.67,1387.56 L1468.71,1385.8 L1465.75,1387.56 L1466.51,1384.2 L1463.92,1381.92 L1467.35,1381.6Z" fill="#ff0000"/>
<path d="M1495.15,1382.47 L1497.13,1387.75 L1502.76,1388 L1498.35,1391.51 L1499.86,1396.94 L1495.15,1393.83 L1490.45,1396.94 L1491.96,1391.51 L1487.55,1388 L1493.18,1387.75Z" fill="#000"/><path d="M1495.55,1385.03 L1496.92,1388.19 L1500.35,1388.51 L1497.76,1390.79 L1498.52,1394.15 L1495.55,1392.39 L1492.59,1394.15 L1493.35,1390.79 L1490.76,1388.51 L1494.19,1388.19Z" fill="#ff0000"/>
<path d="M1522,1389.5 L1523.97,1394.78 L1529.6,1395.03 L1525.19,1398.54 L1526.7,1403.97 L1522,1400.86 L1517.29,1403.97 L1518.8,1398.54 L1514.39,1395.03 L1520.02,1394.78Z" fill="#000"/><path d="M1522.4,1392.06 L1523.76,1395.22 L1527.19,1395.54 L1524.6,1397.82 L1525.36,1401.18 L1522.4,1399.42 L1519.43,1401.18 L1520.19,1397.82 L1517.6,1395.54 L1521.03,1395.22Z" fill="#ff0000"/>
<path d="M1548.84,1396.26 L1550.81,1401.54 L1556.45,1401.79 L1552.03,1405.3 L1553.54,1410.73 L1548.84,1407.62 L1544.14,1410.73 L1545.64,1405.3 L1541.23,1401.79 L1546.86,1401.54Z" fill="#000"/><path d="M1549.24,1398.82 L1550.6,1401.98 L1554.03,1402.3 L1551.44,1404.58 L1552.2,1407.94 L1549.24,1406.18 L1546.28,1407.94 L1547.03,1404.58 L1544.45,1402.3 L1547.88,1401.98Z" fill="#ff0000"/>
<path d="M1575.68,1402.95 L1577.66,1408.23 L1583.29,1408.48 L1578.88,1411.99 L1580.38,1417.42 L1575.68,1414.31 L1570.98,1417.42 L1572.49,1411.99 L1568.07,1408.48 L1573.71,1408.23Z" fill="#000"/><path d="M1576.08,1405.51 L1577.44,1408.67 L1580.88,1408.99 L1578.29,1411.27 L1579.04,1414.63 L1576.08,1412.87 L1573.12,1414.63 L1573.88,1411.27 L1571.29,1408.99 L1574.72,1408.67Z" fill="#ff0000"/>
<path d="M1602.52,1408.12 L1604.5,1413.4 L1610.13,1413.65 L1605.72,1417.16 L1607.23,1422.59 L1602.52,1419.48 L1597.82,1422.59 L1599.33,1417.16 L1594.92,1413.65 L1600.55,1413.4Z" fill="#000"/><path d="M1602.92,1410.68 L1604.29,1413.84 L1607.72,1414.16 L1605.13,1416.43 L1605.89,1419.8 L1602.92,1418.04 L1599.96,1419.8 L1600.72,1416.43 L1598.13,1414.16 L1601.56,1413.84Z" fill="#ff0000"/>
<path d="M1629.37,1412.61 L1631.34,1417.89 L1636.98,1418.14 L1632.56,1421.65 L1634.07,1427.08 L1629.37,1423.97 L1624.66,1427.08 L1626.17,1421.65 L1621.76,1418.14 L1627.39,1417.89Z" fill="#000"/><path d="M1629.77,1415.17 L1631.13,1418.34 L1634.56,1418.65 L1631.97,1420.93 L1632.73,1424.29 L1629.77,1422.53 L1626.8,1424.29 L1627.56,1420.93 L1624.97,1418.65 L1628.4,1418.34Z" fill="#ff0000"/>
<path d="M1656.21,1417.55 L1658.18,1422.84 L1663.82,1423.08 L1659.41,1426.59 L1660.91,1432.03 L1656.21,1428.91 L1651.51,1432.03 L1653.01,1426.59 L1648.6,1423.08 L1654.24,1422.84Z" fill="#000"/><path d="M1656.61,1420.11 L1657.97,1423.28 L1661.4,1423.6 L1658.81,1425.87 L1659.57,1429.23 L1656.61,1427.47 L1653.65,1429.23 L1654.41,1425.87 L1651.82,1423.6 L1655.25,1423.28Z" fill="#ff0000"/>
<path d="M1683.05,1420.92 L1685.03,1426.21 L1690.66,1426.45 L1686.25,1429.96 L1687.75,1435.4 L1683.05,1432.28 L1678.35,1435.4 L1679.86,1429.96 L1675.44,1426.45 L1681.08,1426.21Z" fill="#000"/><path d="M1683.45,1423.48 L1684.82,1426.65 L1688.25,1426.97 L1685.66,1429.24 L1686.42,1432.6 L1683.45,1430.84 L1680.49,1432.6 L1681.25,1429.24 L1678.66,1426.97 L1682.09,1426.65Z" fill="#ff0000"/>
<path d="M1709.9,1423.84 L1711.87,1429.13 L1717.5,1429.37 L1713.09,1432.88 L1714.6,1438.32 L1709.9,1435.2 L1705.19,1438.32 L1706.7,1432.88 L1702.29,1429.37 L1707.92,1429.13Z" fill="#000"/><path d="M1710.3,1426.4 L1711.66,1429.57 L1715.09,1429.89 L1712.5,1432.16 L1713.26,1435.52 L1710.3,1433.76 L1707.33,1435.52 L1708.09,1432.16 L1705.5,1429.89 L1708.93,1429.57Z" fill="#ff0000"/>
<path d="M1736.74,1427.21 L1738.71,1432.5 L1744.35,1432.74 L1739.93,1436.25 L1741.44,1441.69 L1736.74,1438.57 L1732.04,1441.69 L1733.54,1436.25 L1729.13,1432.74 L1734.76,1432.5Z" fill="#000"/><path d="M1737.14,1429.77 L1738.5,1432.94 L1741.93,1433.26 L1739.34,1435.53 L1740.1,1438.89 L1737.14,1437.13 L1734.18,1438.89 L1734.93,1435.53 L1732.34,1433.26 L1735.78,1432.94Z" fill="#ff0000"/>
<path d="M1763.58,1429.91 L1765.56,1435.19 L1771.19,1435.44 L1766.78,1438.95 L1768.28,1444.38 L1763.58,1441.27 L1758.88,1444.38 L1760.39,1438.95 L1755.97,1435.44 L1761.61,1435.19Z" fill="#000"/><path d="M1763.98,1432.47 L1765.34,1435.64 L1768.77,1435.95 L1766.19,1438.23 L1766.94,1441.59 L1763.98,1439.83 L1761.02,1441.59 L1761.78,1438.23 L1759.19,1435.95 L1762.62,1435.64Z" fill="#ff0000"/>
<path d="M1790.42,1433.28 L1792.4,1438.56 L1798.03,1438.81 L1793.62,1442.32 L1795.13,1447.75 L1790.42,1444.64 L1785.72,1447.75 L1787.23,1442.32 L1782.81,1438.81 L1788.45,1438.56Z" fill="#000"/><path d="M1790.82,1435.84 L1792.19,1439.01 L1795.62,1439.32 L1793.03,1441.6 L1793.79,1444.96 L1790.82,1443.2 L1787.86,1444.96 L1788.62,1441.6 L1786.03,1439.32 L1789.46,1439.01Z" fill="#ff0000"/>
<path d="M1817.27,1436.65 L1819.24,1441.93 L1824.87,1442.18 L1820.46,1445.69 L1821.97,1451.12 L1817.27,1448.01 L1812.56,1451.12 L1814.07,1445.69 L1809.66,1442.18 L1815.29,1441.93Z" fill="#000"/><path d="M1817.67,1439.21 L1819.03,1442.38 L1822.46,1442.69 L1819.87,1444.97 L1820.63,1448.33 L1817.67,1446.57 L1814.7,1448.33 L1815.46,1444.97 L1812.87,1442.69 L1816.3,1442.38Z" fill="#ff0000"/>
<path d="M1844.11,1439.57 L1846.08,1444.85 L1851.72,1445.1 L1847.3,1448.61 L1848.81,1454.04 L1844.11,1450.93 L1839.41,1454.04 L1840.91,1448.61 L1836.5,1445.1 L1842.13,1444.85Z" fill="#000"/><path d="M1844.51,1442.13 L1845.87,1445.3 L1849.3,1445.61 L1846.71,1447.89 L1847.47,1451.25 L1844.51,1449.49 L1841.55,1451.25 L1842.3,1447.89 L1839.72,1445.61 L1843.15,1445.3Z" fill="#ff0000"/>
<path d="M1870.95,1442.72 L1872.93,1448 L1878.56,1448.24 L1874.15,1451.76 L1875.65,1457.19 L1870.95,1454.08 L1866.25,1457.19 L1867.76,1451.76 L1863.34,1448.24 L1868.98,1448Z" fill="#000"/><path d="M1871.35,1445.28 L1872.71,1448.44 L1876.14,1448.76 L1873.56,1451.03 L1874.31,1454.39 L1871.35,1452.64 L1868.39,1454.39 L1869.15,1451.03 L1866.56,1448.76 L1869.99,1448.44Z" fill="#ff0000"/>
<path d="M1897.79,1445.19 L1899.77,1450.47 L1905.4,1450.72 L1900.99,1454.23 L1902.5,1459.66 L1897.79,1456.55 L1893.09,1459.66 L1894.6,1454.23 L1890.19,1450.72 L1895.82,1450.47Z" fill="#000"/><path d="M1898.19,1447.75 L1899.56,1450.91 L1902.99,1451.23 L1900.4,1453.5 L1901.16,1456.87 L1898.19,1455.11 L1895.23,1456.87 L1895.99,1453.5 L1893.4,1451.23 L1896.83,1450.91Z" fill="#ff0000"/>
<path d="M1924.64,1447.88 L1926.61,1453.17 L1932.25,1453.41 L1927.83,1456.92 L1929.34,1462.36 L1924.64,1459.24 L1919.93,1462.36 L1921.44,1456.92 L1917.03,1453.41 L1922.66,1453.17Z" fill="#000"/><path d="M1925.04,1450.44 L1926.4,1453.61 L1929.83,1453.93 L1927.24,1456.2 L1928,1459.56 L1925.04,1457.8 L1922.07,1459.56 L1922.83,1456.2 L1920.24,1453.93 L1923.67,1453.61Z" fill="#ff0000"/>
<path d="M1951.48,1449.68 L1953.45,1454.96 L1959.09,1455.21 L1954.68,1458.72 L1956.18,1464.15 L1951.48,1461.04 L1946.78,1464.15 L1948.28,1458.72 L1943.87,1455.21 L1949.5,1454.96Z" fill="#000"/><path d="M1951.88,1452.24 L1953.24,1455.41 L1956.67,1455.72 L1954.08,1458 L1954.84,1461.36 L1951.88,1459.6 L1948.92,1461.36 L1949.67,1458 L1947.09,1455.72 L1950.52,1455.41Z" fill="#ff0000"/>
<path d="M1978.32,1451.7 L1980.3,1456.99 L1985.93,1457.23 L1981.52,1460.74 L1983.02,1466.18 L1978.32,1463.06 L1973.62,1466.18 L1975.13,1460.74 L1970.71,1457.23 L1976.35,1456.99Z" fill="#000"/><path d="M1978.72,1454.26 L1980.08,1457.43 L1983.52,1457.75 L1980.93,1460.02 L1981.68,1463.38 L1978.72,1461.62 L1975.76,1463.38 L1976.52,1460.02 L1973.93,1457.75 L1977.36,1457.43Z" fill="#ff0000"/>
<path d="M1098.08,903.89 C1098.08,903.89 1098.08,903.89 1105.83,936.39 C1113.58,968.88 1129.07,1033.86 1144.57,1086.08 C1160.07,1138.31 1175.57,1177.76 1191.06,1209.57 C1206.56,1241.38 1222.06,1265.55 1237.56,1286.58 C1253.06,1307.61 1268.55,1325.52 1284.05,1341.03 C1299.55,1356.55 1315.05,1369.69 1330.54,1381.42 C1346.04,1393.15 1361.54,1403.47 1377.04,1412.66 C1392.53,1421.85 1408.03,1429.91 1423.53,1434.45 C1439.03,1438.99 1454.52,1440.01 1470.02,1444.73 C1485.52,1449.46 1501.02,1457.88 1516.51,1465.33 C1532.01,1472.77 1547.51,1479.25 1563.01,1484.86 C1578.51,1490.47 1594,1495.22 1609.5,1499.73 C1625,1504.24 1640.5,1508.51 1655.99,1512.21 C1671.49,1515.92 1686.99,1519.07 1702.49,1522.06 C1717.98,1525.06 1733.48,1527.9 1748.98,1530.56 C1764.48,1533.22 1779.97,1535.69 1795.47,1538.01 C1810.97,1540.33 1826.47,1542.51 1841.97,1544.38 C1857.46,1546.25 1872.96,1547.82 1888.46,1549.43 C1903.96,1551.04 1919.45,1552.69 1934.95,1554.45 C1950.45,1556.21 1965.95,1558.08 1981.44,1559.86 C1996.94,1561.64 2012.44,1563.33 2027.94,1564.92 C2043.43,1566.51 2058.93,1568.01 2066.68,1568.75 C2074.43,1569.5 2074.43,1569.5 2074.43,1569.5" fill="none" stroke="#000" stroke-width="3" stroke-linejoin="round"/>
<path d="M1144.27,1091.25 L1146.25,1096.53 L1151.88,1096.78 L1147.47,1100.29 L1148.97,1105.72 L1144.27,1102.61 L1139.57,1105.72 L1141.08,1100.29 L1136.66,1096.78 L1142.3,1096.53Z" fill="#000"/><path d="M1144.67,1093.81 L1146.03,1096.97 L1149.46,1097.29 L1146.88,1099.56 L1147.63,1102.93 L1144.67,1101.17 L1141.71,1102.93 L1142.47,1099.56 L1139.88,1097.29 L1143.31,1096.97Z" fill="#0000ff"/>
<path d="M1190.76,1209.62 L1192.74,1214.9 L1198.37,1215.15 L1193.96,1218.66 L1195.47,1224.09 L1190.76,1220.98 L1186.06,1224.09 L1187.57,1218.66 L1183.16,1215.15 L1188.79,1214.9Z" fill="#000"/><path d="M1191.16,1212.18 L1192.53,1215.34 L1195.96,1215.66 L1193.37,1217.94 L1194.13,1221.3 L1191.16,1219.54 L1188.2,1221.3 L1188.96,1217.94 L1186.37,1215.66 L1189.8,1215.34Z" fill="#0000ff"/>
<path d="M1237.26,1282.11 L1239.23,1287.39 L1244.87,1287.64 L1240.45,1291.15 L1241.96,1296.58 L1237.26,1293.47 L1232.56,1296.58 L1234.06,1291.15 L1229.65,1287.64 L1235.28,1287.39Z" fill="#000"/><path d="M1237.66,1284.67 L1239.02,1287.84 L1242.45,1288.15 L1239.86,1290.43 L1240.62,1293.79 L1237.66,1292.03 L1234.69,1293.79 L1235.45,1290.43 L1232.86,1288.15 L1236.29,1287.84Z" fill="#0000ff"/>
<path d="M1283.75,1335.82 L1285.73,1341.1 L1291.36,1341.34 L1286.95,1344.86 L1288.45,1350.29 L1283.75,1347.18 L1279.05,1350.29 L1280.55,1344.86 L1276.14,1341.34 L1281.78,1341.1Z" fill="#000"/><path d="M1284.15,1338.38 L1285.51,1341.54 L1288.94,1341.86 L1286.36,1344.13 L1287.11,1347.49 L1284.15,1345.74 L1281.19,1347.49 L1281.95,1344.13 L1279.36,1341.86 L1282.79,1341.54Z" fill="#0000ff"/>
<path d="M1330.24,1375.22 L1332.22,1380.5 L1337.85,1380.75 L1333.44,1384.26 L1334.95,1389.69 L1330.24,1386.58 L1325.54,1389.69 L1327.05,1384.26 L1322.63,1380.75 L1328.27,1380.5Z" fill="#000"/><path d="M1330.64,1377.78 L1332.01,1380.95 L1335.44,1381.26 L1332.85,1383.54 L1333.61,1386.9 L1330.64,1385.14 L1327.68,1386.9 L1328.44,1383.54 L1325.85,1381.26 L1329.28,1380.95Z" fill="#0000ff"/>
<path d="M1376.74,1406.2 L1378.71,1411.48 L1384.34,1411.72 L1379.93,1415.23 L1381.44,1420.67 L1376.74,1417.56 L1372.03,1420.67 L1373.54,1415.23 L1369.13,1411.72 L1374.76,1411.48Z" fill="#000"/><path d="M1377.14,1408.76 L1378.5,1411.92 L1381.93,1412.24 L1379.34,1414.51 L1380.1,1417.87 L1377.14,1416.11 L1374.17,1417.87 L1374.93,1414.51 L1372.34,1412.24 L1375.77,1411.92Z" fill="#0000ff"/>
<path d="M1423.23,1430.36 L1425.2,1435.64 L1430.84,1435.89 L1426.42,1439.4 L1427.93,1444.83 L1423.23,1441.72 L1418.53,1444.83 L1420.03,1439.4 L1415.62,1435.89 L1421.25,1435.64Z" fill="#000"/><path d="M1423.63,1432.92 L1424.99,1436.09 L1428.42,1436.4 L1425.83,1438.68 L1426.59,1442.04 L1423.63,1440.28 L1420.67,1442.04 L1421.42,1438.68 L1418.84,1436.4 L1422.27,1436.09Z" fill="#0000ff"/>
<path d="M1469.72,1433.44 L1471.7,1438.72 L1477.33,1438.96 L1472.92,1442.48 L1474.42,1447.91 L1469.72,1444.8 L1465.02,1447.91 L1466.53,1442.48 L1462.11,1438.96 L1467.75,1438.72Z" fill="#000"/><path d="M1470.12,1436 L1471.48,1439.16 L1474.92,1439.48 L1472.33,1441.75 L1473.08,1445.11 L1470.12,1443.36 L1467.16,1445.11 L1467.92,1441.75 L1465.33,1439.48 L1468.76,1439.16Z" fill="#0000ff"/>
<path d="M1516.21,1458.7 L1518.19,1463.98 L1523.82,1464.23 L1519.41,1467.74 L1520.92,1473.17 L1516.21,1470.06 L1511.51,1473.17 L1513.02,1467.74 L1508.61,1464.23 L1514.24,1463.98Z" fill="#000"/><path d="M1516.61,1461.26 L1517.98,1464.42 L1521.41,1464.74 L1518.82,1467.02 L1519.58,1470.38 L1516.61,1468.62 L1513.65,1470.38 L1514.41,1467.02 L1511.82,1464.74 L1515.25,1464.42Z" fill="#0000ff"/>
<path d="M1562.71,1478.12 L1564.68,1483.41 L1570.32,1483.65 L1565.9,1487.16 L1567.41,1492.6 L1562.71,1489.48 L1558.01,1492.6 L1559.51,1487.16 L1555.1,1483.65 L1560.73,1483.41Z" fill="#000"/><path d="M1563.11,1480.68 L1564.47,1483.85 L1567.9,1484.17 L1565.31,1486.44 L1566.07,1489.8 L1563.11,1488.04 L1560.15,1489.8 L1560.9,1486.44 L1558.31,1484.17 L1561.75,1483.85Z" fill="#0000ff"/>
<path d="M1609.2,1492.37 L1611.18,1497.65 L1616.81,1497.9 L1612.4,1501.41 L1613.9,1506.84 L1609.2,1503.73 L1604.5,1506.84 L1606.01,1501.41 L1601.59,1497.9 L1607.23,1497.65Z" fill="#000"/><path d="M1609.6,1494.93 L1610.96,1498.09 L1614.39,1498.41 L1611.81,1500.68 L1612.56,1504.05 L1609.6,1502.29 L1606.64,1504.05 L1607.4,1500.68 L1604.81,1498.41 L1608.24,1498.09Z" fill="#0000ff"/>
<path d="M1655.69,1505.17 L1657.67,1510.46 L1663.3,1510.7 L1658.89,1514.21 L1660.4,1519.65 L1655.69,1516.53 L1650.99,1519.65 L1652.5,1514.21 L1648.09,1510.7 L1653.72,1510.46Z" fill="#000"/><path d="M1656.09,1507.73 L1657.46,1510.9 L1660.89,1511.22 L1658.3,1513.49 L1659.06,1516.85 L1656.09,1515.09 L1653.13,1516.85 L1653.89,1513.49 L1651.3,1511.22 L1654.73,1510.9Z" fill="#0000ff"/>
<path d="M1702.19,1514.61 L1704.16,1519.89 L1709.79,1520.14 L1705.38,1523.65 L1706.89,1529.08 L1702.19,1525.97 L1697.48,1529.08 L1698.99,1523.65 L1694.58,1520.14 L1700.21,1519.89Z" fill="#000"/><path d="M1702.59,1517.17 L1703.95,1520.34 L1707.38,1520.65 L1704.79,1522.93 L1705.55,1526.29 L1702.59,1524.53 L1699.62,1526.29 L1700.38,1522.93 L1697.79,1520.65 L1701.22,1520.34Z" fill="#0000ff"/>
<path d="M1748.68,1523.15 L1750.65,1528.43 L1756.29,1528.68 L1751.87,1532.19 L1753.38,1537.62 L1748.68,1534.51 L1743.98,1537.62 L1745.48,1532.19 L1741.07,1528.68 L1746.7,1528.43Z" fill="#000"/><path d="M1749.08,1525.71 L1750.44,1528.87 L1753.87,1529.19 L1751.28,1531.46 L1752.04,1534.83 L1749.08,1533.07 L1746.12,1534.83 L1746.87,1531.46 L1744.29,1529.19 L1747.72,1528.87Z" fill="#0000ff"/>
<path d="M1795.17,1530.56 L1797.15,1535.84 L1802.78,1536.09 L1798.37,1539.6 L1799.87,1545.03 L1795.17,1541.92 L1790.47,1545.03 L1791.98,1539.6 L1787.56,1536.09 L1793.2,1535.84Z" fill="#000"/><path d="M1795.57,1533.12 L1796.93,1536.29 L1800.37,1536.6 L1797.78,1538.88 L1798.53,1542.24 L1795.57,1540.48 L1792.61,1542.24 L1793.37,1538.88 L1790.78,1536.6 L1794.21,1536.29Z" fill="#0000ff"/>
<path d="M1841.67,1537.08 L1843.64,1542.36 L1849.27,1542.61 L1844.86,1546.12 L1846.37,1551.55 L1841.67,1548.44 L1836.96,1551.55 L1838.47,1546.12 L1834.06,1542.61 L1839.69,1542.36Z" fill="#000"/><path d="M1842.07,1539.64 L1843.43,1542.8 L1846.86,1543.12 L1844.27,1545.39 L1845.03,1548.76 L1842.07,1547 L1839.1,1548.76 L1839.86,1545.39 L1837.27,1543.12 L1840.7,1542.8Z" fill="#0000ff"/>
<path d="M1888.16,1541.8 L1890.13,1547.08 L1895.77,1547.32 L1891.35,1550.83 L1892.86,1556.27 L1888.16,1553.16 L1883.46,1556.27 L1884.96,1550.83 L1880.55,1547.32 L1886.18,1547.08Z" fill="#000"/><path d="M1888.56,1544.36 L1889.92,1547.52 L1893.35,1547.84 L1890.76,1550.11 L1891.52,1553.47 L1888.56,1551.71 L1885.6,1553.47 L1886.35,1550.11 L1883.76,1547.84 L1887.2,1547.52Z" fill="#0000ff"/>
<path d="M1934.65,1546.74 L1936.63,1552.02 L1942.26,1552.27 L1937.85,1555.78 L1939.35,1561.21 L1934.65,1558.1 L1929.95,1561.21 L1931.46,1555.78 L1927.04,1552.27 L1932.68,1552.02Z" fill="#000"/><path d="M1935.05,1549.3 L1936.41,1552.46 L1939.84,1552.78 L1937.26,1555.05 L1938.01,1558.42 L1935.05,1556.66 L1932.09,1558.42 L1932.85,1555.05 L1930.26,1552.78 L1933.69,1552.46Z" fill="#0000ff"/>
<path d="M1981.14,1552.36 L1983.12,1557.64 L1988.75,1557.88 L1984.34,1561.39 L1985.85,1566.83 L1981.14,1563.72 L1976.44,1566.83 L1977.95,1561.39 L1973.54,1557.88 L1979.17,1557.64Z" fill="#000"/><path d="M1981.54,1554.92 L1982.91,1558.08 L1986.34,1558.4 L1983.75,1560.67 L1984.51,1564.03 L1981.54,1562.27 L1978.58,1564.03 L1979.34,1560.67 L1976.75,1558.4 L1980.18,1558.08Z" fill="#0000ff"/>
<path d="M1100.64,991.58 C1100.64,991.58 1100.64,991.58 1112.47,1034.65 C1124.31,1077.71 1147.98,1163.85 1171.66,1225 C1195.33,1286.15 1219,1322.31 1242.68,1350.97 C1266.35,1379.63 1290.02,1400.77 1313.7,1418.12 C1337.37,1435.47 1361.04,1449.02 1384.71,1460.74 C1408.39,1472.45 1432.06,1482.34 1455.73,1490.69 C1479.41,1499.03 1503.08,1505.84 1526.75,1512.38 C1550.43,1518.91 1574.1,1525.17 1597.77,1530.24 C1621.44,1535.32 1645.12,1539.21 1668.79,1542.92 C1692.46,1546.62 1716.14,1550.14 1739.81,1553.59 C1763.48,1557.03 1787.16,1560.4 1810.83,1562.76 C1834.5,1565.12 1858.18,1566.47 1881.85,1567.52 C1905.52,1568.57 1929.19,1569.32 1952.87,1570.03 C1976.54,1570.74 2000.21,1571.41 2023.89,1572.05 C2047.56,1572.69 2071.23,1573.29 2083.07,1573.58 C2094.91,1573.88 2094.91,1573.88 2094.91,1573.88" fill="none" stroke="#000" stroke-width="3" stroke-linejoin="round"/>
<rect x="1165.56" y="1243.89" width="12.2" height="12.2" fill="#000"/>
<rect x="1236.58" y="1352.38" width="12.2" height="12.2" fill="#000"/>
<rect x="1307.6" y="1415.82" width="12.2" height="12.2" fill="#000"/>
<rect x="1378.61" y="1456.47" width="12.2" height="12.2" fill="#000"/>
<rect x="1449.63" y="1486.12" width="12.2" height="12.2" fill="#000"/>
<rect x="1520.65" y="1506.55" width="12.2" height="12.2" fill="#000"/>
<rect x="1591.67" y="1525.32" width="12.2" height="12.2" fill="#000"/>
<rect x="1662.69" y="1537" width="12.2" height="12.2" fill="#000"/>
<rect x="1733.71" y="1547.56" width="12.2" height="12.2" fill="#000"/>
<rect x="1804.73" y="1557.67" width="12.2" height="12.2" fill="#000"/>
<rect x="1875.75" y="1561.72" width="12.2" height="12.2" fill="#000"/>
<rect x="1946.77" y="1563.97" width="12.2" height="12.2" fill="#000"/>
<circle cx="1134.33" cy="1092.49" r="3.6" fill="#fff" stroke="#000000" stroke-width="1.15"/>
<circle cx="1168.1" cy="1217.22" r="3.6" fill="#fff" stroke="#000000" stroke-width="1.15"/>
<circle cx="1178.03" cy="1231.52" r="3.6" fill="#fff" stroke="#000000" stroke-width="1.15"/>
<circle cx="1214.37" cy="1246.42" r="3.6" fill="#fff" stroke="#000000" stroke-width="1.15"/>
<circle cx="1214.37" cy="1289.71" r="3.6" fill="#fff" stroke="#000000" stroke-width="1.15"/>
<circle cx="1222.74" cy="1321.3" r="3.6" fill="#fff" stroke="#000000" stroke-width="1.15"/>
<circle cx="1256.94" cy="1321.3" r="3.6" fill="#fff" stroke="#000000" stroke-width="1.15"/>
<circle cx="1260.91" cy="1343.21" r="3.6" fill="#fff" stroke="#000000" stroke-width="1.15"/>
<circle cx="1294.7" cy="1321.93" r="3.6" fill="#fff" stroke="#000000" stroke-width="1.15"/>
<circle cx="1267.79" cy="1380.18" r="3.6" fill="#fff" stroke="#000000" stroke-width="1.15"/>
<circle cx="1287.57" cy="1402.59" r="3.6" fill="#fff" stroke="#000000" stroke-width="1.15"/>
<circle cx="1300.75" cy="1377.99" r="3.6" fill="#fff" stroke="#000000" stroke-width="1.15"/>
<circle cx="1307.34" cy="1383.04" r="3.6" fill="#fff" stroke="#000000" stroke-width="1.15"/>
<circle cx="1333.7" cy="1435.76" r="3.6" fill="#fff" stroke="#000000" stroke-width="1.15"/>
<circle cx="1336.99" cy="1370.96" r="3.6" fill="#fff" stroke="#000000" stroke-width="1.15"/>
<circle cx="1345.12" cy="1420.17" r="3.6" fill="#fff" stroke="#000000" stroke-width="1.15"/>
<circle cx="1353.91" cy="1413.58" r="3.6" fill="#fff" stroke="#000000" stroke-width="1.15"/>
<circle cx="1374.78" cy="1364.81" r="3.6" fill="#fff" stroke="#000000" stroke-width="1.15"/>
<circle cx="1379.83" cy="1411.38" r="3.6" fill="#fff" stroke="#000000" stroke-width="1.15"/>
<circle cx="1379.83" cy="1457.07" r="3.6" fill="#fff" stroke="#000000" stroke-width="1.15"/>
<circle cx="1390.38" cy="1454.22" r="3.6" fill="#fff" stroke="#000000" stroke-width="1.15"/>
<circle cx="1400.04" cy="1438.84" r="3.6" fill="#fff" stroke="#000000" stroke-width="1.15"/>
<circle cx="1416.74" cy="1401.05" r="3.6" fill="#fff" stroke="#000000" stroke-width="1.15"/>
<circle cx="1423.77" cy="1444.33" r="3.6" fill="#fff" stroke="#000000" stroke-width="1.15"/>
<circle cx="1426.41" cy="1476.19" r="3.6" fill="#fff" stroke="#000000" stroke-width="1.15"/>
<circle cx="1435.41" cy="1479.48" r="3.6" fill="#fff" stroke="#000000" stroke-width="1.15"/>
<circle cx="1446.4" cy="1458.17" r="3.6" fill="#fff" stroke="#000000" stroke-width="1.15"/>
<circle cx="1455.62" cy="1395.12" r="3.6" fill="#fff" stroke="#000000" stroke-width="1.15"/>
<circle cx="1460.02" cy="1432.91" r="3.6" fill="#fff" stroke="#000000" stroke-width="1.15"/>
<circle cx="1468.37" cy="1470.25" r="3.6" fill="#fff" stroke="#000000" stroke-width="1.15"/>
<circle cx="1472.1" cy="1489.59" r="3.6" fill="#fff" stroke="#000000" stroke-width="1.15"/>
<circle cx="1480.89" cy="1497.72" r="3.6" fill="#fff" stroke="#000000" stroke-width="1.15"/>
<circle cx="1492.97" cy="1466.52" r="3.6" fill="#fff" stroke="#000000" stroke-width="1.15"/>
<circle cx="1496.92" cy="1423.02" r="3.6" fill="#fff" stroke="#000000" stroke-width="1.15"/>
<circle cx="1501.1" cy="1506.5" r="3.6" fill="#fff" stroke="#000000" stroke-width="1.15"/>
<circle cx="1502.86" cy="1460.37" r="3.6" fill="#fff" stroke="#000000" stroke-width="1.15"/>
<circle cx="1512.74" cy="1492.88" r="3.6" fill="#fff" stroke="#000000" stroke-width="1.15"/>
<circle cx="1518.67" cy="1501.67" r="3.6" fill="#fff" stroke="#000000" stroke-width="1.15"/>
<circle cx="1535.81" cy="1413.8" r="3.6" fill="#fff" stroke="#000000" stroke-width="1.15"/>
<circle cx="1539.54" cy="1447.85" r="3.6" fill="#fff" stroke="#000000" stroke-width="1.15"/>
<circle cx="1539.54" cy="1485.63" r="3.6" fill="#fff" stroke="#000000" stroke-width="1.15"/>
<circle cx="1547.02" cy="1483.06" r="3.6" fill="#fff" stroke="#000000" stroke-width="1.15"/>
<circle cx="1547.02" cy="1519.38" r="3.6" fill="#fff" stroke="#000000" stroke-width="1.15"/>
<circle cx="1557.9" cy="1511.27" r="3.6" fill="#fff" stroke="#000000" stroke-width="1.15"/>
<circle cx="1564.79" cy="1512.71" r="3.6" fill="#fff" stroke="#000000" stroke-width="1.15"/>
<circle cx="1577.58" cy="1437.51" r="3.6" fill="#fff" stroke="#000000" stroke-width="1.15"/>
<circle cx="1582.74" cy="1469.64" r="3.6" fill="#fff" stroke="#000000" stroke-width="1.15"/>
<circle cx="1585.89" cy="1499.97" r="3.6" fill="#fff" stroke="#000000" stroke-width="1.15"/>
<circle cx="1591.51" cy="1501.54" r="3.6" fill="#fff" stroke="#000000" stroke-width="1.15"/>
<circle cx="1593.3" cy="1529.62" r="3.6" fill="#fff" stroke="#000000" stroke-width="1.15"/>
<circle cx="1602.96" cy="1525.13" r="3.6" fill="#fff" stroke="#000000" stroke-width="1.15"/>
<circle cx="1611.5" cy="1522.21" r="3.6" fill="#fff" stroke="#000000" stroke-width="1.15"/>
<circle cx="1616.22" cy="1430.77" r="3.6" fill="#fff" stroke="#000000" stroke-width="1.15"/>
<circle cx="1619.59" cy="1458.85" r="3.6" fill="#fff" stroke="#000000" stroke-width="1.15"/>
<circle cx="1625.88" cy="1488.74" r="3.6" fill="#fff" stroke="#000000" stroke-width="1.15"/>
<circle cx="1634.08" cy="1515.02" r="3.6" fill="#fff" stroke="#000000" stroke-width="1.15"/>
<circle cx="1638.91" cy="1538.16" r="3.6" fill="#fff" stroke="#000000" stroke-width="1.15"/>
<circle cx="1648.35" cy="1536.81" r="3.6" fill="#fff" stroke="#000000" stroke-width="1.15"/>
<circle cx="1657.33" cy="1449.87" r="3.6" fill="#fff" stroke="#000000" stroke-width="1.15"/>
<circle cx="1657.78" cy="1530.75" r="3.6" fill="#fff" stroke="#000000" stroke-width="1.15"/>
<circle cx="1662.28" cy="1478.4" r="3.6" fill="#fff" stroke="#000000" stroke-width="1.15"/>
<circle cx="1670.14" cy="1506.48" r="3.6" fill="#fff" stroke="#000000" stroke-width="1.15"/>
<circle cx="1680.48" cy="1529.62" r="3.6" fill="#fff" stroke="#000000" stroke-width="1.15"/>
<circle cx="1684.97" cy="1544.23" r="3.6" fill="#fff" stroke="#000000" stroke-width="1.15"/>
<circle cx="1693.73" cy="1545.8" r="3.6" fill="#fff" stroke="#000000" stroke-width="1.15"/>
<circle cx="1697.1" cy="1442" r="3.6" fill="#fff" stroke="#000000" stroke-width="1.15"/>
<circle cx="1700.02" cy="1468.51" r="3.6" fill="#fff" stroke="#000000" stroke-width="1.15"/>
<circle cx="1704.07" cy="1538.16" r="3.6" fill="#fff" stroke="#000000" stroke-width="1.15"/>
<circle cx="1705.64" cy="1495.92" r="3.6" fill="#fff" stroke="#000000" stroke-width="1.15"/>
<circle cx="1713.95" cy="1521.31" r="3.6" fill="#fff" stroke="#000000" stroke-width="1.15"/>
<circle cx="1714.18" cy="1550.52" r="3.6" fill="#fff" stroke="#000000" stroke-width="1.15"/>
<circle cx="1725.86" cy="1541.53" r="3.6" fill="#fff" stroke="#000000" stroke-width="1.15"/>
<circle cx="1731.03" cy="1549.17" r="3.6" fill="#fff" stroke="#000000" stroke-width="1.15"/>
<circle cx="1738.22" cy="1458.85" r="3.6" fill="#fff" stroke="#000000" stroke-width="1.15"/>
<circle cx="1742.03" cy="1485.14" r="3.6" fill="#fff" stroke="#000000" stroke-width="1.15"/>
<circle cx="1749" cy="1511.65" r="3.6" fill="#fff" stroke="#000000" stroke-width="1.15"/>
<circle cx="1758.44" cy="1534.57" r="3.6" fill="#fff" stroke="#000000" stroke-width="1.15"/>
<circle cx="1760.01" cy="1557.71" r="3.6" fill="#fff" stroke="#000000" stroke-width="1.15"/>
<circle cx="1770.79" cy="1551.64" r="3.6" fill="#fff" stroke="#000000" stroke-width="1.15"/>
<circle cx="1777.53" cy="1554.79" r="3.6" fill="#fff" stroke="#000000" stroke-width="1.15"/>
<circle cx="1777.08" cy="1449.87" r="3.6" fill="#fff" stroke="#000000" stroke-width="1.15"/>
<circle cx="1779.78" cy="1474.58" r="3.6" fill="#fff" stroke="#000000" stroke-width="1.15"/>
<circle cx="1784.95" cy="1500.42" r="3.6" fill="#fff" stroke="#000000" stroke-width="1.15"/>
<circle cx="1792.81" cy="1524.68" r="3.6" fill="#fff" stroke="#000000" stroke-width="1.15"/>
<circle cx="1803.37" cy="1545.8" r="3.6" fill="#fff" stroke="#000000" stroke-width="1.15"/>
<circle cx="1805.62" cy="1564" r="3.6" fill="#fff" stroke="#000000" stroke-width="1.15"/>
<circle cx="1816.4" cy="1560.4" r="3.6" fill="#fff" stroke="#000000" stroke-width="1.15"/>
<circle cx="1817.97" cy="1464.47" r="3.6" fill="#fff" stroke="#000000" stroke-width="1.15"/>
<circle cx="1822.47" cy="1489.18" r="3.6" fill="#fff" stroke="#000000" stroke-width="1.15"/>
<circle cx="1828.53" cy="1513.9" r="3.6" fill="#fff" stroke="#000000" stroke-width="1.15"/>
<circle cx="1837.07" cy="1535.92" r="3.6" fill="#fff" stroke="#000000" stroke-width="1.15"/>
<circle cx="1848.3" cy="1555.01" r="3.6" fill="#fff" stroke="#000000" stroke-width="1.15"/>
<circle cx="1851.67" cy="1569.39" r="3.6" fill="#fff" stroke="#000000" stroke-width="1.15"/>
<circle cx="1861.33" cy="1567.37" r="3.6" fill="#fff" stroke="#000000" stroke-width="1.15"/>
<circle cx="1857.74" cy="1458.18" r="3.6" fill="#fff" stroke="#000000" stroke-width="1.15"/>
<circle cx="1860.21" cy="1478.63" r="3.6" fill="#fff" stroke="#000000" stroke-width="1.15"/>
<circle cx="1864.7" cy="1502.22" r="3.6" fill="#fff" stroke="#000000" stroke-width="1.15"/>
<circle cx="1872.34" cy="1525.81" r="3.6" fill="#fff" stroke="#000000" stroke-width="1.15"/>
<circle cx="1881.33" cy="1546.03" r="3.6" fill="#fff" stroke="#000000" stroke-width="1.15"/>
<circle cx="1893.24" cy="1562.65" r="3.6" fill="#fff" stroke="#000000" stroke-width="1.15"/>
<circle cx="1906.72" cy="1568.49" r="3.6" fill="#fff" stroke="#000000" stroke-width="1.15"/>
<circle cx="1898.85" cy="1471.66" r="3.6" fill="#fff" stroke="#000000" stroke-width="1.15"/>
<circle cx="1902.67" cy="1492.55" r="3.6" fill="#fff" stroke="#000000" stroke-width="1.15"/>
<circle cx="1908.29" cy="1514.57" r="3.6" fill="#fff" stroke="#000000" stroke-width="1.15"/>
<circle cx="1916.38" cy="1536.36" r="3.6" fill="#fff" stroke="#000000" stroke-width="1.15"/>
<circle cx="1926.49" cy="1555.01" r="3.6" fill="#fff" stroke="#000000" stroke-width="1.15"/>
<circle cx="1926.94" cy="1570.51" r="3.6" fill="#fff" stroke="#000000" stroke-width="1.15"/>
<circle cx="1938.17" cy="1569.62" r="3.6" fill="#fff" stroke="#000000" stroke-width="1.15"/>
<circle cx="1938.17" cy="1464.92" r="3.6" fill="#fff" stroke="#000000" stroke-width="1.15"/>
<circle cx="1940.87" cy="1484.24" r="3.6" fill="#fff" stroke="#000000" stroke-width="1.15"/>
<circle cx="1944.91" cy="1505.59" r="3.6" fill="#fff" stroke="#000000" stroke-width="1.15"/>
<circle cx="1951.65" cy="1525.81" r="3.6" fill="#fff" stroke="#000000" stroke-width="1.15"/>
<circle cx="1960.19" cy="1545.8" r="3.6" fill="#fff" stroke="#000000" stroke-width="1.15"/>
<circle cx="1971.2" cy="1562.88" r="3.6" fill="#fff" stroke="#000000" stroke-width="1.15"/>
<circle cx="1983.55" cy="1569.62" r="3.6" fill="#fff" stroke="#000000" stroke-width="1.15"/>
<circle cx="1979.73" cy="1477.28" r="3.6" fill="#fff" stroke="#000000" stroke-width="1.15"/>
<circle cx="1982.65" cy="1497.05" r="3.6" fill="#fff" stroke="#000000" stroke-width="1.15"/>
<circle cx="1987.15" cy="1517.27" r="3.6" fill="#fff" stroke="#000000" stroke-width="1.15"/>
</g>
<path d="M1123,967.3H1987 M1118.5,1610H1987 M1130,967.3V1621 M1987,967.3V1621" fill="none" stroke="#000" stroke-width="3.1" stroke-linecap="round"/>
<g font-family="'Liberation Sans', Arial, Helvetica, sans-serif" fill="#000"><text x="1109" y="1616.2" text-anchor="end" font-size="24">0.00</text><text x="1109" y="1530.51" text-anchor="end" font-size="24">0.02</text><text x="1109" y="1444.81" text-anchor="end" font-size="24">0.04</text><text x="1109" y="1359.12" text-anchor="end" font-size="24">0.06</text><text x="1109" y="1273.43" text-anchor="end" font-size="24">0.08</text><text x="1109" y="1187.73" text-anchor="end" font-size="24">0.10</text><text x="1109" y="1102.04" text-anchor="end" font-size="24">0.12</text><text x="1109" y="1016.35" text-anchor="end" font-size="24">0.14</text><text x="1130" y="1649.8" text-anchor="middle" font-size="25">0.5</text><text x="1301.4" y="1649.8" text-anchor="middle" font-size="25">1.0</text><text x="1472.8" y="1649.8" text-anchor="middle" font-size="25">1.5</text><text x="1644.2" y="1649.8" text-anchor="middle" font-size="25">2.0</text><text x="1815.6" y="1649.8" text-anchor="middle" font-size="25">2.5</text><text x="1987" y="1649.8" text-anchor="middle" font-size="25">3.0</text></g>
<text font-family="'Liberation Sans', Arial, Helvetica, sans-serif" x="1558" y="1703.8" text-anchor="middle" font-size="36.3">Tube Diameter (nm)</text>
<text font-family="'Liberation Sans', Arial, Helvetica, sans-serif" transform="translate(1039.5,1311.8) rotate(-90)" text-anchor="middle" font-size="36.7">Critical Buckling Strain</text>
<text font-family="'Liberation Sans', Arial, Helvetica, sans-serif" x="1522.45" y="929.4" font-size="67.5" textLength="67.97" lengthAdjust="spacingAndGlyphs">8a</text>
<rect x="1559.1" y="1004.4" width="324.3" height="179.4" fill="#fff" stroke="#111" stroke-width="1.4"/>
<path d="M1564.9,1031H1632.7" stroke="#000" stroke-width="3" stroke-linecap="round"/>
<path d="M1564.9,1075.7H1632.7" stroke="#000" stroke-width="3" stroke-linecap="round"/>
<path d="M1564.9,1120.3H1632.7" stroke="#000" stroke-width="3" stroke-linecap="round"/>
<path d="M1598.5,1023.24 L1600.51,1028.63 L1606.26,1028.88 L1601.76,1032.46 L1603.3,1038 L1598.5,1034.83 L1593.7,1038 L1595.24,1032.46 L1590.74,1028.88 L1596.49,1028.63Z" fill="#000"/><path d="M1598.9,1025.86 L1600.29,1029.09 L1603.79,1029.41 L1601.15,1031.73 L1601.92,1035.16 L1598.9,1033.36 L1595.88,1035.16 L1596.65,1031.73 L1594.01,1029.41 L1597.51,1029.09Z" fill="#ff0000"/>
<path d="M1598.5,1067.94 L1600.51,1073.33 L1606.26,1073.58 L1601.76,1077.16 L1603.3,1082.7 L1598.5,1079.53 L1593.7,1082.7 L1595.24,1077.16 L1590.74,1073.58 L1596.49,1073.33Z" fill="#000"/><path d="M1598.9,1070.56 L1600.29,1073.79 L1603.79,1074.11 L1601.15,1076.43 L1601.92,1079.86 L1598.9,1078.06 L1595.88,1079.86 L1596.65,1076.43 L1594.01,1074.11 L1597.51,1073.79Z" fill="#0000ff"/>
<rect x="1592.7" y="1114.2" width="12.2" height="12.2" fill="#000"/>
<circle cx="1598.8" cy="1165" r="3.8" fill="#fff" stroke="#000000" stroke-width="1.15"/>
<text font-family="'Liberation Sans', Arial, Helvetica, sans-serif" x="1639.51" y="1041.5" font-size="36.2">Zigzag (n,0)</text>
<text font-family="'Liberation Sans', Arial, Helvetica, sans-serif" x="1651.5" y="1086.2" font-size="36.2">Armchair (n,n)</text>
<text font-family="'Liberation Sans', Arial, Helvetica, sans-serif" x="1639.73" y="1130.8" font-size="36.2">(n.n/2)</text>
<text font-family="'Liberation Sans', Arial, Helvetica, sans-serif" x="1640.09" y="1175.5" font-size="36.2">Chiral (n,m)</text>
</g>
</svg>
</body></html>
